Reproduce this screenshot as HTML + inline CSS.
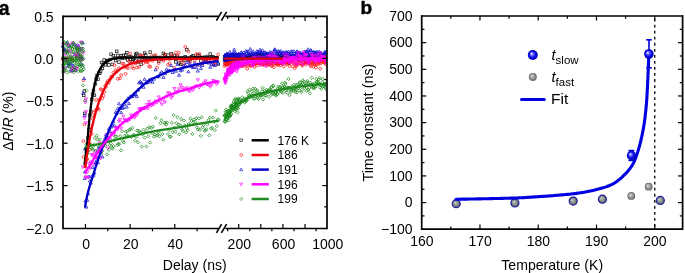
<!DOCTYPE html><html><head><meta charset="utf-8"><style>html,body{margin:0;padding:0;background:#fff;width:685px;height:273px;overflow:hidden}svg{display:block;will-change:transform}</style></head><body><svg width="685" height="273" viewBox="0 0 685 273" font-family='"Liberation Sans", sans-serif' fill="#000"><defs>
<clipPath id="clipA"><rect x="60" y="17" width="266.3" height="210.6"/></clipPath>
<radialGradient id="gb" cx="0.5" cy="0.5" r="0.5" fx="0.36" fy="0.35">
<stop offset="0" stop-color="#ececff"/><stop offset="0.28" stop-color="#7a7aff"/><stop offset="0.55" stop-color="#1a1af2"/><stop offset="0.85" stop-color="#0000cc"/><stop offset="1" stop-color="#00008c"/></radialGradient>
<radialGradient id="gg" cx="0.5" cy="0.5" r="0.5" fx="0.36" fy="0.35">
<stop offset="0" stop-color="#eaeaea"/><stop offset="0.3" stop-color="#b6b6b6"/><stop offset="0.65" stop-color="#8e8e8e"/><stop offset="1" stop-color="#666666"/></radialGradient>
<radialGradient id="gr" cx="0.5" cy="0.5" r="0.5" fx="0.36" fy="0.35">
<stop offset="0" stop-color="#d8dcd8"/><stop offset="0.3" stop-color="#a4aaa4"/><stop offset="0.7" stop-color="#7c847c"/><stop offset="1" stop-color="#566056"/></radialGradient>
</defs><g clip-path="url(#clipA)" fill="none" stroke-width="0.72"><g stroke="#111111"><rect x="61.99" y="57.1" width="2.6" height="2.6"/><rect x="65.79" y="57.91" width="2.6" height="2.6"/><rect x="70.9" y="58.45" width="2.6" height="2.6"/><rect x="75.32" y="56.92" width="2.6" height="2.6"/><rect x="79.43" y="58.56" width="2.6" height="2.6"/><rect x="82.47" y="94.08" width="2.6" height="2.6"/><rect x="83.06" y="89.78" width="2.6" height="2.6"/><rect x="83.45" y="112.07" width="2.6" height="2.6"/><rect x="84.15" y="161.45" width="2.6" height="2.6"/><rect x="85.04" y="150.5" width="2.6" height="2.6"/><rect x="85.94" y="149.03" width="2.6" height="2.6"/><rect x="86.83" y="136.71" width="2.6" height="2.6"/><rect x="87.72" y="128.58" width="2.6" height="2.6"/><rect x="88.62" y="113.88" width="2.6" height="2.6"/><rect x="89.51" y="110.37" width="2.6" height="2.6"/><rect x="90.4" y="98.02" width="2.6" height="2.6"/><rect x="91.3" y="92.83" width="2.6" height="2.6"/><rect x="92.19" y="89.25" width="2.6" height="2.6"/><rect x="93.08" y="93.89" width="2.6" height="2.6"/><rect x="93.98" y="82.65" width="2.6" height="2.6"/><rect x="94.87" y="77.57" width="2.6" height="2.6"/><rect x="95.76" y="74.16" width="2.6" height="2.6"/><rect x="96.65" y="78.01" width="2.6" height="2.6"/><rect x="97.55" y="71.89" width="2.6" height="2.6"/><rect x="98.44" y="71.97" width="2.6" height="2.6"/><rect x="99.33" y="69.73" width="2.6" height="2.6"/><rect x="100.23" y="61.21" width="2.6" height="2.6"/><rect x="101.12" y="67.14" width="2.6" height="2.6"/><rect x="102.01" y="63.14" width="2.6" height="2.6"/><rect x="102.91" y="58.73" width="2.6" height="2.6"/><rect x="103.8" y="63.54" width="2.6" height="2.6"/><rect x="104.69" y="61.06" width="2.6" height="2.6"/><rect x="105.59" y="59.61" width="2.6" height="2.6"/><rect x="106.48" y="59.27" width="2.6" height="2.6"/><rect x="107.6" y="63.64" width="2.6" height="2.6"/><rect x="108.71" y="58.21" width="2.6" height="2.6"/><rect x="109.83" y="52.93" width="2.6" height="2.6"/><rect x="110.95" y="63.1" width="2.6" height="2.6"/><rect x="112.06" y="54.56" width="2.6" height="2.6"/><rect x="113.18" y="56.87" width="2.6" height="2.6"/><rect x="114.3" y="59.29" width="2.6" height="2.6"/><rect x="115.41" y="50.06" width="2.6" height="2.6"/><rect x="116.53" y="54.17" width="2.6" height="2.6"/><rect x="117.65" y="60.8" width="2.6" height="2.6"/><rect x="118.76" y="56.33" width="2.6" height="2.6"/><rect x="119.88" y="54.52" width="2.6" height="2.6"/><rect x="120.99" y="57.08" width="2.6" height="2.6"/><rect x="122.11" y="54.03" width="2.6" height="2.6"/><rect x="123.23" y="56.56" width="2.6" height="2.6"/><rect x="124.34" y="54" width="2.6" height="2.6"/><rect x="125.46" y="51.32" width="2.6" height="2.6"/><rect x="126.58" y="58.55" width="2.6" height="2.6"/><rect x="127.69" y="55.51" width="2.6" height="2.6"/><rect x="128.81" y="57.78" width="2.6" height="2.6"/><rect x="129.93" y="55.73" width="2.6" height="2.6"/><rect x="131.04" y="60.23" width="2.6" height="2.6"/><rect x="132.16" y="58.13" width="2.6" height="2.6"/><rect x="133.28" y="56.81" width="2.6" height="2.6"/><rect x="134.39" y="53.04" width="2.6" height="2.6"/><rect x="135.51" y="52.19" width="2.6" height="2.6"/><rect x="136.63" y="60.66" width="2.6" height="2.6"/><rect x="137.74" y="58.84" width="2.6" height="2.6"/><rect x="138.86" y="53.88" width="2.6" height="2.6"/><rect x="139.97" y="62.94" width="2.6" height="2.6"/><rect x="141.09" y="57.69" width="2.6" height="2.6"/><rect x="142.21" y="56.43" width="2.6" height="2.6"/><rect x="143.32" y="51.78" width="2.6" height="2.6"/><rect x="144.44" y="53.72" width="2.6" height="2.6"/><rect x="145.56" y="57.21" width="2.6" height="2.6"/><rect x="146.67" y="57.35" width="2.6" height="2.6"/><rect x="147.79" y="56.95" width="2.6" height="2.6"/><rect x="148.91" y="50.85" width="2.6" height="2.6"/><rect x="150.02" y="57.56" width="2.6" height="2.6"/><rect x="151.14" y="57.13" width="2.6" height="2.6"/><rect x="152.7" y="54.87" width="2.6" height="2.6"/><rect x="154.27" y="56.5" width="2.6" height="2.6"/><rect x="155.83" y="56.76" width="2.6" height="2.6"/><rect x="157.39" y="59.91" width="2.6" height="2.6"/><rect x="158.96" y="56.12" width="2.6" height="2.6"/><rect x="160.52" y="57.61" width="2.6" height="2.6"/><rect x="162.08" y="52.08" width="2.6" height="2.6"/><rect x="163.64" y="53.84" width="2.6" height="2.6"/><rect x="165.21" y="56.17" width="2.6" height="2.6"/><rect x="166.77" y="53.79" width="2.6" height="2.6"/><rect x="168.33" y="57.25" width="2.6" height="2.6"/><rect x="169.9" y="52.47" width="2.6" height="2.6"/><rect x="171.46" y="56.1" width="2.6" height="2.6"/><rect x="173.02" y="54.08" width="2.6" height="2.6"/><rect x="174.59" y="60.52" width="2.6" height="2.6"/><rect x="176.15" y="54.89" width="2.6" height="2.6"/><rect x="177.71" y="61.88" width="2.6" height="2.6"/><rect x="179.28" y="63.07" width="2.6" height="2.6"/><rect x="180.84" y="57.13" width="2.6" height="2.6"/><rect x="182.4" y="59.17" width="2.6" height="2.6"/><rect x="183.97" y="55.52" width="2.6" height="2.6"/><rect x="185.53" y="48.37" width="2.6" height="2.6"/><rect x="187.09" y="58.94" width="2.6" height="2.6"/><rect x="188.65" y="58.23" width="2.6" height="2.6"/><rect x="190.22" y="55.38" width="2.6" height="2.6"/><rect x="191.78" y="54.39" width="2.6" height="2.6"/><rect x="193.34" y="56.69" width="2.6" height="2.6"/><rect x="194.91" y="56.79" width="2.6" height="2.6"/><rect x="196.47" y="53.67" width="2.6" height="2.6"/><rect x="198.03" y="54.3" width="2.6" height="2.6"/><rect x="199.6" y="59.63" width="2.6" height="2.6"/><rect x="201.16" y="56.35" width="2.6" height="2.6"/><rect x="202.72" y="55.96" width="2.6" height="2.6"/><rect x="204.29" y="59.7" width="2.6" height="2.6"/><rect x="205.85" y="55.19" width="2.6" height="2.6"/><rect x="207.41" y="59.03" width="2.6" height="2.6"/><rect x="208.97" y="52.74" width="2.6" height="2.6"/><rect x="210.54" y="55.42" width="2.6" height="2.6"/><rect x="212.1" y="55.78" width="2.6" height="2.6"/><rect x="213.66" y="58.11" width="2.6" height="2.6"/><rect x="215.23" y="56.49" width="2.6" height="2.6"/><rect x="216.79" y="62.94" width="2.6" height="2.6"/><rect x="223.24" y="58" width="2.6" height="2.6"/><rect x="223.57" y="55.47" width="2.6" height="2.6"/><rect x="223.91" y="59.69" width="2.6" height="2.6"/><rect x="224.24" y="54.65" width="2.6" height="2.6"/><rect x="224.57" y="59.04" width="2.6" height="2.6"/><rect x="224.9" y="54.8" width="2.6" height="2.6"/><rect x="225.23" y="57.52" width="2.6" height="2.6"/><rect x="225.57" y="54.76" width="2.6" height="2.6"/><rect x="225.9" y="55.86" width="2.6" height="2.6"/><rect x="226.23" y="58.69" width="2.6" height="2.6"/><rect x="226.56" y="53.96" width="2.6" height="2.6"/><rect x="226.89" y="53.64" width="2.6" height="2.6"/><rect x="227.22" y="56.19" width="2.6" height="2.6"/><rect x="227.56" y="56.55" width="2.6" height="2.6"/><rect x="227.89" y="56.35" width="2.6" height="2.6"/><rect x="228.22" y="57.74" width="2.6" height="2.6"/><rect x="228.55" y="54.22" width="2.6" height="2.6"/><rect x="228.88" y="57" width="2.6" height="2.6"/><rect x="229.22" y="56.17" width="2.6" height="2.6"/><rect x="229.55" y="57.43" width="2.6" height="2.6"/><rect x="229.88" y="57.14" width="2.6" height="2.6"/><rect x="230.21" y="58.25" width="2.6" height="2.6"/><rect x="230.54" y="53.95" width="2.6" height="2.6"/><rect x="230.87" y="56.34" width="2.6" height="2.6"/><rect x="231.21" y="54.44" width="2.6" height="2.6"/><rect x="231.54" y="56.06" width="2.6" height="2.6"/><rect x="231.87" y="57.26" width="2.6" height="2.6"/><rect x="232.2" y="56.64" width="2.6" height="2.6"/><rect x="232.53" y="57.03" width="2.6" height="2.6"/><rect x="232.87" y="56.07" width="2.6" height="2.6"/><rect x="233.2" y="56.72" width="2.6" height="2.6"/><rect x="233.53" y="56.59" width="2.6" height="2.6"/><rect x="233.86" y="58.42" width="2.6" height="2.6"/><rect x="234.19" y="57.45" width="2.6" height="2.6"/><rect x="234.52" y="53.28" width="2.6" height="2.6"/><rect x="234.86" y="57.22" width="2.6" height="2.6"/><rect x="235.19" y="57.87" width="2.6" height="2.6"/><rect x="235.52" y="55.51" width="2.6" height="2.6"/><rect x="235.85" y="53.7" width="2.6" height="2.6"/><rect x="236.18" y="58.55" width="2.6" height="2.6"/><rect x="236.52" y="56.44" width="2.6" height="2.6"/><rect x="236.85" y="57.16" width="2.6" height="2.6"/><rect x="237.18" y="59.07" width="2.6" height="2.6"/><rect x="237.4" y="54.84" width="2.6" height="2.6"/><rect x="238.01" y="56.12" width="2.6" height="2.6"/><rect x="238.62" y="55.96" width="2.6" height="2.6"/><rect x="239.22" y="57.36" width="2.6" height="2.6"/><rect x="239.83" y="55.31" width="2.6" height="2.6"/><rect x="240.44" y="57" width="2.6" height="2.6"/><rect x="241.05" y="56.33" width="2.6" height="2.6"/><rect x="241.66" y="57.97" width="2.6" height="2.6"/><rect x="242.27" y="58.15" width="2.6" height="2.6"/><rect x="242.87" y="53.82" width="2.6" height="2.6"/><rect x="243.48" y="56.95" width="2.6" height="2.6"/><rect x="244.09" y="55.59" width="2.6" height="2.6"/><rect x="244.7" y="56.15" width="2.6" height="2.6"/><rect x="245.31" y="56.84" width="2.6" height="2.6"/><rect x="245.92" y="56.95" width="2.6" height="2.6"/><rect x="246.52" y="55.02" width="2.6" height="2.6"/><rect x="247.13" y="56.6" width="2.6" height="2.6"/><rect x="247.74" y="56.35" width="2.6" height="2.6"/><rect x="248.35" y="56.06" width="2.6" height="2.6"/><rect x="248.96" y="54.1" width="2.6" height="2.6"/><rect x="249.57" y="54.94" width="2.6" height="2.6"/><rect x="250.17" y="55.45" width="2.6" height="2.6"/><rect x="250.78" y="57.05" width="2.6" height="2.6"/><rect x="251.39" y="58.44" width="2.6" height="2.6"/><rect x="252" y="54.49" width="2.6" height="2.6"/><rect x="252.61" y="54.46" width="2.6" height="2.6"/><rect x="253.22" y="56.34" width="2.6" height="2.6"/><rect x="253.82" y="55.18" width="2.6" height="2.6"/><rect x="254.43" y="54.78" width="2.6" height="2.6"/><rect x="255.04" y="54.69" width="2.6" height="2.6"/><rect x="255.65" y="54.54" width="2.6" height="2.6"/><rect x="256.26" y="56.88" width="2.6" height="2.6"/><rect x="256.87" y="53.54" width="2.6" height="2.6"/><rect x="257.47" y="58.22" width="2.6" height="2.6"/><rect x="258.08" y="54.65" width="2.6" height="2.6"/><rect x="258.69" y="55.27" width="2.6" height="2.6"/><rect x="259.3" y="54.63" width="2.6" height="2.6"/><rect x="259.91" y="52.93" width="2.6" height="2.6"/><rect x="260.52" y="53.6" width="2.6" height="2.6"/><rect x="261.12" y="58.06" width="2.6" height="2.6"/><rect x="261.73" y="58.98" width="2.6" height="2.6"/><rect x="262.34" y="54.74" width="2.6" height="2.6"/><rect x="262.95" y="57.84" width="2.6" height="2.6"/><rect x="263.56" y="56.15" width="2.6" height="2.6"/><rect x="264.17" y="54.7" width="2.6" height="2.6"/><rect x="264.77" y="58.92" width="2.6" height="2.6"/><rect x="265.38" y="59.71" width="2.6" height="2.6"/><rect x="265.99" y="55.69" width="2.6" height="2.6"/><rect x="266.6" y="56.06" width="2.6" height="2.6"/><rect x="267.21" y="56.55" width="2.6" height="2.6"/><rect x="267.81" y="56.07" width="2.6" height="2.6"/><rect x="268.42" y="57.6" width="2.6" height="2.6"/><rect x="269.03" y="58.71" width="2.6" height="2.6"/><rect x="269.64" y="56.43" width="2.6" height="2.6"/><rect x="270.25" y="57.8" width="2.6" height="2.6"/><rect x="270.86" y="58.94" width="2.6" height="2.6"/><rect x="271.46" y="55.29" width="2.6" height="2.6"/><rect x="272.07" y="56.26" width="2.6" height="2.6"/><rect x="272.68" y="55.47" width="2.6" height="2.6"/><rect x="273.29" y="57.84" width="2.6" height="2.6"/><rect x="273.9" y="57.28" width="2.6" height="2.6"/><rect x="274.51" y="57.86" width="2.6" height="2.6"/><rect x="275.11" y="57.67" width="2.6" height="2.6"/><rect x="275.72" y="55.84" width="2.6" height="2.6"/><rect x="276.33" y="57.5" width="2.6" height="2.6"/><rect x="276.94" y="55.57" width="2.6" height="2.6"/><rect x="277.55" y="55.61" width="2.6" height="2.6"/><rect x="278.16" y="52.75" width="2.6" height="2.6"/><rect x="278.76" y="58.55" width="2.6" height="2.6"/><rect x="279.37" y="54.69" width="2.6" height="2.6"/><rect x="279.98" y="56.35" width="2.6" height="2.6"/><rect x="280.59" y="56.22" width="2.6" height="2.6"/><rect x="281.2" y="58.66" width="2.6" height="2.6"/><rect x="281.81" y="56.99" width="2.6" height="2.6"/><rect x="282.41" y="54.95" width="2.6" height="2.6"/><rect x="283.02" y="56.35" width="2.6" height="2.6"/><rect x="283.63" y="56.08" width="2.6" height="2.6"/><rect x="284.24" y="56.71" width="2.6" height="2.6"/><rect x="284.85" y="54.27" width="2.6" height="2.6"/><rect x="285.46" y="56.27" width="2.6" height="2.6"/><rect x="286.06" y="59.97" width="2.6" height="2.6"/><rect x="286.67" y="57.41" width="2.6" height="2.6"/><rect x="287.28" y="59.58" width="2.6" height="2.6"/><rect x="287.89" y="61.76" width="2.6" height="2.6"/><rect x="288.5" y="57.15" width="2.6" height="2.6"/><rect x="289.11" y="54" width="2.6" height="2.6"/><rect x="289.71" y="56.18" width="2.6" height="2.6"/><rect x="290.32" y="58.26" width="2.6" height="2.6"/><rect x="290.93" y="57.87" width="2.6" height="2.6"/><rect x="291.54" y="54.36" width="2.6" height="2.6"/><rect x="292.15" y="56.01" width="2.6" height="2.6"/><rect x="292.76" y="56.21" width="2.6" height="2.6"/><rect x="293.36" y="56.38" width="2.6" height="2.6"/><rect x="293.97" y="56.23" width="2.6" height="2.6"/><rect x="294.58" y="54.94" width="2.6" height="2.6"/><rect x="295.19" y="55.37" width="2.6" height="2.6"/><rect x="295.8" y="55.95" width="2.6" height="2.6"/><rect x="296.41" y="58.09" width="2.6" height="2.6"/><rect x="297.01" y="55.46" width="2.6" height="2.6"/><rect x="297.62" y="57.49" width="2.6" height="2.6"/><rect x="298.23" y="54.48" width="2.6" height="2.6"/><rect x="298.84" y="58.5" width="2.6" height="2.6"/><rect x="299.45" y="56.58" width="2.6" height="2.6"/><rect x="300.05" y="56.37" width="2.6" height="2.6"/><rect x="300.66" y="58.61" width="2.6" height="2.6"/><rect x="301.27" y="53.45" width="2.6" height="2.6"/><rect x="301.88" y="53.9" width="2.6" height="2.6"/><rect x="302.49" y="57.17" width="2.6" height="2.6"/><rect x="303.1" y="55.08" width="2.6" height="2.6"/><rect x="303.7" y="55.76" width="2.6" height="2.6"/><rect x="304.31" y="60.84" width="2.6" height="2.6"/><rect x="304.92" y="55.99" width="2.6" height="2.6"/><rect x="305.53" y="56.52" width="2.6" height="2.6"/><rect x="306.14" y="56.29" width="2.6" height="2.6"/><rect x="306.75" y="58.26" width="2.6" height="2.6"/><rect x="307.35" y="56.9" width="2.6" height="2.6"/><rect x="307.96" y="56.75" width="2.6" height="2.6"/><rect x="308.57" y="54.44" width="2.6" height="2.6"/><rect x="309.18" y="55.9" width="2.6" height="2.6"/><rect x="309.79" y="56.48" width="2.6" height="2.6"/><rect x="310.4" y="53.89" width="2.6" height="2.6"/><rect x="311" y="57.43" width="2.6" height="2.6"/><rect x="311.61" y="57.16" width="2.6" height="2.6"/><rect x="312.22" y="59.59" width="2.6" height="2.6"/><rect x="312.83" y="53.85" width="2.6" height="2.6"/><rect x="313.44" y="54.89" width="2.6" height="2.6"/><rect x="314.05" y="54.98" width="2.6" height="2.6"/><rect x="314.65" y="55.41" width="2.6" height="2.6"/><rect x="315.26" y="56.36" width="2.6" height="2.6"/><rect x="315.87" y="56.19" width="2.6" height="2.6"/><rect x="316.48" y="57" width="2.6" height="2.6"/><rect x="317.09" y="56.92" width="2.6" height="2.6"/><rect x="317.7" y="56.5" width="2.6" height="2.6"/><rect x="318.3" y="54.03" width="2.6" height="2.6"/><rect x="318.91" y="55.66" width="2.6" height="2.6"/><rect x="319.52" y="56.72" width="2.6" height="2.6"/><rect x="320.13" y="57.61" width="2.6" height="2.6"/><rect x="320.74" y="57.71" width="2.6" height="2.6"/><rect x="321.35" y="53.93" width="2.6" height="2.6"/><rect x="321.95" y="55.8" width="2.6" height="2.6"/><rect x="322.56" y="56.55" width="2.6" height="2.6"/><rect x="323.17" y="57.27" width="2.6" height="2.6"/><rect x="323.78" y="58.57" width="2.6" height="2.6"/><rect x="324.39" y="56.81" width="2.6" height="2.6"/><rect x="325" y="55.23" width="2.6" height="2.6"/><rect x="325.6" y="57.39" width="2.6" height="2.6"/></g><g stroke="#ff1010"><circle cx="62.53" cy="59.07" r="1.4"/><circle cx="67.86" cy="58.07" r="1.4"/><circle cx="72.04" cy="59.1" r="1.4"/><circle cx="76.72" cy="55.77" r="1.4"/><circle cx="81.25" cy="56.69" r="1.4"/><circle cx="83.4" cy="80.31" r="1.4"/><circle cx="84.36" cy="124.37" r="1.4"/><circle cx="83.45" cy="141.24" r="1.4"/><circle cx="83.55" cy="157.02" r="1.4"/><circle cx="85.45" cy="166.67" r="1.4"/><circle cx="86.34" cy="160.19" r="1.4"/><circle cx="87.24" cy="159.01" r="1.4"/><circle cx="88.13" cy="146.01" r="1.4"/><circle cx="89.02" cy="149.48" r="1.4"/><circle cx="89.92" cy="143.84" r="1.4"/><circle cx="90.81" cy="126.1" r="1.4"/><circle cx="91.7" cy="133.83" r="1.4"/><circle cx="92.6" cy="118.81" r="1.4"/><circle cx="93.49" cy="112.54" r="1.4"/><circle cx="94.38" cy="115.9" r="1.4"/><circle cx="95.28" cy="110.88" r="1.4"/><circle cx="96.17" cy="99.96" r="1.4"/><circle cx="97.06" cy="108.79" r="1.4"/><circle cx="97.95" cy="108.13" r="1.4"/><circle cx="98.85" cy="109.65" r="1.4"/><circle cx="99.74" cy="99.43" r="1.4"/><circle cx="100.63" cy="89.13" r="1.4"/><circle cx="101.53" cy="89.76" r="1.4"/><circle cx="102.42" cy="98.13" r="1.4"/><circle cx="103.31" cy="95.67" r="1.4"/><circle cx="104.21" cy="91.86" r="1.4"/><circle cx="105.1" cy="85.71" r="1.4"/><circle cx="105.99" cy="86.79" r="1.4"/><circle cx="106.89" cy="82.91" r="1.4"/><circle cx="107.78" cy="80.98" r="1.4"/><circle cx="108.9" cy="82.54" r="1.4"/><circle cx="110.01" cy="79.52" r="1.4"/><circle cx="111.13" cy="76.67" r="1.4"/><circle cx="112.25" cy="76.83" r="1.4"/><circle cx="113.36" cy="72.8" r="1.4"/><circle cx="114.48" cy="65.2" r="1.4"/><circle cx="115.6" cy="70.09" r="1.4"/><circle cx="116.71" cy="71.58" r="1.4"/><circle cx="117.83" cy="78.8" r="1.4"/><circle cx="118.95" cy="68.2" r="1.4"/><circle cx="120.06" cy="78.32" r="1.4"/><circle cx="121.18" cy="75.04" r="1.4"/><circle cx="122.29" cy="63.73" r="1.4"/><circle cx="123.41" cy="63.77" r="1.4"/><circle cx="124.53" cy="67.18" r="1.4"/><circle cx="125.64" cy="73.93" r="1.4"/><circle cx="126.76" cy="67.13" r="1.4"/><circle cx="127.88" cy="68.09" r="1.4"/><circle cx="128.99" cy="61.47" r="1.4"/><circle cx="130.11" cy="53.46" r="1.4"/><circle cx="131.23" cy="62.64" r="1.4"/><circle cx="132.34" cy="66.95" r="1.4"/><circle cx="133.46" cy="68.44" r="1.4"/><circle cx="134.58" cy="62.91" r="1.4"/><circle cx="135.69" cy="63.19" r="1.4"/><circle cx="136.81" cy="67.49" r="1.4"/><circle cx="137.93" cy="61.3" r="1.4"/><circle cx="139.04" cy="67.01" r="1.4"/><circle cx="140.16" cy="56.2" r="1.4"/><circle cx="141.28" cy="56.23" r="1.4"/><circle cx="142.39" cy="55.94" r="1.4"/><circle cx="143.51" cy="63.08" r="1.4"/><circle cx="144.62" cy="58.29" r="1.4"/><circle cx="145.74" cy="61.17" r="1.4"/><circle cx="146.86" cy="62.23" r="1.4"/><circle cx="147.97" cy="61.88" r="1.4"/><circle cx="149.09" cy="66.26" r="1.4"/><circle cx="150.21" cy="66.83" r="1.4"/><circle cx="151.32" cy="56.24" r="1.4"/><circle cx="152.44" cy="60.76" r="1.4"/><circle cx="154" cy="58.73" r="1.4"/><circle cx="155.57" cy="54.94" r="1.4"/><circle cx="157.13" cy="67.66" r="1.4"/><circle cx="158.69" cy="63.13" r="1.4"/><circle cx="160.26" cy="58.55" r="1.4"/><circle cx="161.82" cy="57.46" r="1.4"/><circle cx="163.38" cy="61" r="1.4"/><circle cx="164.94" cy="54.36" r="1.4"/><circle cx="166.51" cy="58.14" r="1.4"/><circle cx="168.07" cy="64.77" r="1.4"/><circle cx="169.63" cy="63.4" r="1.4"/><circle cx="171.2" cy="55.23" r="1.4"/><circle cx="172.76" cy="56.79" r="1.4"/><circle cx="174.32" cy="67.83" r="1.4"/><circle cx="175.89" cy="52.59" r="1.4"/><circle cx="177.45" cy="56.08" r="1.4"/><circle cx="179.01" cy="52.57" r="1.4"/><circle cx="180.58" cy="60.64" r="1.4"/><circle cx="182.14" cy="60.21" r="1.4"/><circle cx="183.7" cy="64.08" r="1.4"/><circle cx="185.27" cy="46.9" r="1.4"/><circle cx="186.83" cy="59.6" r="1.4"/><circle cx="188.39" cy="51.33" r="1.4"/><circle cx="189.95" cy="61.79" r="1.4"/><circle cx="191.52" cy="57.98" r="1.4"/><circle cx="193.08" cy="66.57" r="1.4"/><circle cx="194.64" cy="60.52" r="1.4"/><circle cx="196.21" cy="54.11" r="1.4"/><circle cx="197.77" cy="64.58" r="1.4"/><circle cx="199.33" cy="53.68" r="1.4"/><circle cx="200.9" cy="57.12" r="1.4"/><circle cx="202.46" cy="63.59" r="1.4"/><circle cx="204.02" cy="61.04" r="1.4"/><circle cx="205.59" cy="60.84" r="1.4"/><circle cx="207.15" cy="58.92" r="1.4"/><circle cx="208.71" cy="61.19" r="1.4"/><circle cx="210.27" cy="62.56" r="1.4"/><circle cx="211.84" cy="60.1" r="1.4"/><circle cx="213.4" cy="63.49" r="1.4"/><circle cx="214.96" cy="64.71" r="1.4"/><circle cx="216.53" cy="58.9" r="1.4"/><circle cx="218.09" cy="54.53" r="1.4"/><circle cx="224.54" cy="66.18" r="1.4"/><circle cx="224.88" cy="63.06" r="1.4"/><circle cx="225.21" cy="64.39" r="1.4"/><circle cx="225.54" cy="65.05" r="1.4"/><circle cx="225.87" cy="61.33" r="1.4"/><circle cx="226.2" cy="64.12" r="1.4"/><circle cx="226.53" cy="60.01" r="1.4"/><circle cx="226.87" cy="64.65" r="1.4"/><circle cx="227.2" cy="62.28" r="1.4"/><circle cx="227.53" cy="63.53" r="1.4"/><circle cx="227.86" cy="64.6" r="1.4"/><circle cx="228.19" cy="61.87" r="1.4"/><circle cx="228.52" cy="63.38" r="1.4"/><circle cx="228.86" cy="61.84" r="1.4"/><circle cx="229.19" cy="63.16" r="1.4"/><circle cx="229.52" cy="65.27" r="1.4"/><circle cx="229.85" cy="63.27" r="1.4"/><circle cx="230.18" cy="62.96" r="1.4"/><circle cx="230.52" cy="61.11" r="1.4"/><circle cx="230.85" cy="64.91" r="1.4"/><circle cx="231.18" cy="63.14" r="1.4"/><circle cx="231.51" cy="66.57" r="1.4"/><circle cx="231.84" cy="61.74" r="1.4"/><circle cx="232.17" cy="65.27" r="1.4"/><circle cx="232.51" cy="66.74" r="1.4"/><circle cx="232.84" cy="63.18" r="1.4"/><circle cx="233.17" cy="60.81" r="1.4"/><circle cx="233.5" cy="66.17" r="1.4"/><circle cx="233.83" cy="65.28" r="1.4"/><circle cx="234.17" cy="64.58" r="1.4"/><circle cx="234.5" cy="65.36" r="1.4"/><circle cx="234.83" cy="62.29" r="1.4"/><circle cx="235.16" cy="64.71" r="1.4"/><circle cx="235.49" cy="64.53" r="1.4"/><circle cx="235.82" cy="61.88" r="1.4"/><circle cx="236.16" cy="64.6" r="1.4"/><circle cx="236.49" cy="62.18" r="1.4"/><circle cx="236.82" cy="65.04" r="1.4"/><circle cx="237.15" cy="65.53" r="1.4"/><circle cx="237.48" cy="66.8" r="1.4"/><circle cx="237.82" cy="59.28" r="1.4"/><circle cx="238.15" cy="63.72" r="1.4"/><circle cx="238.48" cy="62.57" r="1.4"/><circle cx="238.7" cy="63.13" r="1.4"/><circle cx="239.31" cy="62.74" r="1.4"/><circle cx="239.92" cy="62.96" r="1.4"/><circle cx="240.52" cy="59.18" r="1.4"/><circle cx="241.13" cy="65.18" r="1.4"/><circle cx="241.74" cy="66.23" r="1.4"/><circle cx="242.35" cy="65.12" r="1.4"/><circle cx="242.96" cy="65.78" r="1.4"/><circle cx="243.57" cy="61.54" r="1.4"/><circle cx="244.17" cy="61.39" r="1.4"/><circle cx="244.78" cy="65.02" r="1.4"/><circle cx="245.39" cy="65.89" r="1.4"/><circle cx="246" cy="63.79" r="1.4"/><circle cx="246.61" cy="60.23" r="1.4"/><circle cx="247.22" cy="68.8" r="1.4"/><circle cx="247.82" cy="61.99" r="1.4"/><circle cx="248.43" cy="65.25" r="1.4"/><circle cx="249.04" cy="60.95" r="1.4"/><circle cx="249.65" cy="65.26" r="1.4"/><circle cx="250.26" cy="63.64" r="1.4"/><circle cx="250.87" cy="66.13" r="1.4"/><circle cx="251.47" cy="65.05" r="1.4"/><circle cx="252.08" cy="60.24" r="1.4"/><circle cx="252.69" cy="61.39" r="1.4"/><circle cx="253.3" cy="63.88" r="1.4"/><circle cx="253.91" cy="64.83" r="1.4"/><circle cx="254.52" cy="66.92" r="1.4"/><circle cx="255.12" cy="63.87" r="1.4"/><circle cx="255.73" cy="63.13" r="1.4"/><circle cx="256.34" cy="63.24" r="1.4"/><circle cx="256.95" cy="63.25" r="1.4"/><circle cx="257.56" cy="65.35" r="1.4"/><circle cx="258.17" cy="63.2" r="1.4"/><circle cx="258.77" cy="63.14" r="1.4"/><circle cx="259.38" cy="60.44" r="1.4"/><circle cx="259.99" cy="59.26" r="1.4"/><circle cx="260.6" cy="63.34" r="1.4"/><circle cx="261.21" cy="64.62" r="1.4"/><circle cx="261.82" cy="63.2" r="1.4"/><circle cx="262.42" cy="64.3" r="1.4"/><circle cx="263.03" cy="64.58" r="1.4"/><circle cx="263.64" cy="63.18" r="1.4"/><circle cx="264.25" cy="65.19" r="1.4"/><circle cx="264.86" cy="61.83" r="1.4"/><circle cx="265.47" cy="63.28" r="1.4"/><circle cx="266.07" cy="62.56" r="1.4"/><circle cx="266.68" cy="63.44" r="1.4"/><circle cx="267.29" cy="64.54" r="1.4"/><circle cx="267.9" cy="64.99" r="1.4"/><circle cx="268.51" cy="63.55" r="1.4"/><circle cx="269.12" cy="64.18" r="1.4"/><circle cx="269.72" cy="62.59" r="1.4"/><circle cx="270.33" cy="63.07" r="1.4"/><circle cx="270.94" cy="65.84" r="1.4"/><circle cx="271.55" cy="62.93" r="1.4"/><circle cx="272.16" cy="65.8" r="1.4"/><circle cx="272.76" cy="64.32" r="1.4"/><circle cx="273.37" cy="63.66" r="1.4"/><circle cx="273.98" cy="67.29" r="1.4"/><circle cx="274.59" cy="62.88" r="1.4"/><circle cx="275.2" cy="62.76" r="1.4"/><circle cx="275.81" cy="63.39" r="1.4"/><circle cx="276.41" cy="63.93" r="1.4"/><circle cx="277.02" cy="63.82" r="1.4"/><circle cx="277.63" cy="65.05" r="1.4"/><circle cx="278.24" cy="63.61" r="1.4"/><circle cx="278.85" cy="64.19" r="1.4"/><circle cx="279.46" cy="62.88" r="1.4"/><circle cx="280.06" cy="65.51" r="1.4"/><circle cx="280.67" cy="62.58" r="1.4"/><circle cx="281.28" cy="62.77" r="1.4"/><circle cx="281.89" cy="63.35" r="1.4"/><circle cx="282.5" cy="63.96" r="1.4"/><circle cx="283.11" cy="61.94" r="1.4"/><circle cx="283.71" cy="66.45" r="1.4"/><circle cx="284.32" cy="62.13" r="1.4"/><circle cx="284.93" cy="62.57" r="1.4"/><circle cx="285.54" cy="62.49" r="1.4"/><circle cx="286.15" cy="62.28" r="1.4"/><circle cx="286.76" cy="64.39" r="1.4"/><circle cx="287.36" cy="63.59" r="1.4"/><circle cx="287.97" cy="61.77" r="1.4"/><circle cx="288.58" cy="62.19" r="1.4"/><circle cx="289.19" cy="62.64" r="1.4"/><circle cx="289.8" cy="66.15" r="1.4"/><circle cx="290.41" cy="61.97" r="1.4"/><circle cx="291.01" cy="60.68" r="1.4"/><circle cx="291.62" cy="61.01" r="1.4"/><circle cx="292.23" cy="62.59" r="1.4"/><circle cx="292.84" cy="66.23" r="1.4"/><circle cx="293.45" cy="61.15" r="1.4"/><circle cx="294.06" cy="63.36" r="1.4"/><circle cx="294.66" cy="68.22" r="1.4"/><circle cx="295.27" cy="62.3" r="1.4"/><circle cx="295.88" cy="66.1" r="1.4"/><circle cx="296.49" cy="65.7" r="1.4"/><circle cx="297.1" cy="64.36" r="1.4"/><circle cx="297.71" cy="60.47" r="1.4"/><circle cx="298.31" cy="63.82" r="1.4"/><circle cx="298.92" cy="62.51" r="1.4"/><circle cx="299.53" cy="59.51" r="1.4"/><circle cx="300.14" cy="59.82" r="1.4"/><circle cx="300.75" cy="63.27" r="1.4"/><circle cx="301.35" cy="63.56" r="1.4"/><circle cx="301.96" cy="65.63" r="1.4"/><circle cx="302.57" cy="64.48" r="1.4"/><circle cx="303.18" cy="62.2" r="1.4"/><circle cx="303.79" cy="62.26" r="1.4"/><circle cx="304.4" cy="62.84" r="1.4"/><circle cx="305" cy="61.04" r="1.4"/><circle cx="305.61" cy="64.64" r="1.4"/><circle cx="306.22" cy="63.18" r="1.4"/><circle cx="306.83" cy="61.58" r="1.4"/><circle cx="307.44" cy="61.88" r="1.4"/><circle cx="308.05" cy="60.88" r="1.4"/><circle cx="308.65" cy="62.26" r="1.4"/><circle cx="309.26" cy="63.69" r="1.4"/><circle cx="309.87" cy="62.33" r="1.4"/><circle cx="310.48" cy="65.1" r="1.4"/><circle cx="311.09" cy="66.4" r="1.4"/><circle cx="311.7" cy="61.88" r="1.4"/><circle cx="312.3" cy="63.18" r="1.4"/><circle cx="312.91" cy="62.44" r="1.4"/><circle cx="313.52" cy="66.52" r="1.4"/><circle cx="314.13" cy="63.81" r="1.4"/><circle cx="314.74" cy="64.28" r="1.4"/><circle cx="315.35" cy="64.82" r="1.4"/><circle cx="315.95" cy="67.65" r="1.4"/><circle cx="316.56" cy="63.75" r="1.4"/><circle cx="317.17" cy="61.24" r="1.4"/><circle cx="317.78" cy="62.29" r="1.4"/><circle cx="318.39" cy="64.29" r="1.4"/><circle cx="319" cy="63.09" r="1.4"/><circle cx="319.6" cy="61.52" r="1.4"/><circle cx="320.21" cy="68.68" r="1.4"/><circle cx="320.82" cy="63.32" r="1.4"/><circle cx="321.43" cy="61.96" r="1.4"/><circle cx="322.04" cy="61.68" r="1.4"/><circle cx="322.65" cy="59.6" r="1.4"/><circle cx="323.25" cy="60.75" r="1.4"/><circle cx="323.86" cy="62.43" r="1.4"/><circle cx="324.47" cy="62.45" r="1.4"/><circle cx="325.08" cy="61.46" r="1.4"/><circle cx="325.69" cy="64.16" r="1.4"/><circle cx="326.3" cy="63.15" r="1.4"/><circle cx="326.9" cy="61.22" r="1.4"/></g><g stroke="#1010d0"><path d="M62.69 44.47l1.55 2.7h-3.1z"/><path d="M63.84 47.66l1.55 2.7h-3.1z"/><path d="M64.38 48.19l1.55 2.7h-3.1z"/><path d="M65.51 48.66l1.55 2.7h-3.1z"/><path d="M65.64 58.96l1.55 2.7h-3.1z"/><path d="M67.13 41.4l1.55 2.7h-3.1z"/><path d="M67.95 64.54l1.55 2.7h-3.1z"/><path d="M68.49 62.28l1.55 2.7h-3.1z"/><path d="M69.28 44.54l1.55 2.7h-3.1z"/><path d="M69.94 62l1.55 2.7h-3.1z"/><path d="M70.66 68.44l1.55 2.7h-3.1z"/><path d="M71.41 62.52l1.55 2.7h-3.1z"/><path d="M72.51 68.87l1.55 2.7h-3.1z"/><path d="M73.59 64.25l1.55 2.7h-3.1z"/><path d="M73.92 42.63l1.55 2.7h-3.1z"/><path d="M74.96 53.32l1.55 2.7h-3.1z"/><path d="M75.38 68.5l1.55 2.7h-3.1z"/><path d="M76.54 43.78l1.55 2.7h-3.1z"/><path d="M76.93 46.23l1.55 2.7h-3.1z"/><path d="M78.54 52.63l1.55 2.7h-3.1z"/><path d="M78.48 44.32l1.55 2.7h-3.1z"/><path d="M79.65 54.86l1.55 2.7h-3.1z"/><path d="M80.16 47.59l1.55 2.7h-3.1z"/><path d="M81.7 62.7l1.55 2.7h-3.1z"/><path d="M82.14 56.46l1.55 2.7h-3.1z"/><path d="M82.81 41.22l1.55 2.7h-3.1z"/><path d="M84.17 76.86l1.55 2.7h-3.1z"/><path d="M83.06 91.52l1.55 2.7h-3.1z"/><path d="M86.18 145.93l1.55 2.7h-3.1z"/><path d="M85.08 147.44l1.55 2.7h-3.1z"/><path d="M84.81 113.87l1.55 2.7h-3.1z"/><path d="M84.88 170.13l1.55 2.7h-3.1z"/><path d="M84.74 176.77l1.55 2.7h-3.1z"/><path d="M85.45 199.39l1.55 2.7h-3.1z"/><path d="M86.34 205.41l1.55 2.7h-3.1z"/><path d="M87.24 198.67l1.55 2.7h-3.1z"/><path d="M88.13 191.91l1.55 2.7h-3.1z"/><path d="M89.02 175.01l1.55 2.7h-3.1z"/><path d="M89.92 179.31l1.55 2.7h-3.1z"/><path d="M90.81 181.42l1.55 2.7h-3.1z"/><path d="M91.7 174.8l1.55 2.7h-3.1z"/><path d="M92.6 165.76l1.55 2.7h-3.1z"/><path d="M93.49 173.59l1.55 2.7h-3.1z"/><path d="M94.38 171.28l1.55 2.7h-3.1z"/><path d="M95.28 161.06l1.55 2.7h-3.1z"/><path d="M96.17 161.61l1.55 2.7h-3.1z"/><path d="M97.06 158.05l1.55 2.7h-3.1z"/><path d="M97.95 160.87l1.55 2.7h-3.1z"/><path d="M98.85 146.9l1.55 2.7h-3.1z"/><path d="M99.74 145.32l1.55 2.7h-3.1z"/><path d="M100.63 148.12l1.55 2.7h-3.1z"/><path d="M101.53 145.08l1.55 2.7h-3.1z"/><path d="M102.42 155.27l1.55 2.7h-3.1z"/><path d="M103.31 140.41l1.55 2.7h-3.1z"/><path d="M104.21 141.9l1.55 2.7h-3.1z"/><path d="M105.1 136.6l1.55 2.7h-3.1z"/><path d="M105.99 133.1l1.55 2.7h-3.1z"/><path d="M106.89 135.58l1.55 2.7h-3.1z"/><path d="M107.78 139.62l1.55 2.7h-3.1z"/><path d="M108.9 127.27l1.55 2.7h-3.1z"/><path d="M110.01 129.79l1.55 2.7h-3.1z"/><path d="M111.13 125.33l1.55 2.7h-3.1z"/><path d="M112.25 123.31l1.55 2.7h-3.1z"/><path d="M113.36 120.09l1.55 2.7h-3.1z"/><path d="M114.48 124.23l1.55 2.7h-3.1z"/><path d="M115.6 110.54l1.55 2.7h-3.1z"/><path d="M116.71 111.62l1.55 2.7h-3.1z"/><path d="M117.83 106.87l1.55 2.7h-3.1z"/><path d="M118.95 102.12l1.55 2.7h-3.1z"/><path d="M120.06 106.69l1.55 2.7h-3.1z"/><path d="M121.18 110.94l1.55 2.7h-3.1z"/><path d="M122.29 106.43l1.55 2.7h-3.1z"/><path d="M123.41 106.11l1.55 2.7h-3.1z"/><path d="M124.53 102.61l1.55 2.7h-3.1z"/><path d="M125.64 99.63l1.55 2.7h-3.1z"/><path d="M126.76 105.41l1.55 2.7h-3.1z"/><path d="M127.88 96.78l1.55 2.7h-3.1z"/><path d="M128.99 101.84l1.55 2.7h-3.1z"/><path d="M130.11 94.9l1.55 2.7h-3.1z"/><path d="M131.23 95.16l1.55 2.7h-3.1z"/><path d="M132.34 94.74l1.55 2.7h-3.1z"/><path d="M133.46 92.87l1.55 2.7h-3.1z"/><path d="M134.58 93.31l1.55 2.7h-3.1z"/><path d="M135.69 92.47l1.55 2.7h-3.1z"/><path d="M136.81 94.9l1.55 2.7h-3.1z"/><path d="M137.93 88.45l1.55 2.7h-3.1z"/><path d="M139.04 81.31l1.55 2.7h-3.1z"/><path d="M140.16 79.88l1.55 2.7h-3.1z"/><path d="M141.28 81.03l1.55 2.7h-3.1z"/><path d="M142.39 82.04l1.55 2.7h-3.1z"/><path d="M143.51 85.55l1.55 2.7h-3.1z"/><path d="M144.62 77.65l1.55 2.7h-3.1z"/><path d="M145.74 81.58l1.55 2.7h-3.1z"/><path d="M146.86 80.71l1.55 2.7h-3.1z"/><path d="M147.97 80.58l1.55 2.7h-3.1z"/><path d="M149.09 78.54l1.55 2.7h-3.1z"/><path d="M150.21 79.55l1.55 2.7h-3.1z"/><path d="M151.32 77.79l1.55 2.7h-3.1z"/><path d="M152.44 80.5l1.55 2.7h-3.1z"/><path d="M154 77.48l1.55 2.7h-3.1z"/><path d="M155.57 68.16l1.55 2.7h-3.1z"/><path d="M157.13 75.17l1.55 2.7h-3.1z"/><path d="M158.69 75.02l1.55 2.7h-3.1z"/><path d="M160.26 71.77l1.55 2.7h-3.1z"/><path d="M161.82 70.45l1.55 2.7h-3.1z"/><path d="M163.38 75.65l1.55 2.7h-3.1z"/><path d="M164.94 71.98l1.55 2.7h-3.1z"/><path d="M166.51 67.63l1.55 2.7h-3.1z"/><path d="M168.07 69.13l1.55 2.7h-3.1z"/><path d="M169.63 69.06l1.55 2.7h-3.1z"/><path d="M171.2 63.92l1.55 2.7h-3.1z"/><path d="M172.76 70.79l1.55 2.7h-3.1z"/><path d="M174.32 67.93l1.55 2.7h-3.1z"/><path d="M175.89 69.54l1.55 2.7h-3.1z"/><path d="M177.45 62.64l1.55 2.7h-3.1z"/><path d="M179.01 73.55l1.55 2.7h-3.1z"/><path d="M180.58 69.03l1.55 2.7h-3.1z"/><path d="M182.14 68.23l1.55 2.7h-3.1z"/><path d="M183.7 63.96l1.55 2.7h-3.1z"/><path d="M185.27 63.75l1.55 2.7h-3.1z"/><path d="M186.83 60.76l1.55 2.7h-3.1z"/><path d="M188.39 70.02l1.55 2.7h-3.1z"/><path d="M189.95 62l1.55 2.7h-3.1z"/><path d="M191.52 64.99l1.55 2.7h-3.1z"/><path d="M193.08 65.81l1.55 2.7h-3.1z"/><path d="M194.64 61.5l1.55 2.7h-3.1z"/><path d="M196.21 65.92l1.55 2.7h-3.1z"/><path d="M197.77 69.37l1.55 2.7h-3.1z"/><path d="M199.33 63.49l1.55 2.7h-3.1z"/><path d="M200.9 66.89l1.55 2.7h-3.1z"/><path d="M202.46 63.86l1.55 2.7h-3.1z"/><path d="M204.02 60.28l1.55 2.7h-3.1z"/><path d="M205.59 60.22l1.55 2.7h-3.1z"/><path d="M207.15 55.81l1.55 2.7h-3.1z"/><path d="M208.71 61.4l1.55 2.7h-3.1z"/><path d="M210.27 65.54l1.55 2.7h-3.1z"/><path d="M211.84 62.8l1.55 2.7h-3.1z"/><path d="M213.4 63.16l1.55 2.7h-3.1z"/><path d="M214.96 63.99l1.55 2.7h-3.1z"/><path d="M216.53 58.49l1.55 2.7h-3.1z"/><path d="M218.09 61.95l1.55 2.7h-3.1z"/><path d="M224.54 58.36l1.55 2.7h-3.1z"/><path d="M224.88 53.3l1.55 2.7h-3.1z"/><path d="M225.21 54.72l1.55 2.7h-3.1z"/><path d="M225.54 53.76l1.55 2.7h-3.1z"/><path d="M225.87 54.15l1.55 2.7h-3.1z"/><path d="M226.2 53.08l1.55 2.7h-3.1z"/><path d="M226.53 54.11l1.55 2.7h-3.1z"/><path d="M226.87 51.79l1.55 2.7h-3.1z"/><path d="M227.2 53.22l1.55 2.7h-3.1z"/><path d="M227.53 53.2l1.55 2.7h-3.1z"/><path d="M227.86 53.08l1.55 2.7h-3.1z"/><path d="M228.19 56.49l1.55 2.7h-3.1z"/><path d="M228.52 54l1.55 2.7h-3.1z"/><path d="M228.86 54.1l1.55 2.7h-3.1z"/><path d="M229.19 53.15l1.55 2.7h-3.1z"/><path d="M229.52 56.01l1.55 2.7h-3.1z"/><path d="M229.85 50.35l1.55 2.7h-3.1z"/><path d="M230.18 53.14l1.55 2.7h-3.1z"/><path d="M230.52 55.53l1.55 2.7h-3.1z"/><path d="M230.85 56.4l1.55 2.7h-3.1z"/><path d="M231.18 53.68l1.55 2.7h-3.1z"/><path d="M231.51 53.27l1.55 2.7h-3.1z"/><path d="M231.84 54.39l1.55 2.7h-3.1z"/><path d="M232.17 52.84l1.55 2.7h-3.1z"/><path d="M232.51 54.16l1.55 2.7h-3.1z"/><path d="M232.84 51.9l1.55 2.7h-3.1z"/><path d="M233.17 54.25l1.55 2.7h-3.1z"/><path d="M233.5 52.94l1.55 2.7h-3.1z"/><path d="M233.83 51.02l1.55 2.7h-3.1z"/><path d="M234.17 48.02l1.55 2.7h-3.1z"/><path d="M234.5 54.67l1.55 2.7h-3.1z"/><path d="M234.83 53.62l1.55 2.7h-3.1z"/><path d="M235.16 54.3l1.55 2.7h-3.1z"/><path d="M235.49 51.24l1.55 2.7h-3.1z"/><path d="M235.82 54.82l1.55 2.7h-3.1z"/><path d="M236.16 53.55l1.55 2.7h-3.1z"/><path d="M236.49 52.68l1.55 2.7h-3.1z"/><path d="M236.82 54.43l1.55 2.7h-3.1z"/><path d="M237.15 54.36l1.55 2.7h-3.1z"/><path d="M237.48 53.44l1.55 2.7h-3.1z"/><path d="M237.82 56.44l1.55 2.7h-3.1z"/><path d="M238.15 55.2l1.55 2.7h-3.1z"/><path d="M238.48 53.25l1.55 2.7h-3.1z"/><path d="M238.7 52.19l1.55 2.7h-3.1z"/><path d="M239.31 52.77l1.55 2.7h-3.1z"/><path d="M239.92 55.69l1.55 2.7h-3.1z"/><path d="M240.52 53.21l1.55 2.7h-3.1z"/><path d="M241.13 50.82l1.55 2.7h-3.1z"/><path d="M241.74 51.24l1.55 2.7h-3.1z"/><path d="M242.35 52.39l1.55 2.7h-3.1z"/><path d="M242.96 53.87l1.55 2.7h-3.1z"/><path d="M243.57 51.01l1.55 2.7h-3.1z"/><path d="M244.17 53.25l1.55 2.7h-3.1z"/><path d="M244.78 54.32l1.55 2.7h-3.1z"/><path d="M245.39 53.62l1.55 2.7h-3.1z"/><path d="M246 49.4l1.55 2.7h-3.1z"/><path d="M246.61 51.68l1.55 2.7h-3.1z"/><path d="M247.22 49.91l1.55 2.7h-3.1z"/><path d="M247.82 52.96l1.55 2.7h-3.1z"/><path d="M248.43 50.31l1.55 2.7h-3.1z"/><path d="M249.04 53.18l1.55 2.7h-3.1z"/><path d="M249.65 52.34l1.55 2.7h-3.1z"/><path d="M250.26 47.41l1.55 2.7h-3.1z"/><path d="M250.87 50.62l1.55 2.7h-3.1z"/><path d="M251.47 52.99l1.55 2.7h-3.1z"/><path d="M252.08 52.21l1.55 2.7h-3.1z"/><path d="M252.69 51.44l1.55 2.7h-3.1z"/><path d="M253.3 49.79l1.55 2.7h-3.1z"/><path d="M253.91 52.96l1.55 2.7h-3.1z"/><path d="M254.52 55.3l1.55 2.7h-3.1z"/><path d="M255.12 52.57l1.55 2.7h-3.1z"/><path d="M255.73 52.02l1.55 2.7h-3.1z"/><path d="M256.34 51.85l1.55 2.7h-3.1z"/><path d="M256.95 49.59l1.55 2.7h-3.1z"/><path d="M257.56 51.46l1.55 2.7h-3.1z"/><path d="M258.17 50.53l1.55 2.7h-3.1z"/><path d="M258.77 54.11l1.55 2.7h-3.1z"/><path d="M259.38 50.43l1.55 2.7h-3.1z"/><path d="M259.99 48.14l1.55 2.7h-3.1z"/><path d="M260.6 50.61l1.55 2.7h-3.1z"/><path d="M261.21 51.58l1.55 2.7h-3.1z"/><path d="M261.82 51.76l1.55 2.7h-3.1z"/><path d="M262.42 48.72l1.55 2.7h-3.1z"/><path d="M263.03 53.78l1.55 2.7h-3.1z"/><path d="M263.64 52.26l1.55 2.7h-3.1z"/><path d="M264.25 51.19l1.55 2.7h-3.1z"/><path d="M264.86 50.66l1.55 2.7h-3.1z"/><path d="M265.47 52.87l1.55 2.7h-3.1z"/><path d="M266.07 51.48l1.55 2.7h-3.1z"/><path d="M266.68 52.57l1.55 2.7h-3.1z"/><path d="M267.29 51.83l1.55 2.7h-3.1z"/><path d="M267.9 52.3l1.55 2.7h-3.1z"/><path d="M268.51 54.18l1.55 2.7h-3.1z"/><path d="M269.12 52.09l1.55 2.7h-3.1z"/><path d="M269.72 50.41l1.55 2.7h-3.1z"/><path d="M270.33 53.86l1.55 2.7h-3.1z"/><path d="M270.94 52.5l1.55 2.7h-3.1z"/><path d="M271.55 50.81l1.55 2.7h-3.1z"/><path d="M272.16 54.05l1.55 2.7h-3.1z"/><path d="M272.76 51.71l1.55 2.7h-3.1z"/><path d="M273.37 54.03l1.55 2.7h-3.1z"/><path d="M273.98 49.93l1.55 2.7h-3.1z"/><path d="M274.59 47.74l1.55 2.7h-3.1z"/><path d="M275.2 48.28l1.55 2.7h-3.1z"/><path d="M275.81 52.46l1.55 2.7h-3.1z"/><path d="M276.41 50.67l1.55 2.7h-3.1z"/><path d="M277.02 51.83l1.55 2.7h-3.1z"/><path d="M277.63 51.86l1.55 2.7h-3.1z"/><path d="M278.24 49.16l1.55 2.7h-3.1z"/><path d="M278.85 54.51l1.55 2.7h-3.1z"/><path d="M279.46 50.08l1.55 2.7h-3.1z"/><path d="M280.06 52.14l1.55 2.7h-3.1z"/><path d="M280.67 49.42l1.55 2.7h-3.1z"/><path d="M281.28 51.7l1.55 2.7h-3.1z"/><path d="M281.89 53.31l1.55 2.7h-3.1z"/><path d="M282.5 51.53l1.55 2.7h-3.1z"/><path d="M283.11 50.68l1.55 2.7h-3.1z"/><path d="M283.71 51.98l1.55 2.7h-3.1z"/><path d="M284.32 51.14l1.55 2.7h-3.1z"/><path d="M284.93 53.02l1.55 2.7h-3.1z"/><path d="M285.54 56.03l1.55 2.7h-3.1z"/><path d="M286.15 50.37l1.55 2.7h-3.1z"/><path d="M286.76 50.75l1.55 2.7h-3.1z"/><path d="M287.36 51.77l1.55 2.7h-3.1z"/><path d="M287.97 51.92l1.55 2.7h-3.1z"/><path d="M288.58 50.12l1.55 2.7h-3.1z"/><path d="M289.19 52.9l1.55 2.7h-3.1z"/><path d="M289.8 53.37l1.55 2.7h-3.1z"/><path d="M290.41 52.4l1.55 2.7h-3.1z"/><path d="M291.01 49.83l1.55 2.7h-3.1z"/><path d="M291.62 54.64l1.55 2.7h-3.1z"/><path d="M292.23 49.83l1.55 2.7h-3.1z"/><path d="M292.84 53.24l1.55 2.7h-3.1z"/><path d="M293.45 54.1l1.55 2.7h-3.1z"/><path d="M294.06 49.7l1.55 2.7h-3.1z"/><path d="M294.66 52.23l1.55 2.7h-3.1z"/><path d="M295.27 54.48l1.55 2.7h-3.1z"/><path d="M295.88 52.72l1.55 2.7h-3.1z"/><path d="M296.49 50.31l1.55 2.7h-3.1z"/><path d="M297.1 49.83l1.55 2.7h-3.1z"/><path d="M297.71 52.85l1.55 2.7h-3.1z"/><path d="M298.31 51.29l1.55 2.7h-3.1z"/><path d="M298.92 50.72l1.55 2.7h-3.1z"/><path d="M299.53 53.25l1.55 2.7h-3.1z"/><path d="M300.14 51.39l1.55 2.7h-3.1z"/><path d="M300.75 52.11l1.55 2.7h-3.1z"/><path d="M301.35 53.05l1.55 2.7h-3.1z"/><path d="M301.96 52.97l1.55 2.7h-3.1z"/><path d="M302.57 51.93l1.55 2.7h-3.1z"/><path d="M303.18 52l1.55 2.7h-3.1z"/><path d="M303.79 53.11l1.55 2.7h-3.1z"/><path d="M304.4 52.85l1.55 2.7h-3.1z"/><path d="M305 49.97l1.55 2.7h-3.1z"/><path d="M305.61 51.65l1.55 2.7h-3.1z"/><path d="M306.22 50.4l1.55 2.7h-3.1z"/><path d="M306.83 49.81l1.55 2.7h-3.1z"/><path d="M307.44 50.95l1.55 2.7h-3.1z"/><path d="M308.05 47.81l1.55 2.7h-3.1z"/><path d="M308.65 53.59l1.55 2.7h-3.1z"/><path d="M309.26 50.54l1.55 2.7h-3.1z"/><path d="M309.87 52.64l1.55 2.7h-3.1z"/><path d="M310.48 48.59l1.55 2.7h-3.1z"/><path d="M311.09 48.88l1.55 2.7h-3.1z"/><path d="M311.7 55.7l1.55 2.7h-3.1z"/><path d="M312.3 53.86l1.55 2.7h-3.1z"/><path d="M312.91 50.81l1.55 2.7h-3.1z"/><path d="M313.52 50.58l1.55 2.7h-3.1z"/><path d="M314.13 50.68l1.55 2.7h-3.1z"/><path d="M314.74 52.18l1.55 2.7h-3.1z"/><path d="M315.35 51.2l1.55 2.7h-3.1z"/><path d="M315.95 50.83l1.55 2.7h-3.1z"/><path d="M316.56 52.2l1.55 2.7h-3.1z"/><path d="M317.17 50.13l1.55 2.7h-3.1z"/><path d="M317.78 56.27l1.55 2.7h-3.1z"/><path d="M318.39 50.87l1.55 2.7h-3.1z"/><path d="M319 53.98l1.55 2.7h-3.1z"/><path d="M319.6 50.26l1.55 2.7h-3.1z"/><path d="M320.21 52.48l1.55 2.7h-3.1z"/><path d="M320.82 53.71l1.55 2.7h-3.1z"/><path d="M321.43 51.35l1.55 2.7h-3.1z"/><path d="M322.04 53.75l1.55 2.7h-3.1z"/><path d="M322.65 53.75l1.55 2.7h-3.1z"/><path d="M323.25 54.98l1.55 2.7h-3.1z"/><path d="M323.86 52.1l1.55 2.7h-3.1z"/><path d="M324.47 51.12l1.55 2.7h-3.1z"/><path d="M325.08 50.14l1.55 2.7h-3.1z"/><path d="M325.69 52.32l1.55 2.7h-3.1z"/><path d="M326.3 50.1l1.55 2.7h-3.1z"/><path d="M326.9 52.02l1.55 2.7h-3.1z"/></g><g stroke="#ff00ff"><path d="M63.2 70.08l1.55 -2.7h-3.1z"/><path d="M63.21 45.83l1.55 -2.7h-3.1z"/><path d="M64 73.59l1.55 -2.7h-3.1z"/><path d="M64.6 69.89l1.55 -2.7h-3.1z"/><path d="M65.5 56.18l1.55 -2.7h-3.1z"/><path d="M65.95 60.89l1.55 -2.7h-3.1z"/><path d="M66.71 53.7l1.55 -2.7h-3.1z"/><path d="M67.55 61.81l1.55 -2.7h-3.1z"/><path d="M68 46.38l1.55 -2.7h-3.1z"/><path d="M68.74 52.05l1.55 -2.7h-3.1z"/><path d="M69.49 46.69l1.55 -2.7h-3.1z"/><path d="M70.64 58.57l1.55 -2.7h-3.1z"/><path d="M70.53 53.45l1.55 -2.7h-3.1z"/><path d="M72.1 69.81l1.55 -2.7h-3.1z"/><path d="M72.08 73.1l1.55 -2.7h-3.1z"/><path d="M72.46 44.72l1.55 -2.7h-3.1z"/><path d="M73.33 69.06l1.55 -2.7h-3.1z"/><path d="M74.26 71.35l1.55 -2.7h-3.1z"/><path d="M74.77 55.91l1.55 -2.7h-3.1z"/><path d="M75.94 70.68l1.55 -2.7h-3.1z"/><path d="M76.36 49.43l1.55 -2.7h-3.1z"/><path d="M77.01 69.79l1.55 -2.7h-3.1z"/><path d="M77.56 54.77l1.55 -2.7h-3.1z"/><path d="M78.19 47.62l1.55 -2.7h-3.1z"/><path d="M78.59 58.4l1.55 -2.7h-3.1z"/><path d="M79.91 56.79l1.55 -2.7h-3.1z"/><path d="M80.07 51.67l1.55 -2.7h-3.1z"/><path d="M81.2 43.71l1.55 -2.7h-3.1z"/><path d="M81.57 61.06l1.55 -2.7h-3.1z"/><path d="M82 50.2l1.55 -2.7h-3.1z"/><path d="M83.21 54.47l1.55 -2.7h-3.1z"/><path d="M85.89 124.38l1.55 -2.7h-3.1z"/><path d="M84.43 119.49l1.55 -2.7h-3.1z"/><path d="M86.06 100.61l1.55 -2.7h-3.1z"/><path d="M85.25 103.85l1.55 -2.7h-3.1z"/><path d="M86.11 113.4l1.55 -2.7h-3.1z"/><path d="M82.88 168.67l1.55 -2.7h-3.1z"/><path d="M85.45 178.75l1.55 -2.7h-3.1z"/><path d="M86.34 178.68l1.55 -2.7h-3.1z"/><path d="M87.24 173.66l1.55 -2.7h-3.1z"/><path d="M88.13 178.96l1.55 -2.7h-3.1z"/><path d="M89.02 165.19l1.55 -2.7h-3.1z"/><path d="M89.92 169.8l1.55 -2.7h-3.1z"/><path d="M90.81 163.64l1.55 -2.7h-3.1z"/><path d="M91.7 156.21l1.55 -2.7h-3.1z"/><path d="M92.6 157.55l1.55 -2.7h-3.1z"/><path d="M93.49 165.78l1.55 -2.7h-3.1z"/><path d="M94.38 155.61l1.55 -2.7h-3.1z"/><path d="M95.28 152.84l1.55 -2.7h-3.1z"/><path d="M96.17 159.47l1.55 -2.7h-3.1z"/><path d="M97.06 158.97l1.55 -2.7h-3.1z"/><path d="M97.95 154.05l1.55 -2.7h-3.1z"/><path d="M98.85 159.07l1.55 -2.7h-3.1z"/><path d="M99.74 144.77l1.55 -2.7h-3.1z"/><path d="M100.63 159.96l1.55 -2.7h-3.1z"/><path d="M101.53 153.23l1.55 -2.7h-3.1z"/><path d="M102.42 148.49l1.55 -2.7h-3.1z"/><path d="M103.31 147.14l1.55 -2.7h-3.1z"/><path d="M104.21 144.33l1.55 -2.7h-3.1z"/><path d="M105.1 142.76l1.55 -2.7h-3.1z"/><path d="M105.99 143.73l1.55 -2.7h-3.1z"/><path d="M106.89 136.93l1.55 -2.7h-3.1z"/><path d="M107.78 149.76l1.55 -2.7h-3.1z"/><path d="M108.9 139.38l1.55 -2.7h-3.1z"/><path d="M110.01 141.12l1.55 -2.7h-3.1z"/><path d="M111.13 136.25l1.55 -2.7h-3.1z"/><path d="M112.25 134.97l1.55 -2.7h-3.1z"/><path d="M113.36 136.55l1.55 -2.7h-3.1z"/><path d="M114.48 134.55l1.55 -2.7h-3.1z"/><path d="M115.6 129.6l1.55 -2.7h-3.1z"/><path d="M116.71 129.46l1.55 -2.7h-3.1z"/><path d="M117.83 130.86l1.55 -2.7h-3.1z"/><path d="M118.95 122.8l1.55 -2.7h-3.1z"/><path d="M120.06 121.06l1.55 -2.7h-3.1z"/><path d="M121.18 129.7l1.55 -2.7h-3.1z"/><path d="M122.29 124.33l1.55 -2.7h-3.1z"/><path d="M123.41 117.88l1.55 -2.7h-3.1z"/><path d="M124.53 121.45l1.55 -2.7h-3.1z"/><path d="M125.64 122.05l1.55 -2.7h-3.1z"/><path d="M126.76 122.32l1.55 -2.7h-3.1z"/><path d="M127.88 122.37l1.55 -2.7h-3.1z"/><path d="M128.99 120.74l1.55 -2.7h-3.1z"/><path d="M130.11 120.81l1.55 -2.7h-3.1z"/><path d="M131.23 116.71l1.55 -2.7h-3.1z"/><path d="M132.34 118.81l1.55 -2.7h-3.1z"/><path d="M133.46 118.1l1.55 -2.7h-3.1z"/><path d="M134.58 119.22l1.55 -2.7h-3.1z"/><path d="M135.69 115.48l1.55 -2.7h-3.1z"/><path d="M136.81 116.85l1.55 -2.7h-3.1z"/><path d="M137.93 114.28l1.55 -2.7h-3.1z"/><path d="M139.04 110.42l1.55 -2.7h-3.1z"/><path d="M140.16 111.39l1.55 -2.7h-3.1z"/><path d="M141.28 110.3l1.55 -2.7h-3.1z"/><path d="M142.39 109.95l1.55 -2.7h-3.1z"/><path d="M143.51 109.98l1.55 -2.7h-3.1z"/><path d="M144.62 109.75l1.55 -2.7h-3.1z"/><path d="M145.74 109.51l1.55 -2.7h-3.1z"/><path d="M146.86 106.11l1.55 -2.7h-3.1z"/><path d="M147.97 110.14l1.55 -2.7h-3.1z"/><path d="M149.09 103.31l1.55 -2.7h-3.1z"/><path d="M150.21 106l1.55 -2.7h-3.1z"/><path d="M151.32 107.37l1.55 -2.7h-3.1z"/><path d="M152.44 106.1l1.55 -2.7h-3.1z"/><path d="M154 105.72l1.55 -2.7h-3.1z"/><path d="M155.57 102.76l1.55 -2.7h-3.1z"/><path d="M157.13 104.18l1.55 -2.7h-3.1z"/><path d="M158.69 98.66l1.55 -2.7h-3.1z"/><path d="M160.26 102.78l1.55 -2.7h-3.1z"/><path d="M161.82 105.82l1.55 -2.7h-3.1z"/><path d="M163.38 101.16l1.55 -2.7h-3.1z"/><path d="M164.94 103.7l1.55 -2.7h-3.1z"/><path d="M166.51 98.01l1.55 -2.7h-3.1z"/><path d="M168.07 94.54l1.55 -2.7h-3.1z"/><path d="M169.63 94.94l1.55 -2.7h-3.1z"/><path d="M171.2 99.36l1.55 -2.7h-3.1z"/><path d="M172.76 97.29l1.55 -2.7h-3.1z"/><path d="M174.32 90.24l1.55 -2.7h-3.1z"/><path d="M175.89 93.39l1.55 -2.7h-3.1z"/><path d="M177.45 93.67l1.55 -2.7h-3.1z"/><path d="M179.01 90.5l1.55 -2.7h-3.1z"/><path d="M180.58 86.49l1.55 -2.7h-3.1z"/><path d="M182.14 89.01l1.55 -2.7h-3.1z"/><path d="M183.7 91.53l1.55 -2.7h-3.1z"/><path d="M185.27 90.56l1.55 -2.7h-3.1z"/><path d="M186.83 89.49l1.55 -2.7h-3.1z"/><path d="M188.39 92.21l1.55 -2.7h-3.1z"/><path d="M189.95 92.9l1.55 -2.7h-3.1z"/><path d="M191.52 89.56l1.55 -2.7h-3.1z"/><path d="M193.08 91.53l1.55 -2.7h-3.1z"/><path d="M194.64 88.67l1.55 -2.7h-3.1z"/><path d="M196.21 87.67l1.55 -2.7h-3.1z"/><path d="M197.77 81.4l1.55 -2.7h-3.1z"/><path d="M199.33 89.05l1.55 -2.7h-3.1z"/><path d="M200.9 86.77l1.55 -2.7h-3.1z"/><path d="M202.46 86.46l1.55 -2.7h-3.1z"/><path d="M204.02 84.53l1.55 -2.7h-3.1z"/><path d="M205.59 82.58l1.55 -2.7h-3.1z"/><path d="M207.15 86.12l1.55 -2.7h-3.1z"/><path d="M208.71 86.61l1.55 -2.7h-3.1z"/><path d="M210.27 88.36l1.55 -2.7h-3.1z"/><path d="M211.84 86.24l1.55 -2.7h-3.1z"/><path d="M213.4 82.24l1.55 -2.7h-3.1z"/><path d="M214.96 83.25l1.55 -2.7h-3.1z"/><path d="M216.53 85.75l1.55 -2.7h-3.1z"/><path d="M218.09 83.95l1.55 -2.7h-3.1z"/><path d="M224.54 81.13l1.55 -2.7h-3.1z"/><path d="M224.7 79.76l1.55 -2.7h-3.1z"/><path d="M224.85 82.1l1.55 -2.7h-3.1z"/><path d="M225.01 81l1.55 -2.7h-3.1z"/><path d="M225.16 84.43l1.55 -2.7h-3.1z"/><path d="M225.32 82.53l1.55 -2.7h-3.1z"/><path d="M225.47 75.64l1.55 -2.7h-3.1z"/><path d="M225.63 84.35l1.55 -2.7h-3.1z"/><path d="M225.78 79.62l1.55 -2.7h-3.1z"/><path d="M225.94 77.96l1.55 -2.7h-3.1z"/><path d="M226.09 79.03l1.55 -2.7h-3.1z"/><path d="M226.25 79.72l1.55 -2.7h-3.1z"/><path d="M226.4 77.61l1.55 -2.7h-3.1z"/><path d="M226.56 77.14l1.55 -2.7h-3.1z"/><path d="M226.71 77l1.55 -2.7h-3.1z"/><path d="M226.87 80.95l1.55 -2.7h-3.1z"/><path d="M227.02 76.53l1.55 -2.7h-3.1z"/><path d="M227.18 77.91l1.55 -2.7h-3.1z"/><path d="M227.33 76.9l1.55 -2.7h-3.1z"/><path d="M227.49 74.8l1.55 -2.7h-3.1z"/><path d="M227.64 73.57l1.55 -2.7h-3.1z"/><path d="M227.79 72.73l1.55 -2.7h-3.1z"/><path d="M227.95 75.81l1.55 -2.7h-3.1z"/><path d="M228.1 72.21l1.55 -2.7h-3.1z"/><path d="M228.26 71.4l1.55 -2.7h-3.1z"/><path d="M228.41 71.27l1.55 -2.7h-3.1z"/><path d="M228.57 70.46l1.55 -2.7h-3.1z"/><path d="M228.72 73.9l1.55 -2.7h-3.1z"/><path d="M228.88 73.77l1.55 -2.7h-3.1z"/><path d="M229.03 71.2l1.55 -2.7h-3.1z"/><path d="M229.19 76.22l1.55 -2.7h-3.1z"/><path d="M229.34 72.29l1.55 -2.7h-3.1z"/><path d="M229.5 73.88l1.55 -2.7h-3.1z"/><path d="M229.65 73.33l1.55 -2.7h-3.1z"/><path d="M229.81 76.43l1.55 -2.7h-3.1z"/><path d="M229.96 74.26l1.55 -2.7h-3.1z"/><path d="M230.12 72.05l1.55 -2.7h-3.1z"/><path d="M230.27 69.75l1.55 -2.7h-3.1z"/><path d="M230.43 69.37l1.55 -2.7h-3.1z"/><path d="M230.58 71.78l1.55 -2.7h-3.1z"/><path d="M230.74 71.9l1.55 -2.7h-3.1z"/><path d="M230.89 73.29l1.55 -2.7h-3.1z"/><path d="M231.05 70.23l1.55 -2.7h-3.1z"/><path d="M231.2 71.64l1.55 -2.7h-3.1z"/><path d="M231.36 69.48l1.55 -2.7h-3.1z"/><path d="M231.51 66.64l1.55 -2.7h-3.1z"/><path d="M231.67 70.74l1.55 -2.7h-3.1z"/><path d="M231.82 74.1l1.55 -2.7h-3.1z"/><path d="M231.98 72.46l1.55 -2.7h-3.1z"/><path d="M232.13 73.75l1.55 -2.7h-3.1z"/><path d="M232.29 73.01l1.55 -2.7h-3.1z"/><path d="M232.44 66.95l1.55 -2.7h-3.1z"/><path d="M232.59 69.39l1.55 -2.7h-3.1z"/><path d="M232.75 73.42l1.55 -2.7h-3.1z"/><path d="M232.9 68.15l1.55 -2.7h-3.1z"/><path d="M233.06 66.59l1.55 -2.7h-3.1z"/><path d="M233.21 70.32l1.55 -2.7h-3.1z"/><path d="M233.37 70.96l1.55 -2.7h-3.1z"/><path d="M233.52 70.05l1.55 -2.7h-3.1z"/><path d="M233.68 68.46l1.55 -2.7h-3.1z"/><path d="M233.83 67.51l1.55 -2.7h-3.1z"/><path d="M233.99 66.12l1.55 -2.7h-3.1z"/><path d="M234.14 65.94l1.55 -2.7h-3.1z"/><path d="M234.3 65.91l1.55 -2.7h-3.1z"/><path d="M234.45 65.39l1.55 -2.7h-3.1z"/><path d="M234.61 66.95l1.55 -2.7h-3.1z"/><path d="M234.76 72.06l1.55 -2.7h-3.1z"/><path d="M234.92 68.64l1.55 -2.7h-3.1z"/><path d="M235.07 67.49l1.55 -2.7h-3.1z"/><path d="M235.23 69.05l1.55 -2.7h-3.1z"/><path d="M235.38 65.89l1.55 -2.7h-3.1z"/><path d="M235.54 68.82l1.55 -2.7h-3.1z"/><path d="M235.69 70.07l1.55 -2.7h-3.1z"/><path d="M235.85 64.36l1.55 -2.7h-3.1z"/><path d="M236 66.12l1.55 -2.7h-3.1z"/><path d="M236.16 67.1l1.55 -2.7h-3.1z"/><path d="M236.31 65.34l1.55 -2.7h-3.1z"/><path d="M236.47 64.94l1.55 -2.7h-3.1z"/><path d="M236.62 66.58l1.55 -2.7h-3.1z"/><path d="M236.78 73.15l1.55 -2.7h-3.1z"/><path d="M236.93 68.85l1.55 -2.7h-3.1z"/><path d="M237.09 68.25l1.55 -2.7h-3.1z"/><path d="M237.24 69.44l1.55 -2.7h-3.1z"/><path d="M237.39 66.56l1.55 -2.7h-3.1z"/><path d="M237.55 64.14l1.55 -2.7h-3.1z"/><path d="M237.7 68.06l1.55 -2.7h-3.1z"/><path d="M237.86 69.54l1.55 -2.7h-3.1z"/><path d="M238.01 61.97l1.55 -2.7h-3.1z"/><path d="M238.17 67.8l1.55 -2.7h-3.1z"/><path d="M238.32 69.6l1.55 -2.7h-3.1z"/><path d="M238.48 66.05l1.55 -2.7h-3.1z"/><path d="M238.63 65.55l1.55 -2.7h-3.1z"/><path d="M238.7 68.21l1.55 -2.7h-3.1z"/><path d="M239.2 64.5l1.55 -2.7h-3.1z"/><path d="M239.7 67.37l1.55 -2.7h-3.1z"/><path d="M240.19 68.25l1.55 -2.7h-3.1z"/><path d="M240.69 65.48l1.55 -2.7h-3.1z"/><path d="M241.19 63.92l1.55 -2.7h-3.1z"/><path d="M241.69 67.12l1.55 -2.7h-3.1z"/><path d="M242.18 64.69l1.55 -2.7h-3.1z"/><path d="M242.68 65.56l1.55 -2.7h-3.1z"/><path d="M243.18 58.5l1.55 -2.7h-3.1z"/><path d="M243.68 66.76l1.55 -2.7h-3.1z"/><path d="M244.17 61.67l1.55 -2.7h-3.1z"/><path d="M244.67 64.96l1.55 -2.7h-3.1z"/><path d="M245.17 65.02l1.55 -2.7h-3.1z"/><path d="M245.67 62.89l1.55 -2.7h-3.1z"/><path d="M246.17 62.37l1.55 -2.7h-3.1z"/><path d="M246.66 61.38l1.55 -2.7h-3.1z"/><path d="M247.16 63.51l1.55 -2.7h-3.1z"/><path d="M247.66 65.61l1.55 -2.7h-3.1z"/><path d="M248.16 65.37l1.55 -2.7h-3.1z"/><path d="M248.65 62.79l1.55 -2.7h-3.1z"/><path d="M249.15 62.53l1.55 -2.7h-3.1z"/><path d="M249.65 60.5l1.55 -2.7h-3.1z"/><path d="M250.15 62.74l1.55 -2.7h-3.1z"/><path d="M250.64 61.14l1.55 -2.7h-3.1z"/><path d="M251.14 59.97l1.55 -2.7h-3.1z"/><path d="M251.64 63.11l1.55 -2.7h-3.1z"/><path d="M252.14 66.95l1.55 -2.7h-3.1z"/><path d="M252.64 66.16l1.55 -2.7h-3.1z"/><path d="M253.13 66.7l1.55 -2.7h-3.1z"/><path d="M253.63 59.44l1.55 -2.7h-3.1z"/><path d="M254.13 65.17l1.55 -2.7h-3.1z"/><path d="M254.63 60.17l1.55 -2.7h-3.1z"/><path d="M255.12 61.64l1.55 -2.7h-3.1z"/><path d="M255.62 58.9l1.55 -2.7h-3.1z"/><path d="M256.12 60.53l1.55 -2.7h-3.1z"/><path d="M256.62 63.1l1.55 -2.7h-3.1z"/><path d="M257.11 63.27l1.55 -2.7h-3.1z"/><path d="M257.61 62.54l1.55 -2.7h-3.1z"/><path d="M258.11 62.27l1.55 -2.7h-3.1z"/><path d="M258.61 63.89l1.55 -2.7h-3.1z"/><path d="M259.11 62.65l1.55 -2.7h-3.1z"/><path d="M259.6 58.7l1.55 -2.7h-3.1z"/><path d="M260.1 66.51l1.55 -2.7h-3.1z"/><path d="M260.6 61.8l1.55 -2.7h-3.1z"/><path d="M261.1 64.52l1.55 -2.7h-3.1z"/><path d="M261.59 61.87l1.55 -2.7h-3.1z"/><path d="M262.09 60.27l1.55 -2.7h-3.1z"/><path d="M262.59 62.35l1.55 -2.7h-3.1z"/><path d="M263.09 60.33l1.55 -2.7h-3.1z"/><path d="M263.58 65.89l1.55 -2.7h-3.1z"/><path d="M264.08 59.44l1.55 -2.7h-3.1z"/><path d="M264.58 63.45l1.55 -2.7h-3.1z"/><path d="M265.08 60.5l1.55 -2.7h-3.1z"/><path d="M265.58 61.5l1.55 -2.7h-3.1z"/><path d="M266.07 68.02l1.55 -2.7h-3.1z"/><path d="M266.57 63.64l1.55 -2.7h-3.1z"/><path d="M267.07 61.28l1.55 -2.7h-3.1z"/><path d="M267.57 58.07l1.55 -2.7h-3.1z"/><path d="M268.06 61.03l1.55 -2.7h-3.1z"/><path d="M268.56 61.06l1.55 -2.7h-3.1z"/><path d="M269.06 64.99l1.55 -2.7h-3.1z"/><path d="M269.56 58.2l1.55 -2.7h-3.1z"/><path d="M270.06 57.27l1.55 -2.7h-3.1z"/><path d="M270.55 61.45l1.55 -2.7h-3.1z"/><path d="M271.05 62l1.55 -2.7h-3.1z"/><path d="M271.55 65.29l1.55 -2.7h-3.1z"/><path d="M272.05 59.31l1.55 -2.7h-3.1z"/><path d="M272.54 54.96l1.55 -2.7h-3.1z"/><path d="M273.04 59.64l1.55 -2.7h-3.1z"/><path d="M273.54 58.31l1.55 -2.7h-3.1z"/><path d="M274.04 59.99l1.55 -2.7h-3.1z"/><path d="M274.53 63.58l1.55 -2.7h-3.1z"/><path d="M275.03 58.04l1.55 -2.7h-3.1z"/><path d="M275.53 64.12l1.55 -2.7h-3.1z"/><path d="M276.03 61.66l1.55 -2.7h-3.1z"/><path d="M276.53 60.47l1.55 -2.7h-3.1z"/><path d="M277.02 59.01l1.55 -2.7h-3.1z"/><path d="M277.52 60.09l1.55 -2.7h-3.1z"/><path d="M278.02 60.13l1.55 -2.7h-3.1z"/><path d="M278.52 62.83l1.55 -2.7h-3.1z"/><path d="M279.01 64.06l1.55 -2.7h-3.1z"/><path d="M279.51 60.83l1.55 -2.7h-3.1z"/><path d="M280.01 62.64l1.55 -2.7h-3.1z"/><path d="M280.51 64.04l1.55 -2.7h-3.1z"/><path d="M281 63.92l1.55 -2.7h-3.1z"/><path d="M281.5 62.06l1.55 -2.7h-3.1z"/><path d="M282 65.28l1.55 -2.7h-3.1z"/><path d="M282.5 64.06l1.55 -2.7h-3.1z"/><path d="M283 64.73l1.55 -2.7h-3.1z"/><path d="M283.49 60.4l1.55 -2.7h-3.1z"/><path d="M283.99 59.85l1.55 -2.7h-3.1z"/><path d="M284.49 56.03l1.55 -2.7h-3.1z"/><path d="M284.99 64.34l1.55 -2.7h-3.1z"/><path d="M285.48 62.38l1.55 -2.7h-3.1z"/><path d="M285.98 58.58l1.55 -2.7h-3.1z"/><path d="M286.48 61.25l1.55 -2.7h-3.1z"/><path d="M286.98 61.5l1.55 -2.7h-3.1z"/><path d="M287.47 56.65l1.55 -2.7h-3.1z"/><path d="M287.97 61.49l1.55 -2.7h-3.1z"/><path d="M288.47 63.42l1.55 -2.7h-3.1z"/><path d="M288.97 63.79l1.55 -2.7h-3.1z"/><path d="M289.47 59.85l1.55 -2.7h-3.1z"/><path d="M289.96 59.91l1.55 -2.7h-3.1z"/><path d="M290.46 63.87l1.55 -2.7h-3.1z"/><path d="M290.96 62.94l1.55 -2.7h-3.1z"/><path d="M291.46 59.32l1.55 -2.7h-3.1z"/><path d="M291.95 59.2l1.55 -2.7h-3.1z"/><path d="M292.45 62.09l1.55 -2.7h-3.1z"/><path d="M292.95 59.07l1.55 -2.7h-3.1z"/><path d="M293.45 59.17l1.55 -2.7h-3.1z"/><path d="M293.94 64.75l1.55 -2.7h-3.1z"/><path d="M294.44 61.24l1.55 -2.7h-3.1z"/><path d="M294.94 59.5l1.55 -2.7h-3.1z"/><path d="M295.44 61.84l1.55 -2.7h-3.1z"/><path d="M295.94 65.54l1.55 -2.7h-3.1z"/><path d="M296.43 61.12l1.55 -2.7h-3.1z"/><path d="M296.93 58.65l1.55 -2.7h-3.1z"/><path d="M297.43 56.67l1.55 -2.7h-3.1z"/><path d="M297.93 65.61l1.55 -2.7h-3.1z"/><path d="M298.42 54.19l1.55 -2.7h-3.1z"/><path d="M298.92 63.06l1.55 -2.7h-3.1z"/><path d="M299.42 58.1l1.55 -2.7h-3.1z"/><path d="M299.92 57.43l1.55 -2.7h-3.1z"/><path d="M300.41 58.01l1.55 -2.7h-3.1z"/><path d="M300.91 59.98l1.55 -2.7h-3.1z"/><path d="M301.41 63.08l1.55 -2.7h-3.1z"/><path d="M301.91 58.83l1.55 -2.7h-3.1z"/><path d="M302.41 62l1.55 -2.7h-3.1z"/><path d="M302.9 66.28l1.55 -2.7h-3.1z"/><path d="M303.4 53.56l1.55 -2.7h-3.1z"/><path d="M303.9 58.59l1.55 -2.7h-3.1z"/><path d="M304.4 55.94l1.55 -2.7h-3.1z"/><path d="M304.89 62.41l1.55 -2.7h-3.1z"/><path d="M305.39 56.75l1.55 -2.7h-3.1z"/><path d="M305.89 56.45l1.55 -2.7h-3.1z"/><path d="M306.39 56.53l1.55 -2.7h-3.1z"/><path d="M306.88 60.26l1.55 -2.7h-3.1z"/><path d="M307.38 63.05l1.55 -2.7h-3.1z"/><path d="M307.88 60.61l1.55 -2.7h-3.1z"/><path d="M308.38 65.41l1.55 -2.7h-3.1z"/><path d="M308.88 64.21l1.55 -2.7h-3.1z"/><path d="M309.37 59.94l1.55 -2.7h-3.1z"/><path d="M309.87 62.51l1.55 -2.7h-3.1z"/><path d="M310.37 60.54l1.55 -2.7h-3.1z"/><path d="M310.87 60.4l1.55 -2.7h-3.1z"/><path d="M311.36 55.55l1.55 -2.7h-3.1z"/><path d="M311.86 57.04l1.55 -2.7h-3.1z"/><path d="M312.36 60.22l1.55 -2.7h-3.1z"/><path d="M312.86 57.24l1.55 -2.7h-3.1z"/><path d="M313.36 61.95l1.55 -2.7h-3.1z"/><path d="M313.85 60.89l1.55 -2.7h-3.1z"/><path d="M314.35 57.93l1.55 -2.7h-3.1z"/><path d="M314.85 63.03l1.55 -2.7h-3.1z"/><path d="M315.35 60.74l1.55 -2.7h-3.1z"/><path d="M315.84 63.2l1.55 -2.7h-3.1z"/><path d="M316.34 59.78l1.55 -2.7h-3.1z"/><path d="M316.84 56.18l1.55 -2.7h-3.1z"/><path d="M317.34 61.84l1.55 -2.7h-3.1z"/><path d="M317.83 59.51l1.55 -2.7h-3.1z"/><path d="M318.33 62.17l1.55 -2.7h-3.1z"/><path d="M318.83 62.77l1.55 -2.7h-3.1z"/><path d="M319.33 62.97l1.55 -2.7h-3.1z"/><path d="M319.83 56.58l1.55 -2.7h-3.1z"/><path d="M320.32 54.42l1.55 -2.7h-3.1z"/><path d="M320.82 58.88l1.55 -2.7h-3.1z"/><path d="M321.32 61.72l1.55 -2.7h-3.1z"/><path d="M321.82 58.34l1.55 -2.7h-3.1z"/><path d="M322.31 60.81l1.55 -2.7h-3.1z"/><path d="M322.81 58.11l1.55 -2.7h-3.1z"/><path d="M323.31 59.32l1.55 -2.7h-3.1z"/><path d="M323.81 59.34l1.55 -2.7h-3.1z"/><path d="M324.3 58.56l1.55 -2.7h-3.1z"/><path d="M324.8 61.38l1.55 -2.7h-3.1z"/><path d="M325.3 60.96l1.55 -2.7h-3.1z"/><path d="M325.8 64.09l1.55 -2.7h-3.1z"/><path d="M326.3 61.05l1.55 -2.7h-3.1z"/><path d="M326.79 63.38l1.55 -2.7h-3.1z"/></g><g stroke="#128412"><path d="M63.11 70.44l1.6 1.6l-1.6 1.6l-1.6 -1.6z"/><path d="M63.18 62.96l1.6 1.6l-1.6 1.6l-1.6 -1.6z"/><path d="M63.31 55.88l1.6 1.6l-1.6 1.6l-1.6 -1.6z"/><path d="M63.45 56.83l1.6 1.6l-1.6 1.6l-1.6 -1.6z"/><path d="M63.95 40.57l1.6 1.6l-1.6 1.6l-1.6 -1.6z"/><path d="M63.65 68.68l1.6 1.6l-1.6 1.6l-1.6 -1.6z"/><path d="M63.64 63.64l1.6 1.6l-1.6 1.6l-1.6 -1.6z"/><path d="M63.78 64.83l1.6 1.6l-1.6 1.6l-1.6 -1.6z"/><path d="M64.66 41.49l1.6 1.6l-1.6 1.6l-1.6 -1.6z"/><path d="M64.61 44.75l1.6 1.6l-1.6 1.6l-1.6 -1.6z"/><path d="M64.69 61.16l1.6 1.6l-1.6 1.6l-1.6 -1.6z"/><path d="M64.59 57.34l1.6 1.6l-1.6 1.6l-1.6 -1.6z"/><path d="M65.45 57.93l1.6 1.6l-1.6 1.6l-1.6 -1.6z"/><path d="M64.95 68.48l1.6 1.6l-1.6 1.6l-1.6 -1.6z"/><path d="M65.73 56.17l1.6 1.6l-1.6 1.6l-1.6 -1.6z"/><path d="M65.78 51.07l1.6 1.6l-1.6 1.6l-1.6 -1.6z"/><path d="M65.61 67.58l1.6 1.6l-1.6 1.6l-1.6 -1.6z"/><path d="M65.72 61.36l1.6 1.6l-1.6 1.6l-1.6 -1.6z"/><path d="M66.81 47.73l1.6 1.6l-1.6 1.6l-1.6 -1.6z"/><path d="M65.85 49.94l1.6 1.6l-1.6 1.6l-1.6 -1.6z"/><path d="M67 61.71l1.6 1.6l-1.6 1.6l-1.6 -1.6z"/><path d="M66.79 42.57l1.6 1.6l-1.6 1.6l-1.6 -1.6z"/><path d="M66.93 60.14l1.6 1.6l-1.6 1.6l-1.6 -1.6z"/><path d="M67.44 51.45l1.6 1.6l-1.6 1.6l-1.6 -1.6z"/><path d="M67.14 60.39l1.6 1.6l-1.6 1.6l-1.6 -1.6z"/><path d="M67.09 70.71l1.6 1.6l-1.6 1.6l-1.6 -1.6z"/><path d="M67.96 44.81l1.6 1.6l-1.6 1.6l-1.6 -1.6z"/><path d="M67.4 40.55l1.6 1.6l-1.6 1.6l-1.6 -1.6z"/><path d="M68.51 59.62l1.6 1.6l-1.6 1.6l-1.6 -1.6z"/><path d="M67.78 50.61l1.6 1.6l-1.6 1.6l-1.6 -1.6z"/><path d="M68.73 58.54l1.6 1.6l-1.6 1.6l-1.6 -1.6z"/><path d="M68.54 49.8l1.6 1.6l-1.6 1.6l-1.6 -1.6z"/><path d="M69.44 65.05l1.6 1.6l-1.6 1.6l-1.6 -1.6z"/><path d="M69.19 56.55l1.6 1.6l-1.6 1.6l-1.6 -1.6z"/><path d="M68.93 54.46l1.6 1.6l-1.6 1.6l-1.6 -1.6z"/><path d="M68.91 63.57l1.6 1.6l-1.6 1.6l-1.6 -1.6z"/><path d="M69.43 64.97l1.6 1.6l-1.6 1.6l-1.6 -1.6z"/><path d="M69.55 58.13l1.6 1.6l-1.6 1.6l-1.6 -1.6z"/><path d="M70.43 59.72l1.6 1.6l-1.6 1.6l-1.6 -1.6z"/><path d="M69.71 70.14l1.6 1.6l-1.6 1.6l-1.6 -1.6z"/><path d="M70.52 46.13l1.6 1.6l-1.6 1.6l-1.6 -1.6z"/><path d="M70.26 57.39l1.6 1.6l-1.6 1.6l-1.6 -1.6z"/><path d="M70.59 54.24l1.6 1.6l-1.6 1.6l-1.6 -1.6z"/><path d="M71.19 44.59l1.6 1.6l-1.6 1.6l-1.6 -1.6z"/><path d="M70.77 60.97l1.6 1.6l-1.6 1.6l-1.6 -1.6z"/><path d="M71.05 43.69l1.6 1.6l-1.6 1.6l-1.6 -1.6z"/><path d="M71.99 50.74l1.6 1.6l-1.6 1.6l-1.6 -1.6z"/><path d="M71.99 46.42l1.6 1.6l-1.6 1.6l-1.6 -1.6z"/><path d="M72.35 55.86l1.6 1.6l-1.6 1.6l-1.6 -1.6z"/><path d="M71.77 56.71l1.6 1.6l-1.6 1.6l-1.6 -1.6z"/><path d="M72.22 56.11l1.6 1.6l-1.6 1.6l-1.6 -1.6z"/><path d="M72.72 47.37l1.6 1.6l-1.6 1.6l-1.6 -1.6z"/><path d="M72.43 66.48l1.6 1.6l-1.6 1.6l-1.6 -1.6z"/><path d="M72.73 59.08l1.6 1.6l-1.6 1.6l-1.6 -1.6z"/><path d="M73.59 41.6l1.6 1.6l-1.6 1.6l-1.6 -1.6z"/><path d="M73.38 41.27l1.6 1.6l-1.6 1.6l-1.6 -1.6z"/><path d="M73.3 50.12l1.6 1.6l-1.6 1.6l-1.6 -1.6z"/><path d="M73.03 59.42l1.6 1.6l-1.6 1.6l-1.6 -1.6z"/><path d="M73.68 45.36l1.6 1.6l-1.6 1.6l-1.6 -1.6z"/><path d="M73.72 68.37l1.6 1.6l-1.6 1.6l-1.6 -1.6z"/><path d="M74.51 60.93l1.6 1.6l-1.6 1.6l-1.6 -1.6z"/><path d="M74.02 70.62l1.6 1.6l-1.6 1.6l-1.6 -1.6z"/><path d="M75.02 43.42l1.6 1.6l-1.6 1.6l-1.6 -1.6z"/><path d="M74.72 51.59l1.6 1.6l-1.6 1.6l-1.6 -1.6z"/><path d="M75.42 64l1.6 1.6l-1.6 1.6l-1.6 -1.6z"/><path d="M75.06 47.57l1.6 1.6l-1.6 1.6l-1.6 -1.6z"/><path d="M75.14 65.88l1.6 1.6l-1.6 1.6l-1.6 -1.6z"/><path d="M75.25 59.21l1.6 1.6l-1.6 1.6l-1.6 -1.6z"/><path d="M75.71 68.93l1.6 1.6l-1.6 1.6l-1.6 -1.6z"/><path d="M75.59 57.09l1.6 1.6l-1.6 1.6l-1.6 -1.6z"/><path d="M76.02 59.06l1.6 1.6l-1.6 1.6l-1.6 -1.6z"/><path d="M76.3 59.29l1.6 1.6l-1.6 1.6l-1.6 -1.6z"/><path d="M76.26 55.61l1.6 1.6l-1.6 1.6l-1.6 -1.6z"/><path d="M76.58 46.51l1.6 1.6l-1.6 1.6l-1.6 -1.6z"/><path d="M77.16 56.8l1.6 1.6l-1.6 1.6l-1.6 -1.6z"/><path d="M77.29 47.83l1.6 1.6l-1.6 1.6l-1.6 -1.6z"/><path d="M77.49 46.03l1.6 1.6l-1.6 1.6l-1.6 -1.6z"/><path d="M76.98 48.78l1.6 1.6l-1.6 1.6l-1.6 -1.6z"/><path d="M77.46 49.45l1.6 1.6l-1.6 1.6l-1.6 -1.6z"/><path d="M77.32 62.92l1.6 1.6l-1.6 1.6l-1.6 -1.6z"/><path d="M77.6 58.68l1.6 1.6l-1.6 1.6l-1.6 -1.6z"/><path d="M78.33 50.74l1.6 1.6l-1.6 1.6l-1.6 -1.6z"/><path d="M78.09 47.12l1.6 1.6l-1.6 1.6l-1.6 -1.6z"/><path d="M78.8 51.22l1.6 1.6l-1.6 1.6l-1.6 -1.6z"/><path d="M78.53 69.69l1.6 1.6l-1.6 1.6l-1.6 -1.6z"/><path d="M78.8 62.62l1.6 1.6l-1.6 1.6l-1.6 -1.6z"/><path d="M79.26 65.54l1.6 1.6l-1.6 1.6l-1.6 -1.6z"/><path d="M79.38 60.29l1.6 1.6l-1.6 1.6l-1.6 -1.6z"/><path d="M79.79 54.57l1.6 1.6l-1.6 1.6l-1.6 -1.6z"/><path d="M79.81 63.27l1.6 1.6l-1.6 1.6l-1.6 -1.6z"/><path d="M80.2 48.37l1.6 1.6l-1.6 1.6l-1.6 -1.6z"/><path d="M80.43 68.7l1.6 1.6l-1.6 1.6l-1.6 -1.6z"/><path d="M80.13 53.18l1.6 1.6l-1.6 1.6l-1.6 -1.6z"/><path d="M80.38 57.54l1.6 1.6l-1.6 1.6l-1.6 -1.6z"/><path d="M80.49 54.99l1.6 1.6l-1.6 1.6l-1.6 -1.6z"/><path d="M80.6 62.7l1.6 1.6l-1.6 1.6l-1.6 -1.6z"/><path d="M81.06 46.95l1.6 1.6l-1.6 1.6l-1.6 -1.6z"/><path d="M81.07 69.61l1.6 1.6l-1.6 1.6l-1.6 -1.6z"/><path d="M81.01 64.64l1.6 1.6l-1.6 1.6l-1.6 -1.6z"/><path d="M81.29 40.97l1.6 1.6l-1.6 1.6l-1.6 -1.6z"/><path d="M81.74 54.38l1.6 1.6l-1.6 1.6l-1.6 -1.6z"/><path d="M82.28 69.16l1.6 1.6l-1.6 1.6l-1.6 -1.6z"/><path d="M81.94 42.23l1.6 1.6l-1.6 1.6l-1.6 -1.6z"/><path d="M82.13 58.03l1.6 1.6l-1.6 1.6l-1.6 -1.6z"/><path d="M82.8 65.69l1.6 1.6l-1.6 1.6l-1.6 -1.6z"/><path d="M82.9 46.92l1.6 1.6l-1.6 1.6l-1.6 -1.6z"/><path d="M82.53 50.18l1.6 1.6l-1.6 1.6l-1.6 -1.6z"/><path d="M83.03 63.78l1.6 1.6l-1.6 1.6l-1.6 -1.6z"/><path d="M83.28 49.34l1.6 1.6l-1.6 1.6l-1.6 -1.6z"/><path d="M83.74 57.08l1.6 1.6l-1.6 1.6l-1.6 -1.6z"/><path d="M83.73 67.54l1.6 1.6l-1.6 1.6l-1.6 -1.6z"/><path d="M86.32 88.79l1.6 1.6l-1.6 1.6l-1.6 -1.6z"/><path d="M82.94 83.81l1.6 1.6l-1.6 1.6l-1.6 -1.6z"/><path d="M85.09 98.88l1.6 1.6l-1.6 1.6l-1.6 -1.6z"/><path d="M85.45 146.73l1.6 1.6l-1.6 1.6l-1.6 -1.6z"/><path d="M86.39 142.69l1.6 1.6l-1.6 1.6l-1.6 -1.6z"/><path d="M87.33 152.03l1.6 1.6l-1.6 1.6l-1.6 -1.6z"/><path d="M88.26 149.78l1.6 1.6l-1.6 1.6l-1.6 -1.6z"/><path d="M89.2 142.49l1.6 1.6l-1.6 1.6l-1.6 -1.6z"/><path d="M90.14 143.11l1.6 1.6l-1.6 1.6l-1.6 -1.6z"/><path d="M91.08 145.93l1.6 1.6l-1.6 1.6l-1.6 -1.6z"/><path d="M92.02 146.9l1.6 1.6l-1.6 1.6l-1.6 -1.6z"/><path d="M92.95 148.26l1.6 1.6l-1.6 1.6l-1.6 -1.6z"/><path d="M93.89 143.64l1.6 1.6l-1.6 1.6l-1.6 -1.6z"/><path d="M94.83 136.36l1.6 1.6l-1.6 1.6l-1.6 -1.6z"/><path d="M95.77 149.14l1.6 1.6l-1.6 1.6l-1.6 -1.6z"/><path d="M96.7 134.12l1.6 1.6l-1.6 1.6l-1.6 -1.6z"/><path d="M97.64 137.88l1.6 1.6l-1.6 1.6l-1.6 -1.6z"/><path d="M98.58 145.19l1.6 1.6l-1.6 1.6l-1.6 -1.6z"/><path d="M99.52 137.87l1.6 1.6l-1.6 1.6l-1.6 -1.6z"/><path d="M100.46 150.63l1.6 1.6l-1.6 1.6l-1.6 -1.6z"/><path d="M101.39 151.93l1.6 1.6l-1.6 1.6l-1.6 -1.6z"/><path d="M102.33 149.15l1.6 1.6l-1.6 1.6l-1.6 -1.6z"/><path d="M103.27 143.83l1.6 1.6l-1.6 1.6l-1.6 -1.6z"/><path d="M104.21 143.1l1.6 1.6l-1.6 1.6l-1.6 -1.6z"/><path d="M105.15 143.95l1.6 1.6l-1.6 1.6l-1.6 -1.6z"/><path d="M106.08 140.15l1.6 1.6l-1.6 1.6l-1.6 -1.6z"/><path d="M107.02 152.78l1.6 1.6l-1.6 1.6l-1.6 -1.6z"/><path d="M107.96 137.36l1.6 1.6l-1.6 1.6l-1.6 -1.6z"/><path d="M108.9 148.14l1.6 1.6l-1.6 1.6l-1.6 -1.6z"/><path d="M109.83 143.52l1.6 1.6l-1.6 1.6l-1.6 -1.6z"/><path d="M110.77 141.83l1.6 1.6l-1.6 1.6l-1.6 -1.6z"/><path d="M111.71 145.87l1.6 1.6l-1.6 1.6l-1.6 -1.6z"/><path d="M112.65 146.86l1.6 1.6l-1.6 1.6l-1.6 -1.6z"/><path d="M113.59 144.52l1.6 1.6l-1.6 1.6l-1.6 -1.6z"/><path d="M114.52 138.55l1.6 1.6l-1.6 1.6l-1.6 -1.6z"/><path d="M115.46 134.85l1.6 1.6l-1.6 1.6l-1.6 -1.6z"/><path d="M116.4 134.78l1.6 1.6l-1.6 1.6l-1.6 -1.6z"/><path d="M117.34 143.55l1.6 1.6l-1.6 1.6l-1.6 -1.6z"/><path d="M118.28 142.16l1.6 1.6l-1.6 1.6l-1.6 -1.6z"/><path d="M119.21 142.7l1.6 1.6l-1.6 1.6l-1.6 -1.6z"/><path d="M120.15 134.59l1.6 1.6l-1.6 1.6l-1.6 -1.6z"/><path d="M121.09 148.73l1.6 1.6l-1.6 1.6l-1.6 -1.6z"/><path d="M122.03 129.64l1.6 1.6l-1.6 1.6l-1.6 -1.6z"/><path d="M122.96 139.38l1.6 1.6l-1.6 1.6l-1.6 -1.6z"/><path d="M123.9 140.91l1.6 1.6l-1.6 1.6l-1.6 -1.6z"/><path d="M124.84 134.23l1.6 1.6l-1.6 1.6l-1.6 -1.6z"/><path d="M125.78 130.04l1.6 1.6l-1.6 1.6l-1.6 -1.6z"/><path d="M126.72 133.82l1.6 1.6l-1.6 1.6l-1.6 -1.6z"/><path d="M127.65 129.53l1.6 1.6l-1.6 1.6l-1.6 -1.6z"/><path d="M128.59 134.62l1.6 1.6l-1.6 1.6l-1.6 -1.6z"/><path d="M129.53 128.1l1.6 1.6l-1.6 1.6l-1.6 -1.6z"/><path d="M130.47 127.81l1.6 1.6l-1.6 1.6l-1.6 -1.6z"/><path d="M131.41 135.35l1.6 1.6l-1.6 1.6l-1.6 -1.6z"/><path d="M132.34 126.26l1.6 1.6l-1.6 1.6l-1.6 -1.6z"/><path d="M133.28 133.39l1.6 1.6l-1.6 1.6l-1.6 -1.6z"/><path d="M134.22 133.62l1.6 1.6l-1.6 1.6l-1.6 -1.6z"/><path d="M135.16 139.2l1.6 1.6l-1.6 1.6l-1.6 -1.6z"/><path d="M136.09 135.32l1.6 1.6l-1.6 1.6l-1.6 -1.6z"/><path d="M137.03 128.94l1.6 1.6l-1.6 1.6l-1.6 -1.6z"/><path d="M137.97 140.76l1.6 1.6l-1.6 1.6l-1.6 -1.6z"/><path d="M138.91 129.21l1.6 1.6l-1.6 1.6l-1.6 -1.6z"/><path d="M139.85 130.72l1.6 1.6l-1.6 1.6l-1.6 -1.6z"/><path d="M140.78 130.89l1.6 1.6l-1.6 1.6l-1.6 -1.6z"/><path d="M141.72 144.99l1.6 1.6l-1.6 1.6l-1.6 -1.6z"/><path d="M142.66 132.63l1.6 1.6l-1.6 1.6l-1.6 -1.6z"/><path d="M143.6 128.07l1.6 1.6l-1.6 1.6l-1.6 -1.6z"/><path d="M144.54 135.98l1.6 1.6l-1.6 1.6l-1.6 -1.6z"/><path d="M145.47 130.85l1.6 1.6l-1.6 1.6l-1.6 -1.6z"/><path d="M146.41 144.87l1.6 1.6l-1.6 1.6l-1.6 -1.6z"/><path d="M147.35 127.08l1.6 1.6l-1.6 1.6l-1.6 -1.6z"/><path d="M148.29 134.57l1.6 1.6l-1.6 1.6l-1.6 -1.6z"/><path d="M149.22 125.53l1.6 1.6l-1.6 1.6l-1.6 -1.6z"/><path d="M150.16 141l1.6 1.6l-1.6 1.6l-1.6 -1.6z"/><path d="M151.1 126.2l1.6 1.6l-1.6 1.6l-1.6 -1.6z"/><path d="M152.04 131.38l1.6 1.6l-1.6 1.6l-1.6 -1.6z"/><path d="M152.98 125.19l1.6 1.6l-1.6 1.6l-1.6 -1.6z"/><path d="M153.91 135.02l1.6 1.6l-1.6 1.6l-1.6 -1.6z"/><path d="M154.85 133.08l1.6 1.6l-1.6 1.6l-1.6 -1.6z"/><path d="M155.79 116.42l1.6 1.6l-1.6 1.6l-1.6 -1.6z"/><path d="M156.73 133.98l1.6 1.6l-1.6 1.6l-1.6 -1.6z"/><path d="M157.67 133.11l1.6 1.6l-1.6 1.6l-1.6 -1.6z"/><path d="M158.6 130.48l1.6 1.6l-1.6 1.6l-1.6 -1.6z"/><path d="M159.54 134.63l1.6 1.6l-1.6 1.6l-1.6 -1.6z"/><path d="M160.48 121.72l1.6 1.6l-1.6 1.6l-1.6 -1.6z"/><path d="M161.42 118.49l1.6 1.6l-1.6 1.6l-1.6 -1.6z"/><path d="M162.35 132.36l1.6 1.6l-1.6 1.6l-1.6 -1.6z"/><path d="M163.29 138.1l1.6 1.6l-1.6 1.6l-1.6 -1.6z"/><path d="M164.23 121.25l1.6 1.6l-1.6 1.6l-1.6 -1.6z"/><path d="M165.17 121.48l1.6 1.6l-1.6 1.6l-1.6 -1.6z"/><path d="M166.11 122.99l1.6 1.6l-1.6 1.6l-1.6 -1.6z"/><path d="M167.04 120.92l1.6 1.6l-1.6 1.6l-1.6 -1.6z"/><path d="M167.98 132.45l1.6 1.6l-1.6 1.6l-1.6 -1.6z"/><path d="M168.92 128.28l1.6 1.6l-1.6 1.6l-1.6 -1.6z"/><path d="M169.86 135.15l1.6 1.6l-1.6 1.6l-1.6 -1.6z"/><path d="M170.8 135.2l1.6 1.6l-1.6 1.6l-1.6 -1.6z"/><path d="M171.73 121.22l1.6 1.6l-1.6 1.6l-1.6 -1.6z"/><path d="M172.67 130.61l1.6 1.6l-1.6 1.6l-1.6 -1.6z"/><path d="M173.61 113.45l1.6 1.6l-1.6 1.6l-1.6 -1.6z"/><path d="M174.55 126.02l1.6 1.6l-1.6 1.6l-1.6 -1.6z"/><path d="M175.48 130l1.6 1.6l-1.6 1.6l-1.6 -1.6z"/><path d="M176.42 121.56l1.6 1.6l-1.6 1.6l-1.6 -1.6z"/><path d="M177.36 115.62l1.6 1.6l-1.6 1.6l-1.6 -1.6z"/><path d="M178.3 123.05l1.6 1.6l-1.6 1.6l-1.6 -1.6z"/><path d="M179.24 132.72l1.6 1.6l-1.6 1.6l-1.6 -1.6z"/><path d="M180.17 123.4l1.6 1.6l-1.6 1.6l-1.6 -1.6z"/><path d="M181.11 117.45l1.6 1.6l-1.6 1.6l-1.6 -1.6z"/><path d="M182.05 128.06l1.6 1.6l-1.6 1.6l-1.6 -1.6z"/><path d="M182.99 129.52l1.6 1.6l-1.6 1.6l-1.6 -1.6z"/><path d="M183.93 119.03l1.6 1.6l-1.6 1.6l-1.6 -1.6z"/><path d="M184.86 123.91l1.6 1.6l-1.6 1.6l-1.6 -1.6z"/><path d="M185.8 130.91l1.6 1.6l-1.6 1.6l-1.6 -1.6z"/><path d="M186.74 126.57l1.6 1.6l-1.6 1.6l-1.6 -1.6z"/><path d="M187.68 128.57l1.6 1.6l-1.6 1.6l-1.6 -1.6z"/><path d="M188.61 122.33l1.6 1.6l-1.6 1.6l-1.6 -1.6z"/><path d="M189.55 123.23l1.6 1.6l-1.6 1.6l-1.6 -1.6z"/><path d="M190.49 117.05l1.6 1.6l-1.6 1.6l-1.6 -1.6z"/><path d="M191.43 119.42l1.6 1.6l-1.6 1.6l-1.6 -1.6z"/><path d="M192.37 132.36l1.6 1.6l-1.6 1.6l-1.6 -1.6z"/><path d="M193.3 120.82l1.6 1.6l-1.6 1.6l-1.6 -1.6z"/><path d="M194.24 117.82l1.6 1.6l-1.6 1.6l-1.6 -1.6z"/><path d="M195.18 120.2l1.6 1.6l-1.6 1.6l-1.6 -1.6z"/><path d="M196.12 116.71l1.6 1.6l-1.6 1.6l-1.6 -1.6z"/><path d="M197.06 125.65l1.6 1.6l-1.6 1.6l-1.6 -1.6z"/><path d="M197.99 127.8l1.6 1.6l-1.6 1.6l-1.6 -1.6z"/><path d="M198.93 116.79l1.6 1.6l-1.6 1.6l-1.6 -1.6z"/><path d="M199.87 128.13l1.6 1.6l-1.6 1.6l-1.6 -1.6z"/><path d="M200.81 134.28l1.6 1.6l-1.6 1.6l-1.6 -1.6z"/><path d="M201.74 115.76l1.6 1.6l-1.6 1.6l-1.6 -1.6z"/><path d="M202.68 125.69l1.6 1.6l-1.6 1.6l-1.6 -1.6z"/><path d="M203.62 123.13l1.6 1.6l-1.6 1.6l-1.6 -1.6z"/><path d="M204.56 129.27l1.6 1.6l-1.6 1.6l-1.6 -1.6z"/><path d="M205.5 128.71l1.6 1.6l-1.6 1.6l-1.6 -1.6z"/><path d="M206.43 127.59l1.6 1.6l-1.6 1.6l-1.6 -1.6z"/><path d="M207.37 122.86l1.6 1.6l-1.6 1.6l-1.6 -1.6z"/><path d="M208.31 118.5l1.6 1.6l-1.6 1.6l-1.6 -1.6z"/><path d="M209.25 133.73l1.6 1.6l-1.6 1.6l-1.6 -1.6z"/><path d="M210.19 115.99l1.6 1.6l-1.6 1.6l-1.6 -1.6z"/><path d="M211.12 127l1.6 1.6l-1.6 1.6l-1.6 -1.6z"/><path d="M212.06 126.19l1.6 1.6l-1.6 1.6l-1.6 -1.6z"/><path d="M213 116l1.6 1.6l-1.6 1.6l-1.6 -1.6z"/><path d="M213.94 120.21l1.6 1.6l-1.6 1.6l-1.6 -1.6z"/><path d="M214.87 128.52l1.6 1.6l-1.6 1.6l-1.6 -1.6z"/><path d="M215.81 108.92l1.6 1.6l-1.6 1.6l-1.6 -1.6z"/><path d="M216.75 124.43l1.6 1.6l-1.6 1.6l-1.6 -1.6z"/><path d="M217.69 117.97l1.6 1.6l-1.6 1.6l-1.6 -1.6z"/><path d="M218.63 118.18l1.6 1.6l-1.6 1.6l-1.6 -1.6z"/><path d="M224.54 113.49l1.6 1.6l-1.6 1.6l-1.6 -1.6z"/><path d="M224.71 119.64l1.6 1.6l-1.6 1.6l-1.6 -1.6z"/><path d="M224.88 114.46l1.6 1.6l-1.6 1.6l-1.6 -1.6z"/><path d="M225.04 120.16l1.6 1.6l-1.6 1.6l-1.6 -1.6z"/><path d="M225.21 113.57l1.6 1.6l-1.6 1.6l-1.6 -1.6z"/><path d="M225.37 119.69l1.6 1.6l-1.6 1.6l-1.6 -1.6z"/><path d="M225.54 118.03l1.6 1.6l-1.6 1.6l-1.6 -1.6z"/><path d="M225.7 110.07l1.6 1.6l-1.6 1.6l-1.6 -1.6z"/><path d="M225.87 115.1l1.6 1.6l-1.6 1.6l-1.6 -1.6z"/><path d="M226.04 115.48l1.6 1.6l-1.6 1.6l-1.6 -1.6z"/><path d="M226.2 107.92l1.6 1.6l-1.6 1.6l-1.6 -1.6z"/><path d="M226.37 113.97l1.6 1.6l-1.6 1.6l-1.6 -1.6z"/><path d="M226.53 117.63l1.6 1.6l-1.6 1.6l-1.6 -1.6z"/><path d="M226.7 112.05l1.6 1.6l-1.6 1.6l-1.6 -1.6z"/><path d="M226.87 118.23l1.6 1.6l-1.6 1.6l-1.6 -1.6z"/><path d="M227.03 110.09l1.6 1.6l-1.6 1.6l-1.6 -1.6z"/><path d="M227.2 109.53l1.6 1.6l-1.6 1.6l-1.6 -1.6z"/><path d="M227.36 115.29l1.6 1.6l-1.6 1.6l-1.6 -1.6z"/><path d="M227.53 115.22l1.6 1.6l-1.6 1.6l-1.6 -1.6z"/><path d="M227.7 112.26l1.6 1.6l-1.6 1.6l-1.6 -1.6z"/><path d="M227.86 112.59l1.6 1.6l-1.6 1.6l-1.6 -1.6z"/><path d="M228.03 115.73l1.6 1.6l-1.6 1.6l-1.6 -1.6z"/><path d="M228.19 110.27l1.6 1.6l-1.6 1.6l-1.6 -1.6z"/><path d="M228.36 118.91l1.6 1.6l-1.6 1.6l-1.6 -1.6z"/><path d="M228.52 113.24l1.6 1.6l-1.6 1.6l-1.6 -1.6z"/><path d="M228.69 112.94l1.6 1.6l-1.6 1.6l-1.6 -1.6z"/><path d="M228.86 112.29l1.6 1.6l-1.6 1.6l-1.6 -1.6z"/><path d="M229.02 110.13l1.6 1.6l-1.6 1.6l-1.6 -1.6z"/><path d="M229.19 115.14l1.6 1.6l-1.6 1.6l-1.6 -1.6z"/><path d="M229.35 108.78l1.6 1.6l-1.6 1.6l-1.6 -1.6z"/><path d="M229.52 111.2l1.6 1.6l-1.6 1.6l-1.6 -1.6z"/><path d="M229.69 112.6l1.6 1.6l-1.6 1.6l-1.6 -1.6z"/><path d="M229.85 114.85l1.6 1.6l-1.6 1.6l-1.6 -1.6z"/><path d="M230.02 114.04l1.6 1.6l-1.6 1.6l-1.6 -1.6z"/><path d="M230.18 108.63l1.6 1.6l-1.6 1.6l-1.6 -1.6z"/><path d="M230.35 112.94l1.6 1.6l-1.6 1.6l-1.6 -1.6z"/><path d="M230.52 109.27l1.6 1.6l-1.6 1.6l-1.6 -1.6z"/><path d="M230.68 105.71l1.6 1.6l-1.6 1.6l-1.6 -1.6z"/><path d="M230.85 105.64l1.6 1.6l-1.6 1.6l-1.6 -1.6z"/><path d="M231.01 103.68l1.6 1.6l-1.6 1.6l-1.6 -1.6z"/><path d="M231.18 109.81l1.6 1.6l-1.6 1.6l-1.6 -1.6z"/><path d="M231.35 112.31l1.6 1.6l-1.6 1.6l-1.6 -1.6z"/><path d="M231.51 105l1.6 1.6l-1.6 1.6l-1.6 -1.6z"/><path d="M231.68 107.25l1.6 1.6l-1.6 1.6l-1.6 -1.6z"/><path d="M231.84 104.32l1.6 1.6l-1.6 1.6l-1.6 -1.6z"/><path d="M232.01 107.93l1.6 1.6l-1.6 1.6l-1.6 -1.6z"/><path d="M232.17 103.75l1.6 1.6l-1.6 1.6l-1.6 -1.6z"/><path d="M232.34 104.77l1.6 1.6l-1.6 1.6l-1.6 -1.6z"/><path d="M232.51 105.05l1.6 1.6l-1.6 1.6l-1.6 -1.6z"/><path d="M232.67 105.61l1.6 1.6l-1.6 1.6l-1.6 -1.6z"/><path d="M232.84 105.81l1.6 1.6l-1.6 1.6l-1.6 -1.6z"/><path d="M233 106.2l1.6 1.6l-1.6 1.6l-1.6 -1.6z"/><path d="M233.17 106.07l1.6 1.6l-1.6 1.6l-1.6 -1.6z"/><path d="M233.34 103.31l1.6 1.6l-1.6 1.6l-1.6 -1.6z"/><path d="M233.5 108.25l1.6 1.6l-1.6 1.6l-1.6 -1.6z"/><path d="M233.67 100.46l1.6 1.6l-1.6 1.6l-1.6 -1.6z"/><path d="M233.83 106.55l1.6 1.6l-1.6 1.6l-1.6 -1.6z"/><path d="M234 102.68l1.6 1.6l-1.6 1.6l-1.6 -1.6z"/><path d="M234.17 106.17l1.6 1.6l-1.6 1.6l-1.6 -1.6z"/><path d="M234.33 106.55l1.6 1.6l-1.6 1.6l-1.6 -1.6z"/><path d="M234.5 98.66l1.6 1.6l-1.6 1.6l-1.6 -1.6z"/><path d="M234.66 106.44l1.6 1.6l-1.6 1.6l-1.6 -1.6z"/><path d="M234.83 109.57l1.6 1.6l-1.6 1.6l-1.6 -1.6z"/><path d="M234.99 107.5l1.6 1.6l-1.6 1.6l-1.6 -1.6z"/><path d="M235.16 106l1.6 1.6l-1.6 1.6l-1.6 -1.6z"/><path d="M235.33 97.46l1.6 1.6l-1.6 1.6l-1.6 -1.6z"/><path d="M235.49 103.91l1.6 1.6l-1.6 1.6l-1.6 -1.6z"/><path d="M235.66 101.29l1.6 1.6l-1.6 1.6l-1.6 -1.6z"/><path d="M235.82 107.71l1.6 1.6l-1.6 1.6l-1.6 -1.6z"/><path d="M235.99 102.96l1.6 1.6l-1.6 1.6l-1.6 -1.6z"/><path d="M236.16 101.73l1.6 1.6l-1.6 1.6l-1.6 -1.6z"/><path d="M236.32 97.75l1.6 1.6l-1.6 1.6l-1.6 -1.6z"/><path d="M236.49 106.07l1.6 1.6l-1.6 1.6l-1.6 -1.6z"/><path d="M236.65 101.52l1.6 1.6l-1.6 1.6l-1.6 -1.6z"/><path d="M236.82 102.39l1.6 1.6l-1.6 1.6l-1.6 -1.6z"/><path d="M236.99 106.74l1.6 1.6l-1.6 1.6l-1.6 -1.6z"/><path d="M237.15 103.2l1.6 1.6l-1.6 1.6l-1.6 -1.6z"/><path d="M237.32 103.88l1.6 1.6l-1.6 1.6l-1.6 -1.6z"/><path d="M237.48 110.73l1.6 1.6l-1.6 1.6l-1.6 -1.6z"/><path d="M237.65 100.68l1.6 1.6l-1.6 1.6l-1.6 -1.6z"/><path d="M237.82 100.74l1.6 1.6l-1.6 1.6l-1.6 -1.6z"/><path d="M237.98 103.92l1.6 1.6l-1.6 1.6l-1.6 -1.6z"/><path d="M238.15 106.84l1.6 1.6l-1.6 1.6l-1.6 -1.6z"/><path d="M238.31 97.14l1.6 1.6l-1.6 1.6l-1.6 -1.6z"/><path d="M238.48 101.13l1.6 1.6l-1.6 1.6l-1.6 -1.6z"/><path d="M238.64 98.45l1.6 1.6l-1.6 1.6l-1.6 -1.6z"/><path d="M238.7 97.07l1.6 1.6l-1.6 1.6l-1.6 -1.6z"/><path d="M239.2 103.25l1.6 1.6l-1.6 1.6l-1.6 -1.6z"/><path d="M239.7 98.36l1.6 1.6l-1.6 1.6l-1.6 -1.6z"/><path d="M240.19 101.58l1.6 1.6l-1.6 1.6l-1.6 -1.6z"/><path d="M240.69 100.64l1.6 1.6l-1.6 1.6l-1.6 -1.6z"/><path d="M241.19 100.38l1.6 1.6l-1.6 1.6l-1.6 -1.6z"/><path d="M241.69 99.77l1.6 1.6l-1.6 1.6l-1.6 -1.6z"/><path d="M242.18 95.66l1.6 1.6l-1.6 1.6l-1.6 -1.6z"/><path d="M242.68 98.7l1.6 1.6l-1.6 1.6l-1.6 -1.6z"/><path d="M243.18 99.33l1.6 1.6l-1.6 1.6l-1.6 -1.6z"/><path d="M243.68 99.44l1.6 1.6l-1.6 1.6l-1.6 -1.6z"/><path d="M244.17 97.05l1.6 1.6l-1.6 1.6l-1.6 -1.6z"/><path d="M244.67 100.95l1.6 1.6l-1.6 1.6l-1.6 -1.6z"/><path d="M245.17 99.33l1.6 1.6l-1.6 1.6l-1.6 -1.6z"/><path d="M245.67 97.53l1.6 1.6l-1.6 1.6l-1.6 -1.6z"/><path d="M246.17 99l1.6 1.6l-1.6 1.6l-1.6 -1.6z"/><path d="M246.66 97.22l1.6 1.6l-1.6 1.6l-1.6 -1.6z"/><path d="M247.16 98.64l1.6 1.6l-1.6 1.6l-1.6 -1.6z"/><path d="M247.66 89.53l1.6 1.6l-1.6 1.6l-1.6 -1.6z"/><path d="M248.16 91.58l1.6 1.6l-1.6 1.6l-1.6 -1.6z"/><path d="M248.65 94.33l1.6 1.6l-1.6 1.6l-1.6 -1.6z"/><path d="M249.15 95.82l1.6 1.6l-1.6 1.6l-1.6 -1.6z"/><path d="M249.65 88l1.6 1.6l-1.6 1.6l-1.6 -1.6z"/><path d="M250.15 94.13l1.6 1.6l-1.6 1.6l-1.6 -1.6z"/><path d="M250.64 95.32l1.6 1.6l-1.6 1.6l-1.6 -1.6z"/><path d="M251.14 93.81l1.6 1.6l-1.6 1.6l-1.6 -1.6z"/><path d="M251.64 93.61l1.6 1.6l-1.6 1.6l-1.6 -1.6z"/><path d="M252.14 89.68l1.6 1.6l-1.6 1.6l-1.6 -1.6z"/><path d="M252.64 94.35l1.6 1.6l-1.6 1.6l-1.6 -1.6z"/><path d="M253.13 86.99l1.6 1.6l-1.6 1.6l-1.6 -1.6z"/><path d="M253.63 96.93l1.6 1.6l-1.6 1.6l-1.6 -1.6z"/><path d="M254.13 91.42l1.6 1.6l-1.6 1.6l-1.6 -1.6z"/><path d="M254.63 97.01l1.6 1.6l-1.6 1.6l-1.6 -1.6z"/><path d="M255.12 87.29l1.6 1.6l-1.6 1.6l-1.6 -1.6z"/><path d="M255.62 94.41l1.6 1.6l-1.6 1.6l-1.6 -1.6z"/><path d="M256.12 93.34l1.6 1.6l-1.6 1.6l-1.6 -1.6z"/><path d="M256.62 89.85l1.6 1.6l-1.6 1.6l-1.6 -1.6z"/><path d="M257.11 88.58l1.6 1.6l-1.6 1.6l-1.6 -1.6z"/><path d="M257.61 96.47l1.6 1.6l-1.6 1.6l-1.6 -1.6z"/><path d="M258.11 93.73l1.6 1.6l-1.6 1.6l-1.6 -1.6z"/><path d="M258.61 97.15l1.6 1.6l-1.6 1.6l-1.6 -1.6z"/><path d="M259.11 91.82l1.6 1.6l-1.6 1.6l-1.6 -1.6z"/><path d="M259.6 92.5l1.6 1.6l-1.6 1.6l-1.6 -1.6z"/><path d="M260.1 93.21l1.6 1.6l-1.6 1.6l-1.6 -1.6z"/><path d="M260.6 94.22l1.6 1.6l-1.6 1.6l-1.6 -1.6z"/><path d="M261.1 93.08l1.6 1.6l-1.6 1.6l-1.6 -1.6z"/><path d="M261.59 94.18l1.6 1.6l-1.6 1.6l-1.6 -1.6z"/><path d="M262.09 89.73l1.6 1.6l-1.6 1.6l-1.6 -1.6z"/><path d="M262.59 86.26l1.6 1.6l-1.6 1.6l-1.6 -1.6z"/><path d="M263.09 97.83l1.6 1.6l-1.6 1.6l-1.6 -1.6z"/><path d="M263.58 91.56l1.6 1.6l-1.6 1.6l-1.6 -1.6z"/><path d="M264.08 92.47l1.6 1.6l-1.6 1.6l-1.6 -1.6z"/><path d="M264.58 89.27l1.6 1.6l-1.6 1.6l-1.6 -1.6z"/><path d="M265.08 94.05l1.6 1.6l-1.6 1.6l-1.6 -1.6z"/><path d="M265.58 91.21l1.6 1.6l-1.6 1.6l-1.6 -1.6z"/><path d="M266.07 94.13l1.6 1.6l-1.6 1.6l-1.6 -1.6z"/><path d="M266.57 88.13l1.6 1.6l-1.6 1.6l-1.6 -1.6z"/><path d="M267.07 90.05l1.6 1.6l-1.6 1.6l-1.6 -1.6z"/><path d="M267.57 90.83l1.6 1.6l-1.6 1.6l-1.6 -1.6z"/><path d="M268.06 88.92l1.6 1.6l-1.6 1.6l-1.6 -1.6z"/><path d="M268.56 90.91l1.6 1.6l-1.6 1.6l-1.6 -1.6z"/><path d="M269.06 95.25l1.6 1.6l-1.6 1.6l-1.6 -1.6z"/><path d="M269.56 87.85l1.6 1.6l-1.6 1.6l-1.6 -1.6z"/><path d="M270.06 88.8l1.6 1.6l-1.6 1.6l-1.6 -1.6z"/><path d="M270.55 90.2l1.6 1.6l-1.6 1.6l-1.6 -1.6z"/><path d="M271.05 86.24l1.6 1.6l-1.6 1.6l-1.6 -1.6z"/><path d="M271.55 85.35l1.6 1.6l-1.6 1.6l-1.6 -1.6z"/><path d="M272.05 93.09l1.6 1.6l-1.6 1.6l-1.6 -1.6z"/><path d="M272.54 91.94l1.6 1.6l-1.6 1.6l-1.6 -1.6z"/><path d="M273.04 83.95l1.6 1.6l-1.6 1.6l-1.6 -1.6z"/><path d="M273.54 84.3l1.6 1.6l-1.6 1.6l-1.6 -1.6z"/><path d="M274.04 91.52l1.6 1.6l-1.6 1.6l-1.6 -1.6z"/><path d="M274.53 92.93l1.6 1.6l-1.6 1.6l-1.6 -1.6z"/><path d="M275.03 91l1.6 1.6l-1.6 1.6l-1.6 -1.6z"/><path d="M275.53 90.44l1.6 1.6l-1.6 1.6l-1.6 -1.6z"/><path d="M276.03 94.03l1.6 1.6l-1.6 1.6l-1.6 -1.6z"/><path d="M276.53 88.47l1.6 1.6l-1.6 1.6l-1.6 -1.6z"/><path d="M277.02 92.83l1.6 1.6l-1.6 1.6l-1.6 -1.6z"/><path d="M277.52 92.5l1.6 1.6l-1.6 1.6l-1.6 -1.6z"/><path d="M278.02 85.21l1.6 1.6l-1.6 1.6l-1.6 -1.6z"/><path d="M278.52 90.54l1.6 1.6l-1.6 1.6l-1.6 -1.6z"/><path d="M279.01 88.38l1.6 1.6l-1.6 1.6l-1.6 -1.6z"/><path d="M279.51 85.92l1.6 1.6l-1.6 1.6l-1.6 -1.6z"/><path d="M280.01 85.22l1.6 1.6l-1.6 1.6l-1.6 -1.6z"/><path d="M280.51 89.03l1.6 1.6l-1.6 1.6l-1.6 -1.6z"/><path d="M281 87.66l1.6 1.6l-1.6 1.6l-1.6 -1.6z"/><path d="M281.5 90.52l1.6 1.6l-1.6 1.6l-1.6 -1.6z"/><path d="M282 81.71l1.6 1.6l-1.6 1.6l-1.6 -1.6z"/><path d="M282.5 85.35l1.6 1.6l-1.6 1.6l-1.6 -1.6z"/><path d="M283 91.22l1.6 1.6l-1.6 1.6l-1.6 -1.6z"/><path d="M283.49 87.38l1.6 1.6l-1.6 1.6l-1.6 -1.6z"/><path d="M283.99 84.89l1.6 1.6l-1.6 1.6l-1.6 -1.6z"/><path d="M284.49 85.61l1.6 1.6l-1.6 1.6l-1.6 -1.6z"/><path d="M284.99 80.95l1.6 1.6l-1.6 1.6l-1.6 -1.6z"/><path d="M285.48 82.42l1.6 1.6l-1.6 1.6l-1.6 -1.6z"/><path d="M285.98 88.82l1.6 1.6l-1.6 1.6l-1.6 -1.6z"/><path d="M286.48 87.21l1.6 1.6l-1.6 1.6l-1.6 -1.6z"/><path d="M286.98 91.18l1.6 1.6l-1.6 1.6l-1.6 -1.6z"/><path d="M287.47 85.91l1.6 1.6l-1.6 1.6l-1.6 -1.6z"/><path d="M287.97 86.16l1.6 1.6l-1.6 1.6l-1.6 -1.6z"/><path d="M288.47 77.43l1.6 1.6l-1.6 1.6l-1.6 -1.6z"/><path d="M288.97 86.19l1.6 1.6l-1.6 1.6l-1.6 -1.6z"/><path d="M289.47 93.54l1.6 1.6l-1.6 1.6l-1.6 -1.6z"/><path d="M289.96 88.65l1.6 1.6l-1.6 1.6l-1.6 -1.6z"/><path d="M290.46 85.91l1.6 1.6l-1.6 1.6l-1.6 -1.6z"/><path d="M290.96 90.48l1.6 1.6l-1.6 1.6l-1.6 -1.6z"/><path d="M291.46 89.08l1.6 1.6l-1.6 1.6l-1.6 -1.6z"/><path d="M291.95 87.31l1.6 1.6l-1.6 1.6l-1.6 -1.6z"/><path d="M292.45 84.83l1.6 1.6l-1.6 1.6l-1.6 -1.6z"/><path d="M292.95 86.48l1.6 1.6l-1.6 1.6l-1.6 -1.6z"/><path d="M293.45 88.86l1.6 1.6l-1.6 1.6l-1.6 -1.6z"/><path d="M293.94 83.1l1.6 1.6l-1.6 1.6l-1.6 -1.6z"/><path d="M294.44 87.53l1.6 1.6l-1.6 1.6l-1.6 -1.6z"/><path d="M294.94 87.32l1.6 1.6l-1.6 1.6l-1.6 -1.6z"/><path d="M295.44 90.24l1.6 1.6l-1.6 1.6l-1.6 -1.6z"/><path d="M295.94 88.16l1.6 1.6l-1.6 1.6l-1.6 -1.6z"/><path d="M296.43 83.21l1.6 1.6l-1.6 1.6l-1.6 -1.6z"/><path d="M296.93 90.84l1.6 1.6l-1.6 1.6l-1.6 -1.6z"/><path d="M297.43 85.52l1.6 1.6l-1.6 1.6l-1.6 -1.6z"/><path d="M297.93 82.78l1.6 1.6l-1.6 1.6l-1.6 -1.6z"/><path d="M298.42 86.42l1.6 1.6l-1.6 1.6l-1.6 -1.6z"/><path d="M298.92 84.26l1.6 1.6l-1.6 1.6l-1.6 -1.6z"/><path d="M299.42 88.8l1.6 1.6l-1.6 1.6l-1.6 -1.6z"/><path d="M299.92 80.5l1.6 1.6l-1.6 1.6l-1.6 -1.6z"/><path d="M300.41 81.14l1.6 1.6l-1.6 1.6l-1.6 -1.6z"/><path d="M300.91 84.01l1.6 1.6l-1.6 1.6l-1.6 -1.6z"/><path d="M301.41 90.7l1.6 1.6l-1.6 1.6l-1.6 -1.6z"/><path d="M301.91 88.23l1.6 1.6l-1.6 1.6l-1.6 -1.6z"/><path d="M302.41 81.3l1.6 1.6l-1.6 1.6l-1.6 -1.6z"/><path d="M302.9 78.74l1.6 1.6l-1.6 1.6l-1.6 -1.6z"/><path d="M303.4 83.48l1.6 1.6l-1.6 1.6l-1.6 -1.6z"/><path d="M303.9 80.2l1.6 1.6l-1.6 1.6l-1.6 -1.6z"/><path d="M304.4 86.43l1.6 1.6l-1.6 1.6l-1.6 -1.6z"/><path d="M304.89 84.94l1.6 1.6l-1.6 1.6l-1.6 -1.6z"/><path d="M305.39 84.24l1.6 1.6l-1.6 1.6l-1.6 -1.6z"/><path d="M305.89 82.74l1.6 1.6l-1.6 1.6l-1.6 -1.6z"/><path d="M306.39 89.3l1.6 1.6l-1.6 1.6l-1.6 -1.6z"/><path d="M306.88 80.87l1.6 1.6l-1.6 1.6l-1.6 -1.6z"/><path d="M307.38 79.51l1.6 1.6l-1.6 1.6l-1.6 -1.6z"/><path d="M307.88 87.84l1.6 1.6l-1.6 1.6l-1.6 -1.6z"/><path d="M308.38 88.48l1.6 1.6l-1.6 1.6l-1.6 -1.6z"/><path d="M308.88 82.64l1.6 1.6l-1.6 1.6l-1.6 -1.6z"/><path d="M309.37 85.99l1.6 1.6l-1.6 1.6l-1.6 -1.6z"/><path d="M309.87 91.76l1.6 1.6l-1.6 1.6l-1.6 -1.6z"/><path d="M310.37 80.92l1.6 1.6l-1.6 1.6l-1.6 -1.6z"/><path d="M310.87 83.08l1.6 1.6l-1.6 1.6l-1.6 -1.6z"/><path d="M311.36 85.17l1.6 1.6l-1.6 1.6l-1.6 -1.6z"/><path d="M311.86 76.33l1.6 1.6l-1.6 1.6l-1.6 -1.6z"/><path d="M312.36 82.97l1.6 1.6l-1.6 1.6l-1.6 -1.6z"/><path d="M312.86 85.95l1.6 1.6l-1.6 1.6l-1.6 -1.6z"/><path d="M313.36 82.99l1.6 1.6l-1.6 1.6l-1.6 -1.6z"/><path d="M313.85 86.81l1.6 1.6l-1.6 1.6l-1.6 -1.6z"/><path d="M314.35 85.82l1.6 1.6l-1.6 1.6l-1.6 -1.6z"/><path d="M314.85 81.87l1.6 1.6l-1.6 1.6l-1.6 -1.6z"/><path d="M315.35 85.01l1.6 1.6l-1.6 1.6l-1.6 -1.6z"/><path d="M315.84 84.61l1.6 1.6l-1.6 1.6l-1.6 -1.6z"/><path d="M316.34 77.37l1.6 1.6l-1.6 1.6l-1.6 -1.6z"/><path d="M316.84 80.06l1.6 1.6l-1.6 1.6l-1.6 -1.6z"/><path d="M317.34 80.2l1.6 1.6l-1.6 1.6l-1.6 -1.6z"/><path d="M317.83 81.08l1.6 1.6l-1.6 1.6l-1.6 -1.6z"/><path d="M318.33 81.18l1.6 1.6l-1.6 1.6l-1.6 -1.6z"/><path d="M318.83 77.83l1.6 1.6l-1.6 1.6l-1.6 -1.6z"/><path d="M319.33 82.79l1.6 1.6l-1.6 1.6l-1.6 -1.6z"/><path d="M319.83 76.38l1.6 1.6l-1.6 1.6l-1.6 -1.6z"/><path d="M320.32 85.85l1.6 1.6l-1.6 1.6l-1.6 -1.6z"/><path d="M320.82 83.43l1.6 1.6l-1.6 1.6l-1.6 -1.6z"/><path d="M321.32 87.19l1.6 1.6l-1.6 1.6l-1.6 -1.6z"/><path d="M321.82 83.63l1.6 1.6l-1.6 1.6l-1.6 -1.6z"/><path d="M322.31 80.66l1.6 1.6l-1.6 1.6l-1.6 -1.6z"/><path d="M322.81 77.44l1.6 1.6l-1.6 1.6l-1.6 -1.6z"/><path d="M323.31 84.56l1.6 1.6l-1.6 1.6l-1.6 -1.6z"/><path d="M323.81 82.24l1.6 1.6l-1.6 1.6l-1.6 -1.6z"/><path d="M324.3 83.43l1.6 1.6l-1.6 1.6l-1.6 -1.6z"/><path d="M324.8 84.66l1.6 1.6l-1.6 1.6l-1.6 -1.6z"/><path d="M325.3 86.14l1.6 1.6l-1.6 1.6l-1.6 -1.6z"/><path d="M325.8 81.84l1.6 1.6l-1.6 1.6l-1.6 -1.6z"/><path d="M326.3 87.87l1.6 1.6l-1.6 1.6l-1.6 -1.6z"/><path d="M326.79 81.57l1.6 1.6l-1.6 1.6l-1.6 -1.6z"/></g></g><g fill="none" stroke-width="2.3" stroke-linejoin="round" clip-path="url(#clipA)"><path stroke="#000000" d="M84.6 165.08 L85.16 160.11 L85.72 155.26 L86.29 150.54 L86.85 146.11 L87.41 141.57 L87.97 135.17 L88.53 128.12 L89.09 122.14 L89.65 116.68 L90.21 111.67 L90.78 107.09 L91.34 102.89 L91.9 99.05 L92.46 95.53 L93.02 92.31 L93.58 89.36 L94.14 86.66 L94.71 84.19 L95.27 81.93 L95.83 79.85 L96.39 77.96 L96.95 76.22 L97.51 74.63 L98.07 73.17 L98.63 71.84 L99.2 70.62 L99.76 69.5 L100.32 68.48 L100.88 67.54 L101.44 66.68 L102 65.9 L102.56 65.18 L103.13 64.52 L103.69 63.92 L104.25 63.37 L104.81 62.86 L105.37 62.4 L105.93 61.98 L106.49 61.59 L107.05 61.23 L107.62 60.91 L108.18 60.61 L108.74 60.34 L109.3 60.09 L109.86 59.86 L110.42 59.65 L110.98 59.46 L111.55 59.28 L112.11 59.12 L112.67 58.98 L113.23 58.84 L113.79 58.72 L114.35 58.61 L114.91 58.5 L115.47 58.41 L116.04 58.32 L116.6 58.24 L117.16 58.17 L117.72 58.1 L118.28 58.04 L118.84 57.99 L119.4 57.94 L119.97 57.89 L120.53 57.85 L121.09 57.81 L121.65 57.77 L122.21 57.74 L122.77 57.71 L123.33 57.68 L123.89 57.66 L124.46 57.63 L125.02 57.61 L125.58 57.59 L126.14 57.57 L126.7 57.56 L127.26 57.54 L127.82 57.53 L128.39 57.52 L128.95 57.51 L129.51 57.5 L130.07 57.49 L130.63 57.48 L131.19 57.47 L131.75 57.46 L132.31 57.46 L132.88 57.45 L133.44 57.44 L134 57.44 L134.56 57.43 L135.12 57.43 L135.68 57.43 L136.24 57.42 L136.81 57.42 L137.37 57.42 L137.93 57.41 L138.49 57.41 L139.05 57.41 L139.61 57.41 L140.17 57.4 L140.73 57.4 L141.3 57.4 L141.86 57.4 L142.42 57.4 L142.98 57.4 L143.54 57.39 L144.1 57.39 L144.66 57.39 L145.23 57.39 L145.79 57.39 L146.35 57.39 L146.91 57.39 L147.47 57.39 L148.03 57.39 L148.59 57.39 L149.15 57.39 L149.72 57.39 L150.28 57.39 L150.84 57.39 L151.4 57.39 L151.96 57.39 L152.52 57.39 L153.08 57.39 L153.65 57.38 L154.21 57.38 L154.77 57.38 L155.33 57.38 L155.89 57.38 L156.45 57.38 L157.01 57.38 L157.57 57.38 L158.14 57.38 L158.7 57.38 L159.26 57.38 L159.82 57.38 L160.38 57.38 L160.94 57.38 L161.5 57.38 L162.07 57.38 L162.63 57.38 L163.19 57.38 L163.75 57.38 L164.31 57.38 L164.87 57.38 L165.43 57.38 L165.99 57.38 L166.56 57.38 L167.12 57.38 L167.68 57.38 L168.24 57.38 L168.8 57.38 L169.36 57.38 L169.92 57.38 L170.49 57.38 L171.05 57.38 L171.61 57.38 L172.17 57.38 L172.73 57.38 L173.29 57.38 L173.85 57.38 L174.41 57.38 L174.98 57.38 L175.54 57.38 L176.1 57.38 L176.66 57.38 L177.22 57.38 L177.78 57.38 L178.34 57.38 L178.91 57.38 L179.47 57.38 L180.03 57.38 L180.59 57.38 L181.15 57.38 L181.71 57.38 L182.27 57.38 L182.83 57.38 L183.4 57.38 L183.96 57.38 L184.52 57.38 L185.08 57.38 L185.64 57.38 L186.2 57.38 L186.76 57.38 L187.33 57.38 L187.89 57.38 L188.45 57.38 L189.01 57.38 L189.57 57.38 L190.13 57.38 L190.69 57.38 L191.25 57.38 L191.82 57.38 L192.38 57.38 L192.94 57.38 L193.5 57.38 L194.06 57.38 L194.62 57.38 L195.18 57.38 L195.75 57.38 L196.31 57.38 L196.87 57.38 L197.43 57.38 L197.99 57.38 L198.55 57.38 L199.11 57.38 L199.67 57.38 L200.24 57.38 L200.8 57.38 L201.36 57.38 L201.92 57.38 L202.48 57.38 L203.04 57.38 L203.6 57.38 L204.17 57.38 L204.73 57.38 L205.29 57.38 L205.85 57.38 L206.41 57.38 L206.97 57.38 L207.53 57.38 L208.09 57.38 L208.66 57.38 L209.22 57.38 L209.78 57.38 L210.34 57.38 L210.9 57.38 L211.46 57.38 L212.02 57.38 L212.59 57.38 L213.15 57.38 L213.71 57.38 L214.27 57.38 L214.83 57.38 L215.39 57.38 L215.95 57.38 L216.51 57.38 L217.08 57.38 L217.64 57.38 L218.2 57.38 L218.76 57.38"/><path stroke="#1f8a1f" d="M85.23 147.2 L85.79 146.87 L86.34 146.65 L86.9 146.44 L87.46 146.26 L88.02 146.08 L88.58 145.92 L89.14 145.78 L89.7 145.64 L90.26 145.52 L90.81 145.41 L91.37 145.3 L91.93 145.21 L92.49 145.12 L93.05 145.03 L93.61 144.95 L94.17 144.87 L94.72 144.79 L95.28 144.71 L95.84 144.63 L96.4 144.55 L96.96 144.46 L97.52 144.37 L98.08 144.27 L98.64 144.17 L99.19 144.06 L99.75 143.94 L100.31 143.81 L100.87 143.67 L101.43 143.54 L101.99 143.4 L102.55 143.26 L103.11 143.11 L103.66 142.97 L104.22 142.82 L104.78 142.67 L105.34 142.52 L105.9 142.37 L106.46 142.22 L107.02 142.07 L107.58 141.92 L108.13 141.77 L108.69 141.62 L109.25 141.46 L109.81 141.31 L110.37 141.16 L110.93 141.01 L111.49 140.86 L112.05 140.72 L112.6 140.57 L113.16 140.43 L113.72 140.28 L114.28 140.14 L114.84 140 L115.4 139.87 L115.96 139.73 L116.51 139.6 L117.07 139.47 L117.63 139.34 L118.19 139.22 L118.75 139.09 L119.31 138.97 L119.87 138.85 L120.43 138.73 L120.98 138.61 L121.54 138.49 L122.1 138.37 L122.66 138.25 L123.22 138.13 L123.78 138.01 L124.34 137.9 L124.9 137.78 L125.45 137.66 L126.01 137.54 L126.57 137.43 L127.13 137.31 L127.69 137.19 L128.25 137.07 L128.81 136.95 L129.37 136.83 L129.92 136.71 L130.48 136.58 L131.04 136.46 L131.6 136.33 L132.16 136.2 L132.72 136.07 L133.28 135.94 L133.84 135.81 L134.39 135.67 L134.95 135.54 L135.51 135.4 L136.07 135.26 L136.63 135.13 L137.19 134.99 L137.75 134.85 L138.3 134.71 L138.86 134.57 L139.42 134.43 L139.98 134.29 L140.54 134.15 L141.1 134.02 L141.66 133.88 L142.22 133.74 L142.77 133.61 L143.33 133.47 L143.89 133.34 L144.45 133.21 L145.01 133.07 L145.57 132.95 L146.13 132.82 L146.69 132.69 L147.24 132.57 L147.8 132.45 L148.36 132.33 L148.92 132.22 L149.48 132.11 L150.04 132 L150.6 131.89 L151.16 131.78 L151.71 131.68 L152.27 131.57 L152.83 131.47 L153.39 131.37 L153.95 131.27 L154.51 131.17 L155.07 131.08 L155.63 130.98 L156.18 130.89 L156.74 130.79 L157.3 130.7 L157.86 130.61 L158.42 130.52 L158.98 130.43 L159.54 130.34 L160.09 130.25 L160.65 130.16 L161.21 130.07 L161.77 129.99 L162.33 129.9 L162.89 129.81 L163.45 129.73 L164.01 129.64 L164.56 129.56 L165.12 129.47 L165.68 129.39 L166.24 129.31 L166.8 129.22 L167.36 129.14 L167.92 129.05 L168.48 128.97 L169.03 128.89 L169.59 128.8 L170.15 128.72 L170.71 128.64 L171.27 128.55 L171.83 128.47 L172.39 128.38 L172.95 128.3 L173.5 128.21 L174.06 128.13 L174.62 128.04 L175.18 127.95 L175.74 127.86 L176.3 127.78 L176.86 127.69 L177.42 127.6 L177.97 127.51 L178.53 127.42 L179.09 127.32 L179.65 127.23 L180.21 127.14 L180.77 127.04 L181.33 126.95 L181.88 126.85 L182.44 126.75 L183 126.65 L183.56 126.55 L184.12 126.45 L184.68 126.35 L185.24 126.25 L185.8 126.15 L186.35 126.05 L186.91 125.95 L187.47 125.85 L188.03 125.74 L188.59 125.64 L189.15 125.54 L189.71 125.43 L190.27 125.33 L190.82 125.23 L191.38 125.12 L191.94 125.02 L192.5 124.92 L193.06 124.81 L193.62 124.71 L194.18 124.61 L194.74 124.51 L195.29 124.4 L195.85 124.3 L196.41 124.2 L196.97 124.1 L197.53 124 L198.09 123.9 L198.65 123.8 L199.2 123.7 L199.76 123.61 L200.32 123.51 L200.88 123.42 L201.44 123.32 L202 123.23 L202.56 123.14 L203.12 123.04 L203.67 122.95 L204.23 122.86 L204.79 122.78 L205.35 122.69 L205.91 122.61 L206.47 122.52 L207.03 122.43 L207.59 122.35 L208.14 122.26 L208.7 122.17 L209.26 122.08 L209.82 121.99 L210.38 121.9 L210.94 121.81 L211.5 121.73 L212.06 121.64 L212.61 121.56 L213.17 121.48 L213.73 121.41 L214.29 121.33 L214.85 121.27 L215.41 121.2 L215.97 121.14 L216.53 121.09 L217.08 121.04 L217.64 121 L218.2 120.96 L218.76 120.93"/><path stroke="#0000c8" d="M85 207.65 L85.56 203.63 L86.12 200.67 L86.68 197.94 L87.24 195.41 L87.8 193.05 L88.36 190.85 L88.92 188.78 L89.48 186.83 L90.04 184.96 L90.6 183.16 L91.16 181.41 L91.72 179.67 L92.28 177.94 L92.84 176.19 L93.4 174.39 L93.96 172.55 L94.52 170.73 L95.08 168.94 L95.64 167.17 L96.2 165.43 L96.76 163.71 L97.32 162.01 L97.88 160.34 L98.44 158.68 L98.99 157.05 L99.55 155.43 L100.11 153.83 L100.67 152.25 L101.23 150.69 L101.79 149.14 L102.35 147.6 L102.91 146.07 L103.47 144.56 L104.03 143.06 L104.59 141.57 L105.15 140.09 L105.71 138.62 L106.27 137.17 L106.83 135.73 L107.39 134.31 L107.95 132.91 L108.51 131.53 L109.07 130.17 L109.63 128.84 L110.19 127.53 L110.75 126.25 L111.31 124.99 L111.87 123.76 L112.43 122.55 L112.99 121.36 L113.55 120.19 L114.11 119.05 L114.66 117.92 L115.22 116.83 L115.78 115.76 L116.34 114.72 L116.9 113.71 L117.46 112.73 L118.02 111.76 L118.58 110.8 L119.14 109.86 L119.7 108.94 L120.26 108.05 L120.82 107.18 L121.38 106.36 L121.94 105.58 L122.5 104.85 L123.06 104.17 L123.62 103.53 L124.18 102.93 L124.74 102.36 L125.3 101.82 L125.86 101.29 L126.42 100.78 L126.98 100.29 L127.54 99.79 L128.1 99.3 L128.66 98.81 L129.22 98.31 L129.78 97.79 L130.34 97.26 L130.89 96.72 L131.45 96.18 L132.01 95.64 L132.57 95.09 L133.13 94.55 L133.69 94 L134.25 93.46 L134.81 92.92 L135.37 92.37 L135.93 91.84 L136.49 91.3 L137.05 90.77 L137.61 90.25 L138.17 89.73 L138.73 89.22 L139.29 88.71 L139.85 88.21 L140.41 87.72 L140.97 87.22 L141.53 86.72 L142.09 86.22 L142.65 85.72 L143.21 85.21 L143.77 84.71 L144.33 84.22 L144.89 83.73 L145.45 83.25 L146.01 82.78 L146.57 82.32 L147.12 81.87 L147.68 81.44 L148.24 81.03 L148.8 80.63 L149.36 80.26 L149.92 79.9 L150.48 79.57 L151.04 79.26 L151.6 78.97 L152.16 78.69 L152.72 78.43 L153.28 78.18 L153.84 77.93 L154.4 77.69 L154.96 77.46 L155.52 77.23 L156.08 76.99 L156.64 76.76 L157.2 76.51 L157.76 76.27 L158.32 76.01 L158.88 75.75 L159.44 75.49 L160 75.23 L160.56 74.96 L161.12 74.69 L161.68 74.43 L162.24 74.16 L162.79 73.89 L163.35 73.63 L163.91 73.37 L164.47 73.11 L165.03 72.86 L165.59 72.62 L166.15 72.37 L166.71 72.14 L167.27 71.91 L167.83 71.7 L168.39 71.49 L168.95 71.29 L169.51 71.1 L170.07 70.93 L170.63 70.76 L171.19 70.6 L171.75 70.44 L172.31 70.3 L172.87 70.15 L173.43 70.01 L173.99 69.88 L174.55 69.75 L175.11 69.62 L175.67 69.49 L176.23 69.37 L176.79 69.25 L177.35 69.13 L177.91 69.01 L178.47 68.9 L179.02 68.78 L179.58 68.66 L180.14 68.54 L180.7 68.42 L181.26 68.3 L181.82 68.17 L182.38 68.04 L182.94 67.91 L183.5 67.78 L184.06 67.64 L184.62 67.5 L185.18 67.35 L185.74 67.2 L186.3 67.05 L186.86 66.9 L187.42 66.75 L187.98 66.6 L188.54 66.44 L189.1 66.29 L189.66 66.13 L190.22 65.98 L190.78 65.83 L191.34 65.68 L191.9 65.54 L192.46 65.39 L193.02 65.25 L193.58 65.11 L194.14 64.98 L194.7 64.85 L195.25 64.72 L195.81 64.6 L196.37 64.48 L196.93 64.36 L197.49 64.24 L198.05 64.13 L198.61 64.02 L199.17 63.91 L199.73 63.8 L200.29 63.7 L200.85 63.6 L201.41 63.51 L201.97 63.42 L202.53 63.33 L203.09 63.24 L203.65 63.15 L204.21 63.06 L204.77 62.97 L205.33 62.88 L205.89 62.79 L206.45 62.7 L207.01 62.61 L207.57 62.53 L208.13 62.44 L208.69 62.36 L209.25 62.27 L209.81 62.2 L210.37 62.12 L210.92 62.04 L211.48 61.97 L212.04 61.9 L212.6 61.84 L213.16 61.78 L213.72 61.72 L214.28 61.67 L214.84 61.62 L215.4 61.58 L215.96 61.54 L216.52 61.51 L217.08 61.48 L217.64 61.46 L218.2 61.44 L218.76 61.43"/><path stroke="#ff00ff" d="M85 173.73 L85.56 172.1 L86.12 170.91 L86.68 169.93 L87.24 169.09 L87.8 168.33 L88.36 167.61 L88.92 166.9 L89.48 166.16 L90.04 165.33 L90.6 164.43 L91.16 163.48 L91.72 162.5 L92.28 161.5 L92.84 160.48 L93.4 159.46 L93.96 158.45 L94.52 157.45 L95.08 156.49 L95.64 155.55 L96.2 154.66 L96.76 153.8 L97.32 152.94 L97.88 152.1 L98.44 151.28 L98.99 150.47 L99.55 149.67 L100.11 148.88 L100.67 148.1 L101.23 147.34 L101.79 146.58 L102.35 145.83 L102.91 145.1 L103.47 144.37 L104.03 143.65 L104.59 142.95 L105.15 142.25 L105.71 141.57 L106.27 140.89 L106.83 140.21 L107.39 139.55 L107.95 138.89 L108.51 138.23 L109.07 137.58 L109.63 136.94 L110.19 136.29 L110.75 135.65 L111.31 135.01 L111.87 134.36 L112.43 133.72 L112.99 133.07 L113.55 132.41 L114.11 131.76 L114.66 131.1 L115.22 130.45 L115.78 129.8 L116.34 129.16 L116.9 128.54 L117.46 127.92 L118.02 127.33 L118.58 126.75 L119.14 126.19 L119.7 125.66 L120.26 125.15 L120.82 124.67 L121.38 124.21 L121.94 123.77 L122.5 123.34 L123.06 122.92 L123.62 122.51 L124.18 122.1 L124.74 121.68 L125.3 121.27 L125.86 120.85 L126.42 120.44 L126.98 120.04 L127.54 119.64 L128.1 119.24 L128.66 118.84 L129.22 118.44 L129.78 118.04 L130.34 117.65 L130.89 117.24 L131.45 116.84 L132.01 116.43 L132.57 116.02 L133.13 115.61 L133.69 115.2 L134.25 114.79 L134.81 114.39 L135.37 113.99 L135.93 113.59 L136.49 113.2 L137.05 112.81 L137.61 112.43 L138.17 112.06 L138.73 111.68 L139.29 111.3 L139.85 110.93 L140.41 110.56 L140.97 110.19 L141.53 109.82 L142.09 109.45 L142.65 109.09 L143.21 108.73 L143.77 108.37 L144.33 108.01 L144.89 107.66 L145.45 107.31 L146.01 106.96 L146.57 106.62 L147.12 106.28 L147.68 105.95 L148.24 105.62 L148.8 105.29 L149.36 104.97 L149.92 104.65 L150.48 104.34 L151.04 104.02 L151.6 103.71 L152.16 103.4 L152.72 103.1 L153.28 102.79 L153.84 102.49 L154.4 102.19 L154.96 101.89 L155.52 101.6 L156.08 101.3 L156.64 101.01 L157.2 100.72 L157.76 100.44 L158.32 100.15 L158.88 99.87 L159.44 99.59 L160 99.32 L160.56 99.04 L161.12 98.77 L161.68 98.5 L162.24 98.24 L162.79 97.97 L163.35 97.71 L163.91 97.46 L164.47 97.2 L165.03 96.95 L165.59 96.7 L166.15 96.46 L166.71 96.22 L167.27 95.98 L167.83 95.74 L168.39 95.5 L168.95 95.27 L169.51 95.04 L170.07 94.81 L170.63 94.58 L171.19 94.36 L171.75 94.14 L172.31 93.92 L172.87 93.71 L173.43 93.49 L173.99 93.29 L174.55 93.08 L175.11 92.88 L175.67 92.68 L176.23 92.49 L176.79 92.3 L177.35 92.11 L177.91 91.93 L178.47 91.75 L179.02 91.58 L179.58 91.42 L180.14 91.26 L180.7 91.1 L181.26 90.95 L181.82 90.79 L182.38 90.64 L182.94 90.49 L183.5 90.34 L184.06 90.19 L184.62 90.04 L185.18 89.89 L185.74 89.74 L186.3 89.6 L186.86 89.46 L187.42 89.31 L187.98 89.16 L188.54 89.01 L189.1 88.86 L189.66 88.7 L190.22 88.53 L190.78 88.35 L191.34 88.16 L191.9 87.96 L192.46 87.75 L193.02 87.54 L193.58 87.33 L194.14 87.11 L194.7 86.89 L195.25 86.68 L195.81 86.46 L196.37 86.25 L196.93 86.05 L197.49 85.85 L198.05 85.67 L198.61 85.49 L199.17 85.33 L199.73 85.17 L200.29 85.02 L200.85 84.87 L201.41 84.72 L201.97 84.57 L202.53 84.42 L203.09 84.28 L203.65 84.13 L204.21 83.99 L204.77 83.85 L205.33 83.71 L205.89 83.57 L206.45 83.44 L207.01 83.31 L207.57 83.18 L208.13 83.05 L208.69 82.92 L209.25 82.8 L209.81 82.68 L210.37 82.57 L210.92 82.46 L211.48 82.35 L212.04 82.25 L212.6 82.14 L213.16 82.05 L213.72 81.96 L214.28 81.87 L214.84 81.79 L215.4 81.71 L215.96 81.63 L216.52 81.57 L217.08 81.5 L217.64 81.44 L218.2 81.39 L218.76 81.33"/><path stroke="#e8000b" d="M85.09 167.82 L85.65 163.82 L86.21 159.96 L86.77 156.24 L87.33 152.66 L87.89 149.21 L88.45 145.89 L89.01 142.69 L89.57 139.61 L90.13 136.64 L90.69 133.77 L91.24 131.02 L91.8 128.36 L92.36 125.8 L92.92 123.34 L93.48 120.97 L94.04 118.68 L94.6 116.48 L95.16 114.36 L95.72 112.31 L96.28 110.34 L96.84 108.45 L97.4 106.62 L97.96 104.86 L98.52 103.17 L99.07 101.53 L99.63 99.96 L100.19 98.44 L100.75 96.98 L101.31 95.58 L101.87 94.22 L102.43 92.92 L102.99 91.66 L103.55 90.45 L104.11 89.28 L104.67 88.16 L105.23 87.08 L105.79 86.03 L106.35 85.03 L106.9 84.06 L107.46 83.13 L108.02 82.23 L108.58 81.37 L109.14 80.53 L109.7 79.73 L110.26 78.96 L110.82 78.21 L111.38 77.49 L111.94 76.8 L112.5 76.14 L113.06 75.5 L113.62 74.88 L114.18 74.28 L114.73 73.71 L115.29 73.16 L115.85 72.62 L116.41 72.11 L116.97 71.62 L117.53 71.14 L118.09 70.68 L118.65 70.24 L119.21 69.82 L119.77 69.41 L120.33 69.01 L120.89 68.63 L121.45 68.27 L122.01 67.91 L122.56 67.57 L123.12 67.25 L123.68 66.93 L124.24 66.63 L124.8 66.34 L125.36 66.05 L125.92 65.78 L126.48 65.52 L127.04 65.27 L127.6 65.03 L128.16 64.79 L128.72 64.57 L129.28 64.35 L129.83 64.14 L130.39 63.94 L130.95 63.75 L131.51 63.56 L132.07 63.38 L132.63 63.21 L133.19 63.04 L133.75 62.88 L134.31 62.72 L134.87 62.57 L135.43 62.43 L135.99 62.29 L136.55 62.16 L137.11 62.03 L137.66 61.91 L138.22 61.79 L138.78 61.67 L139.34 61.56 L139.9 61.45 L140.46 61.35 L141.02 61.25 L141.58 61.16 L142.14 61.07 L142.7 60.98 L143.26 60.89 L143.82 60.81 L144.38 60.73 L144.94 60.65 L145.49 60.58 L146.05 60.51 L146.61 60.44 L147.17 60.38 L147.73 60.31 L148.29 60.25 L148.85 60.19 L149.41 60.14 L149.97 60.08 L150.53 60.03 L151.09 59.98 L151.65 59.93 L152.21 59.88 L152.77 59.84 L153.32 59.8 L153.88 59.75 L154.44 59.71 L155 59.67 L155.56 59.64 L156.12 59.6 L156.68 59.57 L157.24 59.53 L157.8 59.5 L158.36 59.47 L158.92 59.44 L159.48 59.41 L160.04 59.38 L160.6 59.36 L161.15 59.33 L161.71 59.31 L162.27 59.28 L162.83 59.26 L163.39 59.24 L163.95 59.22 L164.51 59.19 L165.07 59.18 L165.63 59.16 L166.19 59.14 L166.75 59.12 L167.31 59.1 L167.87 59.09 L168.43 59.07 L168.98 59.06 L169.54 59.04 L170.1 59.03 L170.66 59.01 L171.22 59 L171.78 58.99 L172.34 58.97 L172.9 58.96 L173.46 58.95 L174.02 58.94 L174.58 58.93 L175.14 58.92 L175.7 58.91 L176.25 58.9 L176.81 58.89 L177.37 58.88 L177.93 58.87 L178.49 58.87 L179.05 58.86 L179.61 58.85 L180.17 58.84 L180.73 58.84 L181.29 58.83 L181.85 58.82 L182.41 58.82 L182.97 58.81 L183.53 58.81 L184.08 58.8 L184.64 58.8 L185.2 58.79 L185.76 58.78 L186.32 58.78 L186.88 58.78 L187.44 58.77 L188 58.77 L188.56 58.76 L189.12 58.76 L189.68 58.75 L190.24 58.75 L190.8 58.75 L191.36 58.74 L191.91 58.74 L192.47 58.74 L193.03 58.73 L193.59 58.73 L194.15 58.73 L194.71 58.73 L195.27 58.72 L195.83 58.72 L196.39 58.72 L196.95 58.72 L197.51 58.71 L198.07 58.71 L198.63 58.71 L199.19 58.71 L199.74 58.71 L200.3 58.7 L200.86 58.7 L201.42 58.7 L201.98 58.7 L202.54 58.7 L203.1 58.7 L203.66 58.69 L204.22 58.69 L204.78 58.69 L205.34 58.69 L205.9 58.69 L206.46 58.69 L207.02 58.69 L207.57 58.68 L208.13 58.68 L208.69 58.68 L209.25 58.68 L209.81 58.68 L210.37 58.68 L210.93 58.68 L211.49 58.68 L212.05 58.68 L212.61 58.68 L213.17 58.68 L213.73 58.67 L214.29 58.67 L214.85 58.67 L215.4 58.67 L215.96 58.67 L216.52 58.67 L217.08 58.67 L217.64 58.67 L218.2 58.67 L218.76 58.67"/><path stroke="#1f8a1f" d="M224.54 119.88 L225.41 118.64 L226.27 116.99 L227.13 115.34 L227.99 114.06 L228.86 112.97 L229.72 111.96 L230.58 111.02 L231.44 110.13 L232.31 109.28 L233.17 108.43 L234.03 107.6 L234.89 106.77 L235.76 105.97 L236.62 105.2 L237.48 104.45 L238.34 103.74 L239.21 103.07 L240.07 102.45 L240.93 101.86 L241.79 101.29 L242.66 100.74 L243.52 100.2 L244.38 99.68 L245.24 99.19 L246.11 98.71 L246.97 98.27 L247.83 97.84 L248.69 97.44 L249.56 97.07 L250.42 96.72 L251.28 96.39 L252.14 96.06 L253.01 95.76 L253.87 95.46 L254.73 95.18 L255.59 94.9 L256.46 94.64 L257.32 94.38 L258.18 94.14 L259.04 93.9 L259.91 93.67 L260.77 93.45 L261.63 93.24 L262.49 93.03 L263.36 92.82 L264.22 92.62 L265.08 92.42 L265.94 92.23 L266.81 92.05 L267.67 91.86 L268.53 91.68 L269.39 91.51 L270.26 91.34 L271.12 91.17 L271.98 91 L272.84 90.84 L273.71 90.68 L274.57 90.52 L275.43 90.37 L276.29 90.21 L277.16 90.06 L278.02 89.91 L278.88 89.77 L279.74 89.62 L280.61 89.47 L281.47 89.33 L282.33 89.19 L283.19 89.04 L284.06 88.9 L284.92 88.76 L285.78 88.62 L286.64 88.48 L287.51 88.35 L288.37 88.21 L289.23 88.08 L290.09 87.95 L290.96 87.82 L291.82 87.69 L292.68 87.56 L293.54 87.43 L294.41 87.31 L295.27 87.18 L296.13 87.06 L296.99 86.94 L297.86 86.82 L298.72 86.7 L299.58 86.59 L300.44 86.47 L301.31 86.36 L302.17 86.25 L303.03 86.14 L303.89 86.03 L304.76 85.92 L305.62 85.81 L306.48 85.71 L307.34 85.61 L308.21 85.5 L309.07 85.41 L309.93 85.31 L310.79 85.21 L311.66 85.12 L312.52 85.03 L313.38 84.94 L314.24 84.84 L315.11 84.75 L315.97 84.67 L316.83 84.58 L317.69 84.49 L318.56 84.4 L319.42 84.31 L320.28 84.22 L321.14 84.14 L322.01 84.05 L322.87 83.96 L323.73 83.87 L324.59 83.78 L325.46 83.69 L326.32 83.59 L327.18 83.5"/><path stroke="#ff00ff" d="M224.54 79.6 L225.41 78.02 L226.27 76.15 L227.13 74.37 L227.99 72.97 L228.86 71.78 L229.72 70.78 L230.58 69.99 L231.44 69.25 L232.31 68.55 L233.17 67.9 L234.03 67.3 L234.89 66.74 L235.76 66.24 L236.62 65.79 L237.48 65.4 L238.34 65.06 L239.21 64.77 L240.07 64.49 L240.93 64.23 L241.79 63.98 L242.66 63.74 L243.52 63.52 L244.38 63.3 L245.24 63.1 L246.11 62.91 L246.97 62.72 L247.83 62.55 L248.69 62.39 L249.56 62.24 L250.42 62.09 L251.28 61.95 L252.14 61.83 L253.01 61.7 L253.87 61.59 L254.73 61.48 L255.59 61.38 L256.46 61.28 L257.32 61.18 L258.18 61.08 L259.04 60.98 L259.91 60.89 L260.77 60.8 L261.63 60.71 L262.49 60.62 L263.36 60.54 L264.22 60.46 L265.08 60.38 L265.94 60.3 L266.81 60.22 L267.67 60.15 L268.53 60.08 L269.39 60.01 L270.26 59.94 L271.12 59.88 L271.98 59.81 L272.84 59.76 L273.71 59.7 L274.57 59.64 L275.43 59.59 L276.29 59.54 L277.16 59.5 L278.02 59.45 L278.88 59.41 L279.74 59.37 L280.61 59.33 L281.47 59.3 L282.33 59.27 L283.19 59.24 L284.06 59.21 L284.92 59.18 L285.78 59.16 L286.64 59.13 L287.51 59.1 L288.37 59.08 L289.23 59.05 L290.09 59.03 L290.96 59 L291.82 58.98 L292.68 58.95 L293.54 58.93 L294.41 58.9 L295.27 58.88 L296.13 58.86 L296.99 58.83 L297.86 58.81 L298.72 58.79 L299.58 58.77 L300.44 58.75 L301.31 58.73 L302.17 58.71 L303.03 58.69 L303.89 58.67 L304.76 58.65 L305.62 58.63 L306.48 58.62 L307.34 58.6 L308.21 58.58 L309.07 58.57 L309.93 58.55 L310.79 58.54 L311.66 58.53 L312.52 58.51 L313.38 58.5 L314.24 58.49 L315.11 58.48 L315.97 58.47 L316.83 58.46 L317.69 58.45 L318.56 58.44 L319.42 58.43 L320.28 58.43 L321.14 58.42 L322.01 58.41 L322.87 58.41 L323.73 58.41 L324.59 58.4 L325.46 58.4 L326.32 58.4 L327.18 58.4"/><path stroke="#0000c8" d="M224.54 61.02 L225.03 60.9 L225.52 60.78 L226.02 60.66 L226.51 60.53 L227 60.41 L227.49 60.29 L227.98 60.17 L228.47 60.05 L228.96 59.94 L229.45 59.83 L229.94 59.73 L230.43 59.64 L230.92 59.55 L231.41 59.47 L231.9 59.39 L232.39 59.33 L232.89 59.27 L233.38 59.23 L233.87 59.19 L234.36 59.15 L234.85 59.1 L235.34 59.06 L235.83 59.03 L236.32 58.99 L236.81 58.95 L237.3 58.91 L237.79 58.88 L238.28 58.84 L238.77 58.81 L239.27 58.77 L239.76 58.74 L240.25 58.71 L240.74 58.68 L241.23 58.66 L241.72 58.63 L242.21 58.6 L242.7 58.58 L243.19 58.56 L243.68 58.53 L244.17 58.51 L244.66 58.5 L245.15 58.48 L245.64 58.46 L246.14 58.45 L246.63 58.44 L247.12 58.43 L247.61 58.42 L248.1 58.41 L248.59 58.41 L249.08 58.4 L249.57 58.4 L250.06 58.4 L250.55 58.4 L251.04 58.4 L251.53 58.4 L252.02 58.4 L252.51 58.4 L253.01 58.4 L253.5 58.4 L253.99 58.4 L254.48 58.4 L254.97 58.4 L255.46 58.4 L255.95 58.4 L256.44 58.4 L256.93 58.4 L257.42 58.4 L257.91 58.4 L258.4 58.4 L258.89 58.4 L259.38 58.4 L259.88 58.4 L260.37 58.4 L260.86 58.4 L261.35 58.4 L261.84 58.4 L262.33 58.4 L262.82 58.4 L263.31 58.4 L263.8 58.4 L264.29 58.4 L264.78 58.4 L265.27 58.4 L265.76 58.4 L266.26 58.4 L266.75 58.4 L267.24 58.4 L267.73 58.4 L268.22 58.4 L268.71 58.4 L269.2 58.4 L269.69 58.4 L270.18 58.4 L270.67 58.4 L271.16 58.4 L271.65 58.4 L272.14 58.4 L272.63 58.4 L273.13 58.4 L273.62 58.4 L274.11 58.4 L274.6 58.4 L275.09 58.4 L275.58 58.4 L276.07 58.4 L276.56 58.4 L277.05 58.4 L277.54 58.4 L278.03 58.4 L278.52 58.4 L279.01 58.4 L279.5 58.4 L280 58.4 L280.49 58.4 L280.98 58.4 L281.47 58.4 L281.96 58.4 L282.45 58.4 L282.94 58.4"/><path stroke="#e8000b" d="M224.54 58.66 L225.03 58.66 L225.52 58.66 L226.02 58.65 L226.51 58.65 L227 58.65 L227.49 58.65 L227.98 58.65 L228.47 58.65 L228.96 58.65 L229.45 58.65 L229.94 58.65 L230.43 58.65 L230.92 58.65 L231.41 58.65 L231.9 58.65 L232.39 58.65 L232.89 58.65 L233.38 58.65 L233.87 58.65 L234.36 58.65 L234.85 58.65 L235.34 58.65 L235.83 58.65 L236.32 58.65 L236.81 58.65 L237.3 58.65 L237.79 58.65 L238.28 58.65 L238.77 58.65 L239.27 58.65 L239.76 58.65 L240.25 58.65 L240.74 58.65 L241.23 58.65 L241.72 58.65 L242.21 58.65 L242.7 58.65 L243.19 58.65 L243.68 58.65 L244.17 58.65 L244.66 58.65 L245.15 58.65 L245.64 58.65 L246.14 58.65 L246.63 58.65 L247.12 58.65 L247.61 58.65 L248.1 58.65 L248.59 58.65 L249.08 58.65 L249.57 58.65 L250.06 58.65 L250.55 58.65 L251.04 58.65 L251.53 58.65 L252.02 58.65 L252.51 58.65 L253.01 58.65 L253.5 58.65 L253.99 58.65 L254.48 58.65 L254.97 58.65 L255.46 58.65 L255.95 58.65 L256.44 58.65 L256.93 58.65 L257.42 58.65 L257.91 58.65 L258.4 58.65 L258.89 58.65 L259.38 58.65 L259.88 58.65 L260.37 58.65 L260.86 58.65 L261.35 58.65 L261.84 58.65 L262.33 58.65 L262.82 58.65 L263.31 58.65 L263.8 58.65 L264.29 58.65 L264.78 58.65 L265.27 58.65 L265.76 58.65 L266.26 58.65 L266.75 58.65 L267.24 58.65 L267.73 58.65 L268.22 58.65 L268.71 58.65 L269.2 58.65 L269.69 58.65 L270.18 58.65 L270.67 58.65 L271.16 58.65 L271.65 58.65 L272.14 58.65 L272.63 58.65 L273.13 58.65 L273.62 58.65 L274.11 58.65 L274.6 58.65 L275.09 58.65 L275.58 58.65 L276.07 58.65 L276.56 58.65 L277.05 58.65 L277.54 58.65 L278.03 58.65 L278.52 58.65 L279.01 58.65 L279.5 58.65 L280 58.65 L280.49 58.65 L280.98 58.65 L281.47 58.65 L281.96 58.65 L282.45 58.65 L282.94 58.65"/></g><line x1="63" y1="15.45" x2="63" y2="229.35" stroke="#000" stroke-width="1.7"/><line x1="327" y1="15.45" x2="327" y2="229.35" stroke="#000" stroke-width="1.7"/><line x1="63" y1="16.3" x2="218.4" y2="16.3" stroke="#000" stroke-width="1.7"/><line x1="225.4" y1="16.3" x2="327" y2="16.3" stroke="#000" stroke-width="1.7"/><line x1="63" y1="228.5" x2="218.4" y2="228.5" stroke="#000" stroke-width="1.7"/><line x1="225.4" y1="228.5" x2="327" y2="228.5" stroke="#000" stroke-width="1.7"/><line x1="216.4" y1="20.7" x2="221.6" y2="11.9" stroke="#000" stroke-width="1.6"/><line x1="221.4" y1="20.7" x2="226.6" y2="11.9" stroke="#000" stroke-width="1.6"/><line x1="216.4" y1="232.9" x2="221.6" y2="224.1" stroke="#000" stroke-width="1.6"/><line x1="221.4" y1="232.9" x2="226.6" y2="224.1" stroke="#000" stroke-width="1.6"/><line x1="63" y1="206.8" x2="60.2" y2="206.8" stroke="#000" stroke-width="1.2"/><line x1="327" y1="206.8" x2="324.2" y2="206.8" stroke="#000" stroke-width="1.2"/><line x1="63" y1="185.6" x2="67.6" y2="185.6" stroke="#000" stroke-width="1.2"/><line x1="327" y1="185.6" x2="322.4" y2="185.6" stroke="#000" stroke-width="1.2"/><line x1="63" y1="164.4" x2="60.2" y2="164.4" stroke="#000" stroke-width="1.2"/><line x1="327" y1="164.4" x2="324.2" y2="164.4" stroke="#000" stroke-width="1.2"/><line x1="63" y1="143.2" x2="67.6" y2="143.2" stroke="#000" stroke-width="1.2"/><line x1="327" y1="143.2" x2="322.4" y2="143.2" stroke="#000" stroke-width="1.2"/><line x1="63" y1="122" x2="60.2" y2="122" stroke="#000" stroke-width="1.2"/><line x1="327" y1="122" x2="324.2" y2="122" stroke="#000" stroke-width="1.2"/><line x1="63" y1="100.8" x2="67.6" y2="100.8" stroke="#000" stroke-width="1.2"/><line x1="327" y1="100.8" x2="322.4" y2="100.8" stroke="#000" stroke-width="1.2"/><line x1="63" y1="79.6" x2="60.2" y2="79.6" stroke="#000" stroke-width="1.2"/><line x1="327" y1="79.6" x2="324.2" y2="79.6" stroke="#000" stroke-width="1.2"/><line x1="63" y1="58.4" x2="67.6" y2="58.4" stroke="#000" stroke-width="1.2"/><line x1="327" y1="58.4" x2="322.4" y2="58.4" stroke="#000" stroke-width="1.2"/><line x1="63" y1="37.2" x2="60.2" y2="37.2" stroke="#000" stroke-width="1.2"/><line x1="327" y1="37.2" x2="324.2" y2="37.2" stroke="#000" stroke-width="1.2"/><line x1="85.45" y1="228.5" x2="85.45" y2="223.9" stroke="#000" stroke-width="1.2"/><line x1="85.45" y1="16.3" x2="85.45" y2="20.9" stroke="#000" stroke-width="1.2"/><line x1="107.78" y1="228.5" x2="107.78" y2="231.3" stroke="#000" stroke-width="1.2"/><line x1="107.78" y1="16.3" x2="107.78" y2="19.1" stroke="#000" stroke-width="1.2"/><line x1="130.11" y1="228.5" x2="130.11" y2="223.9" stroke="#000" stroke-width="1.2"/><line x1="130.11" y1="16.3" x2="130.11" y2="20.9" stroke="#000" stroke-width="1.2"/><line x1="152.44" y1="228.5" x2="152.44" y2="231.3" stroke="#000" stroke-width="1.2"/><line x1="152.44" y1="16.3" x2="152.44" y2="19.1" stroke="#000" stroke-width="1.2"/><line x1="174.77" y1="228.5" x2="174.77" y2="223.9" stroke="#000" stroke-width="1.2"/><line x1="174.77" y1="16.3" x2="174.77" y2="20.9" stroke="#000" stroke-width="1.2"/><line x1="197.1" y1="228.5" x2="197.1" y2="231.3" stroke="#000" stroke-width="1.2"/><line x1="197.1" y1="16.3" x2="197.1" y2="19.1" stroke="#000" stroke-width="1.2"/><line x1="227.64" y1="228.5" x2="227.64" y2="231.3" stroke="#000" stroke-width="1.2"/><line x1="227.64" y1="16.3" x2="227.64" y2="19.1" stroke="#000" stroke-width="1.2"/><line x1="238.7" y1="228.5" x2="238.7" y2="223.9" stroke="#000" stroke-width="1.2"/><line x1="238.7" y1="16.3" x2="238.7" y2="20.9" stroke="#000" stroke-width="1.2"/><line x1="249.76" y1="228.5" x2="249.76" y2="231.3" stroke="#000" stroke-width="1.2"/><line x1="249.76" y1="16.3" x2="249.76" y2="19.1" stroke="#000" stroke-width="1.2"/><line x1="260.82" y1="228.5" x2="260.82" y2="223.9" stroke="#000" stroke-width="1.2"/><line x1="260.82" y1="16.3" x2="260.82" y2="20.9" stroke="#000" stroke-width="1.2"/><line x1="271.88" y1="228.5" x2="271.88" y2="231.3" stroke="#000" stroke-width="1.2"/><line x1="271.88" y1="16.3" x2="271.88" y2="19.1" stroke="#000" stroke-width="1.2"/><line x1="282.94" y1="228.5" x2="282.94" y2="223.9" stroke="#000" stroke-width="1.2"/><line x1="282.94" y1="16.3" x2="282.94" y2="20.9" stroke="#000" stroke-width="1.2"/><line x1="294" y1="228.5" x2="294" y2="231.3" stroke="#000" stroke-width="1.2"/><line x1="294" y1="16.3" x2="294" y2="19.1" stroke="#000" stroke-width="1.2"/><line x1="305.06" y1="228.5" x2="305.06" y2="223.9" stroke="#000" stroke-width="1.2"/><line x1="305.06" y1="16.3" x2="305.06" y2="20.9" stroke="#000" stroke-width="1.2"/><line x1="316.12" y1="228.5" x2="316.12" y2="231.3" stroke="#000" stroke-width="1.2"/><line x1="316.12" y1="16.3" x2="316.12" y2="19.1" stroke="#000" stroke-width="1.2"/><g fill="none" stroke="#111111" stroke-width="0.65"><rect x="239.9" y="139" width="2.6" height="2.6"/></g><line x1="251.6" y1="140.3" x2="268.8" y2="140.3" stroke="#000000" stroke-width="2.5"/><text x="277.6" y="144.6" font-size="12" text-anchor="start">176 K</text><g fill="none" stroke="#ff1010" stroke-width="0.65"><circle cx="241.2" cy="155" r="1.4"/></g><line x1="251.6" y1="155" x2="268.8" y2="155" stroke="#e8000b" stroke-width="2.5"/><text x="277.6" y="159.3" font-size="12" text-anchor="start">186</text><g fill="none" stroke="#1010d0" stroke-width="0.65"><path d="M241.2 168l1.55 2.7h-3.1z"/></g><line x1="251.6" y1="169.6" x2="268.8" y2="169.6" stroke="#0000c8" stroke-width="2.5"/><text x="277.6" y="173.9" font-size="12" text-anchor="start">191</text><g fill="none" stroke="#ff00ff" stroke-width="0.65"><path d="M241.2 185.9l1.55 -2.7h-3.1z"/></g><line x1="251.6" y1="184.3" x2="268.8" y2="184.3" stroke="#ff00ff" stroke-width="2.5"/><text x="277.6" y="188.6" font-size="12" text-anchor="start">196</text><g fill="none" stroke="#128412" stroke-width="0.65"><path d="M241.2 197.4l1.6 1.6l-1.6 1.6l-1.6 -1.6z"/></g><line x1="251.6" y1="199" x2="268.8" y2="199" stroke="#1f8a1f" stroke-width="2.5"/><text x="277.6" y="203.3" font-size="12" text-anchor="start">199</text><line x1="421.7" y1="15.15" x2="421.7" y2="230.05" stroke="#000" stroke-width="1.7"/><line x1="682.6" y1="15.15" x2="682.6" y2="230.05" stroke="#000" stroke-width="1.7"/><line x1="421.7" y1="16" x2="682.6" y2="16" stroke="#000" stroke-width="1.7"/><line x1="421.7" y1="229.2" x2="682.6" y2="229.2" stroke="#000" stroke-width="1.7"/><line x1="421.7" y1="215.91" x2="424.5" y2="215.91" stroke="#000" stroke-width="1.2"/><line x1="682.6" y1="215.91" x2="679.8" y2="215.91" stroke="#000" stroke-width="1.2"/><line x1="421.7" y1="202.59" x2="426.3" y2="202.59" stroke="#000" stroke-width="1.2"/><line x1="682.6" y1="202.59" x2="678" y2="202.59" stroke="#000" stroke-width="1.2"/><line x1="421.7" y1="189.26" x2="424.5" y2="189.26" stroke="#000" stroke-width="1.2"/><line x1="682.6" y1="189.26" x2="679.8" y2="189.26" stroke="#000" stroke-width="1.2"/><line x1="421.7" y1="175.93" x2="426.3" y2="175.93" stroke="#000" stroke-width="1.2"/><line x1="682.6" y1="175.93" x2="678" y2="175.93" stroke="#000" stroke-width="1.2"/><line x1="421.7" y1="162.6" x2="424.5" y2="162.6" stroke="#000" stroke-width="1.2"/><line x1="682.6" y1="162.6" x2="679.8" y2="162.6" stroke="#000" stroke-width="1.2"/><line x1="421.7" y1="149.28" x2="426.3" y2="149.28" stroke="#000" stroke-width="1.2"/><line x1="682.6" y1="149.28" x2="678" y2="149.28" stroke="#000" stroke-width="1.2"/><line x1="421.7" y1="135.95" x2="424.5" y2="135.95" stroke="#000" stroke-width="1.2"/><line x1="682.6" y1="135.95" x2="679.8" y2="135.95" stroke="#000" stroke-width="1.2"/><line x1="421.7" y1="122.62" x2="426.3" y2="122.62" stroke="#000" stroke-width="1.2"/><line x1="682.6" y1="122.62" x2="678" y2="122.62" stroke="#000" stroke-width="1.2"/><line x1="421.7" y1="109.29" x2="424.5" y2="109.29" stroke="#000" stroke-width="1.2"/><line x1="682.6" y1="109.29" x2="679.8" y2="109.29" stroke="#000" stroke-width="1.2"/><line x1="421.7" y1="95.97" x2="426.3" y2="95.97" stroke="#000" stroke-width="1.2"/><line x1="682.6" y1="95.97" x2="678" y2="95.97" stroke="#000" stroke-width="1.2"/><line x1="421.7" y1="82.64" x2="424.5" y2="82.64" stroke="#000" stroke-width="1.2"/><line x1="682.6" y1="82.64" x2="679.8" y2="82.64" stroke="#000" stroke-width="1.2"/><line x1="421.7" y1="69.31" x2="426.3" y2="69.31" stroke="#000" stroke-width="1.2"/><line x1="682.6" y1="69.31" x2="678" y2="69.31" stroke="#000" stroke-width="1.2"/><line x1="421.7" y1="55.98" x2="424.5" y2="55.98" stroke="#000" stroke-width="1.2"/><line x1="682.6" y1="55.98" x2="679.8" y2="55.98" stroke="#000" stroke-width="1.2"/><line x1="421.7" y1="42.66" x2="426.3" y2="42.66" stroke="#000" stroke-width="1.2"/><line x1="682.6" y1="42.66" x2="678" y2="42.66" stroke="#000" stroke-width="1.2"/><line x1="421.7" y1="29.33" x2="424.5" y2="29.33" stroke="#000" stroke-width="1.2"/><line x1="682.6" y1="29.33" x2="679.8" y2="29.33" stroke="#000" stroke-width="1.2"/><line x1="450.83" y1="229.2" x2="450.83" y2="226.4" stroke="#000" stroke-width="1.2"/><line x1="450.83" y1="16" x2="450.83" y2="18.8" stroke="#000" stroke-width="1.2"/><line x1="479.96" y1="229.2" x2="479.96" y2="224.6" stroke="#000" stroke-width="1.2"/><line x1="479.96" y1="16" x2="479.96" y2="20.6" stroke="#000" stroke-width="1.2"/><line x1="509.09" y1="229.2" x2="509.09" y2="226.4" stroke="#000" stroke-width="1.2"/><line x1="509.09" y1="16" x2="509.09" y2="18.8" stroke="#000" stroke-width="1.2"/><line x1="538.22" y1="229.2" x2="538.22" y2="224.6" stroke="#000" stroke-width="1.2"/><line x1="538.22" y1="16" x2="538.22" y2="20.6" stroke="#000" stroke-width="1.2"/><line x1="567.35" y1="229.2" x2="567.35" y2="226.4" stroke="#000" stroke-width="1.2"/><line x1="567.35" y1="16" x2="567.35" y2="18.8" stroke="#000" stroke-width="1.2"/><line x1="596.48" y1="229.2" x2="596.48" y2="224.6" stroke="#000" stroke-width="1.2"/><line x1="596.48" y1="16" x2="596.48" y2="20.6" stroke="#000" stroke-width="1.2"/><line x1="625.61" y1="229.2" x2="625.61" y2="226.4" stroke="#000" stroke-width="1.2"/><line x1="625.61" y1="16" x2="625.61" y2="18.8" stroke="#000" stroke-width="1.2"/><line x1="654.74" y1="229.2" x2="654.74" y2="224.6" stroke="#000" stroke-width="1.2"/><line x1="654.74" y1="16" x2="654.74" y2="20.6" stroke="#000" stroke-width="1.2"/><line x1="654.75" y1="18.7" x2="654.75" y2="228.2" stroke="#000" stroke-width="1.3" stroke-dasharray="2.8 3.24"/><circle cx="456.2" cy="203.7" r="4" fill="url(#gr)" stroke="#1c1ca8" stroke-width="1.2"/><circle cx="514.9" cy="202.9" r="4" fill="url(#gr)" stroke="#1c1ca8" stroke-width="1.2"/><circle cx="573.2" cy="201.1" r="4" fill="url(#gr)" stroke="#1c1ca8" stroke-width="1.2"/><circle cx="602.4" cy="199.2" r="4" fill="url(#gr)" stroke="#1c1ca8" stroke-width="1.2"/><circle cx="660.3" cy="200.4" r="4" fill="url(#gr)" stroke="#1c1ca8" stroke-width="1.2"/><circle cx="631.3" cy="195.9" r="3.9" fill="url(#gg)"/><circle cx="648.7" cy="186.7" r="3.9" fill="url(#gg)"/><path d="M456 199.25 L457.89 199.22 L459.78 199.2 L461.66 199.17 L463.55 199.14 L465.44 199.11 L467.33 199.08 L469.21 199.05 L471.1 199.01 L472.99 198.98 L474.88 198.95 L476.76 198.91 L478.65 198.88 L480.54 198.84 L482.43 198.8 L484.31 198.76 L486.2 198.73 L488.09 198.69 L489.98 198.65 L491.87 198.61 L493.75 198.57 L495.64 198.53 L497.53 198.49 L499.42 198.44 L501.3 198.4 L503.19 198.35 L505.08 198.3 L506.97 198.25 L508.85 198.19 L510.74 198.14 L512.63 198.08 L514.52 198.01 L516.4 197.94 L518.29 197.87 L520.18 197.78 L522.07 197.69 L523.96 197.59 L525.84 197.49 L527.73 197.38 L529.62 197.27 L531.51 197.15 L533.39 197.03 L535.28 196.91 L537.17 196.79 L539.06 196.66 L540.94 196.54 L542.83 196.41 L544.72 196.28 L546.61 196.14 L548.49 195.99 L550.38 195.85 L552.27 195.7 L554.16 195.55 L556.04 195.39 L557.93 195.23 L559.82 195.07 L561.71 194.9 L563.6 194.74 L565.48 194.57 L567.37 194.4 L569.26 194.22 L571.15 194.03 L573.03 193.82 L574.92 193.59 L576.81 193.34 L578.7 193.07 L580.58 192.79 L582.47 192.48 L584.36 192.16 L586.25 191.83 L588.13 191.47 L590.02 191.1 L591.91 190.7 L593.8 190.27 L595.69 189.82 L597.57 189.34 L599.46 188.83 L601.35 188.29 L603.24 187.73 L605.12 187.13 L607.01 186.48 L608.9 185.76 L610.79 184.96 L612.67 184.06 L614.56 182.97 L616.45 181.72 L618.34 180.35 L620.22 178.8 L622.11 177.08 L624 175.2 L625.37 173.84 L626.68 172.48 L627.9 171.11 L629.02 169.75 L630.05 168.39 L631.02 167.03 L631.93 165.67 L632.77 164.31 L633.53 162.94 L634.19 161.58 L634.79 160.22 L635.35 158.86 L635.86 157.5 L636.34 156.13 L636.8 154.77 L637.24 153.41 L637.67 152.05 L638.1 150.69 L638.51 149.33 L638.92 147.96 L639.31 146.6 L639.69 145.24 L640.05 143.88 L640.4 142.52 L640.73 141.16 L641.05 139.79 L641.35 138.43 L641.65 137.07 L641.94 135.71 L642.22 134.35 L642.5 132.98 L642.77 131.62 L643.04 130.26 L643.29 128.9 L643.54 127.54 L643.77 126.18 L644 124.81 L644.21 123.45 L644.41 122.09 L644.6 120.73 L644.78 119.37 L644.95 118 L645.12 116.64 L645.28 115.28 L645.43 113.92 L645.58 112.56 L645.73 111.2 L645.86 109.83 L646 108.47 L646.12 107.11 L646.25 105.75 L646.36 104.39 L646.47 103.02 L646.58 101.66 L646.68 100.3 L646.77 98.94 L646.87 97.58 L646.95 96.22 L647.04 94.85 L647.12 93.49 L647.2 92.13 L647.27 90.77 L647.34 89.41 L647.41 88.04 L647.48 86.68 L647.55 85.32 L647.61 83.96 L647.68 82.6 L647.74 81.24 L647.81 79.87 L647.87 78.51 L647.93 77.15 L647.98 75.79 L648.04 74.43 L648.09 73.07 L648.15 71.7 L648.2 70.34 L648.25 68.98 L648.3 67.62 L648.36 66.26 L648.41 64.89 L648.46 63.53 L648.51 62.17 L648.57 60.81 L648.62 59.45 L648.68 58.09 L648.74 56.72 L648.79 55.36 L648.85 54" fill="none" stroke="#0000e0" stroke-width="3.1" stroke-linecap="round" stroke-linejoin="round"/><g stroke="#0000e0" stroke-width="1.6"><line x1="649" y1="39.8" x2="649" y2="67.8" stroke="#0000e0" stroke-width="1.6"/><line x1="646.25" y1="39.8" x2="651.75" y2="39.8" stroke="#0000e0" stroke-width="1.6"/><line x1="646.25" y1="67.8" x2="651.75" y2="67.8" stroke="#0000e0" stroke-width="1.6"/></g><g stroke="#0000e0" stroke-width="1.6"><line x1="631.4" y1="150.6" x2="631.4" y2="160.4" stroke="#0000e0" stroke-width="1.6"/><line x1="628.4" y1="150.6" x2="634.4" y2="150.6" stroke="#0000e0" stroke-width="1.6"/><line x1="628.4" y1="160.4" x2="634.4" y2="160.4" stroke="#0000e0" stroke-width="1.6"/></g><circle cx="631.4" cy="155.4" r="4.6" fill="url(#gb)"/><circle cx="648.9" cy="54" r="4.8" fill="url(#gb)"/><circle cx="532.8" cy="55" r="5" fill="url(#gb)"/><circle cx="532.8" cy="77" r="4" fill="url(#gg)"/><line x1="521.5" y1="99.4" x2="544.3" y2="99.4" stroke="#0000e0" stroke-width="3.0" stroke-linecap="round"/><text x="551.6" y="59.6" font-size="14.5" font-style="italic">t</text><text x="555.6" y="63.6" font-size="11.5">slow</text><text x="551.6" y="82" font-size="14.5" font-style="italic">t</text><text x="555.6" y="86.4" font-size="11.5">fast</text><text x="551.0" y="104.4" font-size="15.5">Fit</text><g fill="#000"><text x="53.6" y="21.5" font-size="14" text-anchor="end">0.5</text><text x="53.6" y="63.9" font-size="14" text-anchor="end">0.0</text><text x="53.6" y="106.3" font-size="14" text-anchor="end">−0.5</text><text x="53.6" y="148.7" font-size="14" text-anchor="end">−1.0</text><text x="53.6" y="191.1" font-size="14" text-anchor="end">−1.5</text><text x="53.6" y="233.5" font-size="14" text-anchor="end">−2.0</text><text x="86.05" y="249" font-size="14" text-anchor="middle">0</text><text x="130.71" y="249" font-size="14" text-anchor="middle">20</text><text x="175.37" y="249" font-size="14" text-anchor="middle">40</text><text x="239.3" y="249" font-size="14" text-anchor="middle">200</text><text x="283.54" y="249" font-size="14" text-anchor="middle">600</text><text x="327.78" y="249" font-size="14" text-anchor="middle">1000</text><text x="194.7" y="270" font-size="14" text-anchor="middle">Delay (ns)</text><text x="0" y="0" font-size="14" text-anchor="middle" transform="translate(12.6 121.2) rotate(-90)">Δ<tspan font-style="italic">R</tspan>/<tspan font-style="italic">R</tspan> (%)</text><text x="-1.3" y="14.6" font-size="19.5" font-weight="bold" stroke="#000" stroke-width="0.35">a</text><text x="412.6" y="233.94" font-size="14" text-anchor="end">−100</text><text x="412.6" y="207.28" font-size="14" text-anchor="end">0</text><text x="412.6" y="180.63" font-size="14" text-anchor="end">100</text><text x="412.6" y="153.97" font-size="14" text-anchor="end">200</text><text x="412.6" y="127.32" font-size="14" text-anchor="end">300</text><text x="412.6" y="100.67" font-size="14" text-anchor="end">400</text><text x="412.6" y="74.01" font-size="14" text-anchor="end">500</text><text x="412.6" y="47.36" font-size="14" text-anchor="end">600</text><text x="412.6" y="20.7" font-size="14" text-anchor="end">700</text><text x="421.9" y="246" font-size="14" text-anchor="middle">160</text><text x="480.16" y="246" font-size="14" text-anchor="middle">170</text><text x="538.42" y="246" font-size="14" text-anchor="middle">180</text><text x="596.68" y="246" font-size="14" text-anchor="middle">190</text><text x="654.94" y="246" font-size="14" text-anchor="middle">200</text><text x="552.2" y="269.9" font-size="14.1" text-anchor="middle">Temperature (K)</text><text x="0" y="0" font-size="14.3" text-anchor="middle" transform="translate(372.6 122.6) rotate(-90)">Time constant (ns)</text><text x="360.6" y="14.3" font-size="19" font-weight="bold" stroke="#000" stroke-width="0.45">b</text></g></svg></body></html>
